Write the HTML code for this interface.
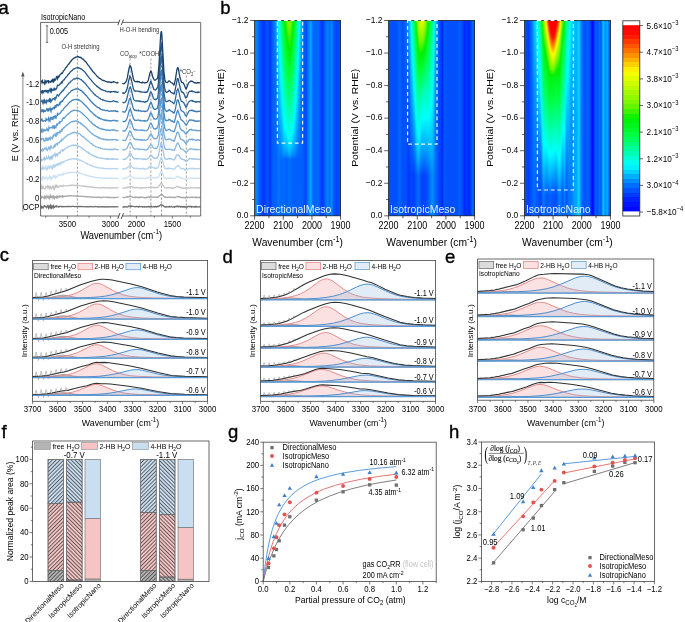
<!DOCTYPE html>
<html><head><meta charset="utf-8"><style>
html,body{margin:0;padding:0;background:#fff;width:685px;height:622px;overflow:hidden}
svg{display:block;will-change:transform}
text{font-family:"Liberation Sans",sans-serif}
</style></head><body>
<svg width="685" height="622" viewBox="0 0 685 622" font-family='"Liberation Sans", sans-serif'><defs><linearGradient id="g1" x1="0" y1="0" x2="0" y2="1"><stop offset="0.000" stop-color="#006bff"/><stop offset="0.384" stop-color="#0060ff"/><stop offset="0.998" stop-color="#005fff"/></linearGradient><linearGradient id="g2" x1="0" y1="0" x2="0" y2="1"><stop offset="0.000" stop-color="#0077ff"/><stop offset="0.410" stop-color="#0063ff"/><stop offset="0.998" stop-color="#0060ff"/></linearGradient><linearGradient id="g3" x1="0" y1="0" x2="0" y2="1"><stop offset="0.000" stop-color="#0088ff"/><stop offset="0.338" stop-color="#006aff"/><stop offset="0.998" stop-color="#0061ff"/></linearGradient><linearGradient id="g4" x1="0" y1="0" x2="0" y2="1"><stop offset="0.000" stop-color="#00a1ff"/><stop offset="0.189" stop-color="#0085ff"/><stop offset="0.430" stop-color="#006eff"/><stop offset="0.691" stop-color="#0064ff"/><stop offset="0.998" stop-color="#0064ff"/></linearGradient><linearGradient id="g5" x1="0" y1="0" x2="0" y2="1"><stop offset="0.000" stop-color="#00c6ff"/><stop offset="0.251" stop-color="#0097ff"/><stop offset="0.502" stop-color="#0078ff"/><stop offset="0.712" stop-color="#0069ff"/><stop offset="0.998" stop-color="#0069ff"/></linearGradient><linearGradient id="g6" x1="0" y1="0" x2="0" y2="1"><stop offset="0.000" stop-color="#00f6ff"/><stop offset="0.236" stop-color="#00bcff"/><stop offset="0.527" stop-color="#008aff"/><stop offset="0.712" stop-color="#0072ff"/><stop offset="0.998" stop-color="#0072ff"/></linearGradient><linearGradient id="g7" x1="0" y1="0" x2="0" y2="1"><stop offset="0.000" stop-color="#00ffdc"/><stop offset="0.128" stop-color="#00feff"/><stop offset="0.358" stop-color="#00c1ff"/><stop offset="0.712" stop-color="#0077ff"/><stop offset="0.998" stop-color="#0077ff"/></linearGradient><linearGradient id="g8" x1="0" y1="0" x2="0" y2="1"><stop offset="0.000" stop-color="#00ffb6"/><stop offset="0.230" stop-color="#00ffff"/><stop offset="0.671" stop-color="#0082ff"/><stop offset="0.712" stop-color="#0070ff"/><stop offset="0.998" stop-color="#0070ff"/></linearGradient><linearGradient id="g9" x1="0" y1="0" x2="0" y2="1"><stop offset="0.000" stop-color="#00ff90"/><stop offset="0.312" stop-color="#00feff"/><stop offset="0.599" stop-color="#009bff"/><stop offset="0.671" stop-color="#007fff"/><stop offset="0.712" stop-color="#0067ff"/><stop offset="0.998" stop-color="#0067ff"/></linearGradient><linearGradient id="g10" x1="0" y1="0" x2="0" y2="1"><stop offset="0.000" stop-color="#00ff5e"/><stop offset="0.184" stop-color="#00ffb1"/><stop offset="0.394" stop-color="#00ffff"/><stop offset="0.614" stop-color="#00a3ff"/><stop offset="0.681" stop-color="#007fff"/><stop offset="0.712" stop-color="#0065ff"/><stop offset="0.998" stop-color="#0065ff"/></linearGradient><linearGradient id="g11" x1="0" y1="0" x2="0" y2="1"><stop offset="0.000" stop-color="#00fb2f"/><stop offset="0.056" stop-color="#00ff42"/><stop offset="0.256" stop-color="#00ffa3"/><stop offset="0.481" stop-color="#00ffff"/><stop offset="0.650" stop-color="#00a5ff"/><stop offset="0.686" stop-color="#008aff"/><stop offset="0.712" stop-color="#006aff"/><stop offset="0.998" stop-color="#006aff"/></linearGradient><linearGradient id="g12" x1="0" y1="0" x2="0" y2="1"><stop offset="0.000" stop-color="#00f40f"/><stop offset="0.143" stop-color="#00ff43"/><stop offset="0.323" stop-color="#00ff9f"/><stop offset="0.533" stop-color="#00ffff"/><stop offset="0.661" stop-color="#00acff"/><stop offset="0.691" stop-color="#008eff"/><stop offset="0.712" stop-color="#006cff"/><stop offset="0.998" stop-color="#006cff"/></linearGradient><linearGradient id="g13" x1="0" y1="0" x2="0" y2="1"><stop offset="0.000" stop-color="#10f100"/><stop offset="0.020" stop-color="#00f002"/><stop offset="0.184" stop-color="#00ff41"/><stop offset="0.317" stop-color="#00ff8c"/><stop offset="0.548" stop-color="#00feff"/><stop offset="0.661" stop-color="#00abff"/><stop offset="0.691" stop-color="#0089ff"/><stop offset="0.712" stop-color="#0065ff"/><stop offset="0.998" stop-color="#0065ff"/></linearGradient><linearGradient id="g14" x1="0" y1="0" x2="0" y2="1"><stop offset="0.000" stop-color="#3bf300"/><stop offset="0.056" stop-color="#00f000"/><stop offset="0.210" stop-color="#00ff3f"/><stop offset="0.348" stop-color="#00ff91"/><stop offset="0.553" stop-color="#00fffe"/><stop offset="0.620" stop-color="#00cfff"/><stop offset="0.666" stop-color="#00a4ff"/><stop offset="0.691" stop-color="#0084ff"/><stop offset="0.712" stop-color="#005eff"/><stop offset="0.998" stop-color="#005eff"/></linearGradient><linearGradient id="g15" x1="0" y1="0" x2="0" y2="1"><stop offset="0.000" stop-color="#69f500"/><stop offset="0.097" stop-color="#00f001"/><stop offset="0.246" stop-color="#00ff40"/><stop offset="0.573" stop-color="#00ffff"/><stop offset="0.661" stop-color="#00b3ff"/><stop offset="0.691" stop-color="#008bff"/><stop offset="0.712" stop-color="#0061ff"/><stop offset="0.998" stop-color="#0061ff"/></linearGradient><linearGradient id="g16" x1="0" y1="0" x2="0" y2="1"><stop offset="0.000" stop-color="#80f600"/><stop offset="0.026" stop-color="#71f500"/><stop offset="0.128" stop-color="#00f000"/><stop offset="0.276" stop-color="#00ff40"/><stop offset="0.594" stop-color="#00ffff"/><stop offset="0.671" stop-color="#00b5ff"/><stop offset="0.696" stop-color="#008fff"/><stop offset="0.712" stop-color="#006aff"/><stop offset="0.998" stop-color="#006aff"/></linearGradient><linearGradient id="g17" x1="0" y1="0" x2="0" y2="1"><stop offset="0.000" stop-color="#89f700"/><stop offset="0.041" stop-color="#70f500"/><stop offset="0.143" stop-color="#00f001"/><stop offset="0.292" stop-color="#00ff41"/><stop offset="0.604" stop-color="#00feff"/><stop offset="0.671" stop-color="#00bdff"/><stop offset="0.691" stop-color="#00a0ff"/><stop offset="0.712" stop-color="#0070ff"/><stop offset="0.998" stop-color="#0070ff"/></linearGradient><linearGradient id="g18" x1="0" y1="0" x2="0" y2="1"><stop offset="0.000" stop-color="#84f700"/><stop offset="0.031" stop-color="#72f500"/><stop offset="0.138" stop-color="#00f002"/><stop offset="0.282" stop-color="#00ff3f"/><stop offset="0.599" stop-color="#00ffff"/><stop offset="0.676" stop-color="#00b3ff"/><stop offset="0.696" stop-color="#0093ff"/><stop offset="0.712" stop-color="#006eff"/><stop offset="0.998" stop-color="#006eff"/></linearGradient><linearGradient id="g19" x1="0" y1="0" x2="0" y2="1"><stop offset="0.000" stop-color="#74f500"/><stop offset="0.113" stop-color="#00f002"/><stop offset="0.261" stop-color="#00ff40"/><stop offset="0.584" stop-color="#00fffe"/><stop offset="0.635" stop-color="#00d5ff"/><stop offset="0.676" stop-color="#00a9ff"/><stop offset="0.696" stop-color="#008aff"/><stop offset="0.712" stop-color="#0067ff"/><stop offset="0.998" stop-color="#0067ff"/></linearGradient><linearGradient id="g20" x1="0" y1="0" x2="0" y2="1"><stop offset="0.000" stop-color="#4bf300"/><stop offset="0.072" stop-color="#00f000"/><stop offset="0.225" stop-color="#00ff3f"/><stop offset="0.568" stop-color="#00fdff"/><stop offset="0.666" stop-color="#00abff"/><stop offset="0.696" stop-color="#0082ff"/><stop offset="0.712" stop-color="#0062ff"/><stop offset="0.998" stop-color="#0062ff"/></linearGradient><linearGradient id="g21" x1="0" y1="0" x2="0" y2="1"><stop offset="0.000" stop-color="#15f100"/><stop offset="0.026" stop-color="#00f002"/><stop offset="0.184" stop-color="#00ff40"/><stop offset="0.323" stop-color="#00ff8f"/><stop offset="0.543" stop-color="#00ffff"/><stop offset="0.655" stop-color="#00acff"/><stop offset="0.686" stop-color="#008bff"/><stop offset="0.712" stop-color="#0061ff"/><stop offset="0.998" stop-color="#0061ff"/></linearGradient><linearGradient id="g22" x1="0" y1="0" x2="0" y2="1"><stop offset="0.000" stop-color="#00f412"/><stop offset="0.123" stop-color="#00ff3f"/><stop offset="0.261" stop-color="#00ff8a"/><stop offset="0.512" stop-color="#00feff"/><stop offset="0.655" stop-color="#00a2ff"/><stop offset="0.686" stop-color="#0085ff"/><stop offset="0.712" stop-color="#0060ff"/><stop offset="0.998" stop-color="#0060ff"/></linearGradient><linearGradient id="g23" x1="0" y1="0" x2="0" y2="1"><stop offset="0.000" stop-color="#00fb30"/><stop offset="0.051" stop-color="#00ff42"/><stop offset="0.251" stop-color="#00ffa6"/><stop offset="0.461" stop-color="#00fffe"/><stop offset="0.640" stop-color="#00a1ff"/><stop offset="0.686" stop-color="#007eff"/><stop offset="0.712" stop-color="#0060ff"/><stop offset="0.998" stop-color="#0060ff"/></linearGradient><linearGradient id="g24" x1="0" y1="0" x2="0" y2="1"><stop offset="0.000" stop-color="#00ff5a"/><stop offset="0.154" stop-color="#00ffa2"/><stop offset="0.394" stop-color="#00ffff"/><stop offset="0.630" stop-color="#0098ff"/><stop offset="0.676" stop-color="#007eff"/><stop offset="0.712" stop-color="#0060ff"/><stop offset="0.998" stop-color="#0060ff"/></linearGradient><linearGradient id="g25" x1="0" y1="0" x2="0" y2="1"><stop offset="0.000" stop-color="#00ff8e"/><stop offset="0.138" stop-color="#00ffc6"/><stop offset="0.307" stop-color="#00feff"/><stop offset="0.594" stop-color="#0097ff"/><stop offset="0.712" stop-color="#0060ff"/><stop offset="0.998" stop-color="#0060ff"/></linearGradient><linearGradient id="g26" x1="0" y1="0" x2="0" y2="1"><stop offset="0.000" stop-color="#00ffc0"/><stop offset="0.195" stop-color="#00feff"/><stop offset="0.712" stop-color="#0060ff"/><stop offset="0.998" stop-color="#0060ff"/></linearGradient><linearGradient id="g27" x1="0" y1="0" x2="0" y2="1"><stop offset="0.000" stop-color="#00ffec"/><stop offset="0.061" stop-color="#00ffff"/><stop offset="0.348" stop-color="#00adff"/><stop offset="0.712" stop-color="#0060ff"/><stop offset="0.998" stop-color="#0060ff"/></linearGradient><linearGradient id="g28" x1="0" y1="0" x2="0" y2="1"><stop offset="0.000" stop-color="#00e7ff"/><stop offset="0.271" stop-color="#00a3ff"/><stop offset="0.568" stop-color="#0070ff"/><stop offset="0.712" stop-color="#0060ff"/><stop offset="0.998" stop-color="#0060ff"/></linearGradient><linearGradient id="g29" x1="0" y1="0" x2="0" y2="1"><stop offset="0.000" stop-color="#00c1ff"/><stop offset="0.256" stop-color="#008eff"/><stop offset="0.492" stop-color="#006fff"/><stop offset="0.712" stop-color="#0060ff"/><stop offset="0.998" stop-color="#0060ff"/></linearGradient><linearGradient id="g30" x1="0" y1="0" x2="0" y2="1"><stop offset="0.000" stop-color="#00a1ff"/><stop offset="0.374" stop-color="#006fff"/><stop offset="0.691" stop-color="#0060ff"/><stop offset="0.998" stop-color="#0060ff"/></linearGradient><linearGradient id="g31" x1="0" y1="0" x2="0" y2="1"><stop offset="0.000" stop-color="#0083ff"/><stop offset="0.179" stop-color="#006eff"/><stop offset="0.389" stop-color="#0062ff"/><stop offset="0.998" stop-color="#005aff"/></linearGradient><linearGradient id="g32" x1="0" y1="0" x2="0" y2="1"><stop offset="0.000" stop-color="#0066ff"/><stop offset="0.435" stop-color="#0052ff"/><stop offset="0.998" stop-color="#004fff"/></linearGradient><linearGradient id="g33" x1="0" y1="0" x2="0" y2="1"><stop offset="0.000" stop-color="#0055ff"/><stop offset="0.389" stop-color="#0049ff"/><stop offset="0.998" stop-color="#0047ff"/></linearGradient><linearGradient id="g34" x1="0" y1="0" x2="0" y2="1"><stop offset="0.000" stop-color="#005aff"/><stop offset="0.456" stop-color="#004fff"/><stop offset="0.998" stop-color="#004eff"/></linearGradient><linearGradient id="g35" x1="0" y1="0" x2="0" y2="1"><stop offset="0.000" stop-color="#0065ff"/><stop offset="0.420" stop-color="#0054ff"/><stop offset="0.998" stop-color="#0050ff"/></linearGradient><linearGradient id="g36" x1="0" y1="0" x2="0" y2="1"><stop offset="0.000" stop-color="#0071ff"/><stop offset="0.420" stop-color="#0057ff"/><stop offset="0.998" stop-color="#004fff"/></linearGradient><linearGradient id="g37" x1="0" y1="0" x2="0" y2="1"><stop offset="0.000" stop-color="#007bff"/><stop offset="0.174" stop-color="#0066ff"/><stop offset="0.451" stop-color="#0052ff"/><stop offset="0.768" stop-color="#0046ff"/><stop offset="0.998" stop-color="#0046ff"/></linearGradient><linearGradient id="g38" x1="0" y1="0" x2="0" y2="1"><stop offset="0.000" stop-color="#0086ff"/><stop offset="0.169" stop-color="#0069ff"/><stop offset="0.440" stop-color="#004dff"/><stop offset="0.783" stop-color="#0038ff"/><stop offset="0.998" stop-color="#0038ff"/></linearGradient><linearGradient id="g39" x1="0" y1="0" x2="0" y2="1"><stop offset="0.000" stop-color="#00a8ff"/><stop offset="0.271" stop-color="#006dff"/><stop offset="0.451" stop-color="#0056ff"/><stop offset="0.789" stop-color="#0037ff"/><stop offset="0.998" stop-color="#0037ff"/></linearGradient><linearGradient id="g40" x1="0" y1="0" x2="0" y2="1"><stop offset="0.000" stop-color="#00e0ff"/><stop offset="0.179" stop-color="#00abff"/><stop offset="0.456" stop-color="#006dff"/><stop offset="0.794" stop-color="#0040ff"/><stop offset="0.998" stop-color="#0040ff"/></linearGradient><linearGradient id="g41" x1="0" y1="0" x2="0" y2="1"><stop offset="0.000" stop-color="#00ffeb"/><stop offset="0.061" stop-color="#00feff"/><stop offset="0.323" stop-color="#00aaff"/><stop offset="0.604" stop-color="#0066ff"/><stop offset="0.794" stop-color="#0045ff"/><stop offset="0.998" stop-color="#0045ff"/></linearGradient><linearGradient id="g42" x1="0" y1="0" x2="0" y2="1"><stop offset="0.000" stop-color="#00ffc2"/><stop offset="0.164" stop-color="#00feff"/><stop offset="0.486" stop-color="#0090ff"/><stop offset="0.789" stop-color="#0042ff"/><stop offset="0.998" stop-color="#0041ff"/></linearGradient><linearGradient id="g43" x1="0" y1="0" x2="0" y2="1"><stop offset="0.000" stop-color="#00ff93"/><stop offset="0.113" stop-color="#00ffc9"/><stop offset="0.251" stop-color="#00feff"/><stop offset="0.599" stop-color="#007bff"/><stop offset="0.794" stop-color="#003eff"/><stop offset="0.998" stop-color="#003eff"/></linearGradient><linearGradient id="g44" x1="0" y1="0" x2="0" y2="1"><stop offset="0.000" stop-color="#00ff57"/><stop offset="0.133" stop-color="#00ffa5"/><stop offset="0.338" stop-color="#00ffff"/><stop offset="0.794" stop-color="#0042ff"/><stop offset="0.998" stop-color="#0042ff"/></linearGradient><linearGradient id="g45" x1="0" y1="0" x2="0" y2="1"><stop offset="0.000" stop-color="#00f925"/><stop offset="0.056" stop-color="#00ff3e"/><stop offset="0.230" stop-color="#00ffa9"/><stop offset="0.415" stop-color="#00fffe"/><stop offset="0.794" stop-color="#004bff"/><stop offset="0.998" stop-color="#004bff"/></linearGradient><linearGradient id="g46" x1="0" y1="0" x2="0" y2="1"><stop offset="0.000" stop-color="#12f100"/><stop offset="0.015" stop-color="#00f001"/><stop offset="0.138" stop-color="#00ff3e"/><stop offset="0.302" stop-color="#00ffa7"/><stop offset="0.486" stop-color="#00ffff"/><stop offset="0.661" stop-color="#00a5ff"/><stop offset="0.794" stop-color="#0056ff"/><stop offset="0.998" stop-color="#0056ff"/></linearGradient><linearGradient id="g47" x1="0" y1="0" x2="0" y2="1"><stop offset="0.000" stop-color="#76f600"/><stop offset="0.087" stop-color="#01f000"/><stop offset="0.210" stop-color="#00ff3f"/><stop offset="0.353" stop-color="#00ffa0"/><stop offset="0.543" stop-color="#00fffe"/><stop offset="0.712" stop-color="#009fff"/><stop offset="0.794" stop-color="#0063ff"/><stop offset="0.998" stop-color="#0063ff"/></linearGradient><linearGradient id="g48" x1="0" y1="0" x2="0" y2="1"><stop offset="0.000" stop-color="#a8f900"/><stop offset="0.067" stop-color="#70f500"/><stop offset="0.143" stop-color="#00f001"/><stop offset="0.261" stop-color="#00ff41"/><stop offset="0.328" stop-color="#00ff74"/><stop offset="0.415" stop-color="#00ffab"/><stop offset="0.584" stop-color="#00feff"/><stop offset="0.732" stop-color="#00a1ff"/><stop offset="0.794" stop-color="#006dff"/><stop offset="0.998" stop-color="#006dff"/></linearGradient><linearGradient id="g49" x1="0" y1="0" x2="0" y2="1"><stop offset="0.000" stop-color="#cafc00"/><stop offset="0.097" stop-color="#70f500"/><stop offset="0.169" stop-color="#00f001"/><stop offset="0.276" stop-color="#00ff41"/><stop offset="0.410" stop-color="#00ffa6"/><stop offset="0.579" stop-color="#00ffff"/><stop offset="0.712" stop-color="#00abff"/><stop offset="0.794" stop-color="#0068ff"/><stop offset="0.998" stop-color="#0068ff"/></linearGradient><linearGradient id="g50" x1="0" y1="0" x2="0" y2="1"><stop offset="0.000" stop-color="#ddfd00"/><stop offset="0.108" stop-color="#72f500"/><stop offset="0.174" stop-color="#00f000"/><stop offset="0.271" stop-color="#00ff3f"/><stop offset="0.399" stop-color="#00ffab"/><stop offset="0.553" stop-color="#00feff"/><stop offset="0.676" stop-color="#00b2ff"/><stop offset="0.794" stop-color="#005aff"/><stop offset="0.998" stop-color="#005aff"/></linearGradient><linearGradient id="g51" x1="0" y1="0" x2="0" y2="1"><stop offset="0.000" stop-color="#e3fd00"/><stop offset="0.108" stop-color="#71f500"/><stop offset="0.169" stop-color="#02f000"/><stop offset="0.174" stop-color="#00f103"/><stop offset="0.261" stop-color="#00ff40"/><stop offset="0.379" stop-color="#00ffad"/><stop offset="0.451" stop-color="#00ffde"/><stop offset="0.512" stop-color="#00fffe"/><stop offset="0.666" stop-color="#00a3ff"/><stop offset="0.794" stop-color="#0049ff"/><stop offset="0.998" stop-color="#0049ff"/></linearGradient><linearGradient id="g52" x1="0" y1="0" x2="0" y2="1"><stop offset="0.000" stop-color="#e3fd00"/><stop offset="0.108" stop-color="#6ff500"/><stop offset="0.169" stop-color="#00f002"/><stop offset="0.256" stop-color="#00ff40"/><stop offset="0.333" stop-color="#00ff8e"/><stop offset="0.399" stop-color="#00ffc4"/><stop offset="0.497" stop-color="#00ffff"/><stop offset="0.655" stop-color="#00a0ff"/><stop offset="0.794" stop-color="#0041ff"/><stop offset="0.998" stop-color="#0041ff"/></linearGradient><linearGradient id="g53" x1="0" y1="0" x2="0" y2="1"><stop offset="0.000" stop-color="#dcfd00"/><stop offset="0.102" stop-color="#70f500"/><stop offset="0.164" stop-color="#00f000"/><stop offset="0.256" stop-color="#00ff42"/><stop offset="0.328" stop-color="#00ff89"/><stop offset="0.394" stop-color="#00ffbf"/><stop offset="0.502" stop-color="#00feff"/><stop offset="0.666" stop-color="#009cff"/><stop offset="0.794" stop-color="#0043ff"/><stop offset="0.998" stop-color="#0043ff"/></linearGradient><linearGradient id="g54" x1="0" y1="0" x2="0" y2="1"><stop offset="0.000" stop-color="#c6fb00"/><stop offset="0.082" stop-color="#73f500"/><stop offset="0.148" stop-color="#00f000"/><stop offset="0.241" stop-color="#00ff3f"/><stop offset="0.374" stop-color="#00ffb5"/><stop offset="0.497" stop-color="#00ffff"/><stop offset="0.650" stop-color="#00a4ff"/><stop offset="0.794" stop-color="#0043ff"/><stop offset="0.998" stop-color="#0043ff"/></linearGradient><linearGradient id="g55" x1="0" y1="0" x2="0" y2="1"><stop offset="0.000" stop-color="#a8f900"/><stop offset="0.056" stop-color="#73f500"/><stop offset="0.128" stop-color="#00f002"/><stop offset="0.225" stop-color="#00ff40"/><stop offset="0.358" stop-color="#00ffaf"/><stop offset="0.497" stop-color="#00feff"/><stop offset="0.650" stop-color="#00a5ff"/><stop offset="0.794" stop-color="#0045ff"/><stop offset="0.998" stop-color="#0045ff"/></linearGradient><linearGradient id="g56" x1="0" y1="0" x2="0" y2="1"><stop offset="0.000" stop-color="#85f700"/><stop offset="0.026" stop-color="#6ef500"/><stop offset="0.097" stop-color="#00f001"/><stop offset="0.205" stop-color="#00ff40"/><stop offset="0.287" stop-color="#00ff83"/><stop offset="0.364" stop-color="#00ffb7"/><stop offset="0.497" stop-color="#00fffe"/><stop offset="0.676" stop-color="#0099ff"/><stop offset="0.794" stop-color="#004bff"/><stop offset="0.998" stop-color="#004bff"/></linearGradient><linearGradient id="g57" x1="0" y1="0" x2="0" y2="1"><stop offset="0.000" stop-color="#50f400"/><stop offset="0.056" stop-color="#00f000"/><stop offset="0.174" stop-color="#00ff3f"/><stop offset="0.271" stop-color="#00ff86"/><stop offset="0.348" stop-color="#00ffb5"/><stop offset="0.497" stop-color="#00ffff"/><stop offset="0.609" stop-color="#00c3ff"/><stop offset="0.794" stop-color="#0052ff"/><stop offset="0.998" stop-color="#0052ff"/></linearGradient><linearGradient id="g58" x1="0" y1="0" x2="0" y2="1"><stop offset="0.000" stop-color="#08f000"/><stop offset="0.010" stop-color="#00f102"/><stop offset="0.133" stop-color="#00ff3e"/><stop offset="0.292" stop-color="#00ffa1"/><stop offset="0.492" stop-color="#00ffff"/><stop offset="0.661" stop-color="#00a9ff"/><stop offset="0.794" stop-color="#005aff"/><stop offset="0.998" stop-color="#005aff"/></linearGradient><linearGradient id="g59" x1="0" y1="0" x2="0" y2="1"><stop offset="0.000" stop-color="#00f619"/><stop offset="0.092" stop-color="#00ff40"/><stop offset="0.266" stop-color="#00ffa2"/><stop offset="0.486" stop-color="#00feff"/><stop offset="0.696" stop-color="#009cff"/><stop offset="0.794" stop-color="#0065ff"/><stop offset="0.998" stop-color="#0065ff"/></linearGradient><linearGradient id="g60" x1="0" y1="0" x2="0" y2="1"><stop offset="0.000" stop-color="#00fc33"/><stop offset="0.236" stop-color="#00ffa4"/><stop offset="0.471" stop-color="#00fffe"/><stop offset="0.681" stop-color="#00aaff"/><stop offset="0.794" stop-color="#0072ff"/><stop offset="0.998" stop-color="#0072ff"/></linearGradient><linearGradient id="g61" x1="0" y1="0" x2="0" y2="1"><stop offset="0.000" stop-color="#00ff52"/><stop offset="0.200" stop-color="#00ffaa"/><stop offset="0.451" stop-color="#00ffff"/><stop offset="0.794" stop-color="#0081ff"/><stop offset="0.998" stop-color="#0081ff"/></linearGradient><linearGradient id="g62" x1="0" y1="0" x2="0" y2="1"><stop offset="0.000" stop-color="#00ff7b"/><stop offset="0.154" stop-color="#00ffb5"/><stop offset="0.405" stop-color="#00feff"/><stop offset="0.794" stop-color="#008aff"/><stop offset="0.998" stop-color="#008aff"/></linearGradient><linearGradient id="g63" x1="0" y1="0" x2="0" y2="1"><stop offset="0.000" stop-color="#00ffab"/><stop offset="0.297" stop-color="#00ffff"/><stop offset="0.533" stop-color="#00c2ff"/><stop offset="0.794" stop-color="#0089ff"/><stop offset="0.998" stop-color="#0089ff"/></linearGradient><linearGradient id="g64" x1="0" y1="0" x2="0" y2="1"><stop offset="0.000" stop-color="#00ffe1"/><stop offset="0.118" stop-color="#00ffff"/><stop offset="0.374" stop-color="#00c1ff"/><stop offset="0.794" stop-color="#007aff"/><stop offset="0.998" stop-color="#007aff"/></linearGradient><linearGradient id="g65" x1="0" y1="0" x2="0" y2="1"><stop offset="0.000" stop-color="#00e4ff"/><stop offset="0.276" stop-color="#00a9ff"/><stop offset="0.538" stop-color="#0082ff"/><stop offset="0.789" stop-color="#006aff"/><stop offset="0.998" stop-color="#006aff"/></linearGradient><linearGradient id="g66" x1="0" y1="0" x2="0" y2="1"><stop offset="0.000" stop-color="#00b2ff"/><stop offset="0.236" stop-color="#008bff"/><stop offset="0.466" stop-color="#0070ff"/><stop offset="0.778" stop-color="#005fff"/><stop offset="0.998" stop-color="#005fff"/></linearGradient><linearGradient id="g67" x1="0" y1="0" x2="0" y2="1"><stop offset="0.000" stop-color="#008eff"/><stop offset="0.200" stop-color="#0074ff"/><stop offset="0.440" stop-color="#0063ff"/><stop offset="0.998" stop-color="#0058ff"/></linearGradient><linearGradient id="g68" x1="0" y1="0" x2="0" y2="1"><stop offset="0.000" stop-color="#0072ff"/><stop offset="0.476" stop-color="#0058ff"/><stop offset="0.998" stop-color="#0053ff"/></linearGradient><linearGradient id="g69" x1="0" y1="0" x2="0" y2="1"><stop offset="0.000" stop-color="#0059ff"/><stop offset="0.435" stop-color="#0049ff"/><stop offset="0.998" stop-color="#0046ff"/></linearGradient><linearGradient id="g70" x1="0" y1="0" x2="0" y2="1"><stop offset="0.000" stop-color="#0046ff"/><stop offset="0.435" stop-color="#003cff"/><stop offset="0.998" stop-color="#003bff"/></linearGradient><linearGradient id="g71" x1="0" y1="0" x2="0" y2="1"><stop offset="0.000" stop-color="#0056ff"/><stop offset="0.998" stop-color="#0047ff"/></linearGradient><linearGradient id="g72" x1="0" y1="0" x2="0" y2="1"><stop offset="0.000" stop-color="#0069ff"/><stop offset="0.451" stop-color="#0059ff"/><stop offset="0.998" stop-color="#0052ff"/></linearGradient><linearGradient id="g73" x1="0" y1="0" x2="0" y2="1"><stop offset="0.000" stop-color="#0075ff"/><stop offset="0.461" stop-color="#005eff"/><stop offset="0.998" stop-color="#0054ff"/></linearGradient><linearGradient id="g74" x1="0" y1="0" x2="0" y2="1"><stop offset="0.000" stop-color="#0092ff"/><stop offset="0.405" stop-color="#006fff"/><stop offset="0.998" stop-color="#005dff"/></linearGradient><linearGradient id="g75" x1="0" y1="0" x2="0" y2="1"><stop offset="0.000" stop-color="#00bcff"/><stop offset="0.497" stop-color="#0085ff"/><stop offset="0.835" stop-color="#006fff"/><stop offset="0.998" stop-color="#006dff"/></linearGradient><linearGradient id="g76" x1="0" y1="0" x2="0" y2="1"><stop offset="0.000" stop-color="#00cfff"/><stop offset="0.215" stop-color="#00aaff"/><stop offset="0.543" stop-color="#0081ff"/><stop offset="0.789" stop-color="#006cff"/><stop offset="0.998" stop-color="#0066ff"/></linearGradient><linearGradient id="g77" x1="0" y1="0" x2="0" y2="1"><stop offset="0.000" stop-color="#00e1ff"/><stop offset="0.241" stop-color="#00adff"/><stop offset="0.563" stop-color="#007aff"/><stop offset="0.850" stop-color="#005eff"/><stop offset="0.998" stop-color="#005bff"/></linearGradient><linearGradient id="g78" x1="0" y1="0" x2="0" y2="1"><stop offset="0.000" stop-color="#00fff8"/><stop offset="0.020" stop-color="#00ffff"/><stop offset="0.307" stop-color="#00b7ff"/><stop offset="0.609" stop-color="#007dff"/><stop offset="0.896" stop-color="#005aff"/><stop offset="0.998" stop-color="#005aff"/></linearGradient><linearGradient id="g79" x1="0" y1="0" x2="0" y2="1"><stop offset="0.000" stop-color="#00ffd3"/><stop offset="0.138" stop-color="#00ffff"/><stop offset="0.394" stop-color="#00b8ff"/><stop offset="0.614" stop-color="#0085ff"/><stop offset="0.891" stop-color="#0058ff"/><stop offset="0.998" stop-color="#0057ff"/></linearGradient><linearGradient id="g80" x1="0" y1="0" x2="0" y2="1"><stop offset="0.000" stop-color="#00ffb1"/><stop offset="0.087" stop-color="#00ffd7"/><stop offset="0.215" stop-color="#00ffff"/><stop offset="0.456" stop-color="#00b2ff"/><stop offset="0.701" stop-color="#0070ff"/><stop offset="0.901" stop-color="#004dff"/><stop offset="0.998" stop-color="#004dff"/></linearGradient><linearGradient id="g81" x1="0" y1="0" x2="0" y2="1"><stop offset="0.000" stop-color="#00ff89"/><stop offset="0.108" stop-color="#00ffc3"/><stop offset="0.276" stop-color="#00ffff"/><stop offset="0.691" stop-color="#0070ff"/><stop offset="0.901" stop-color="#0042ff"/><stop offset="0.998" stop-color="#0042ff"/></linearGradient><linearGradient id="g82" x1="0" y1="0" x2="0" y2="1"><stop offset="0.000" stop-color="#00ff4d"/><stop offset="0.051" stop-color="#00ff77"/><stop offset="0.113" stop-color="#00ff9b"/><stop offset="0.364" stop-color="#00feff"/><stop offset="0.727" stop-color="#006fff"/><stop offset="0.901" stop-color="#0042ff"/><stop offset="0.998" stop-color="#0042ff"/></linearGradient><linearGradient id="g83" x1="0" y1="0" x2="0" y2="1"><stop offset="0.000" stop-color="#00f515"/><stop offset="0.072" stop-color="#00ff3e"/><stop offset="0.164" stop-color="#00ff77"/><stop offset="0.476" stop-color="#00ffff"/><stop offset="0.804" stop-color="#006fff"/><stop offset="0.901" stop-color="#0052ff"/><stop offset="0.998" stop-color="#0052ff"/></linearGradient><linearGradient id="g84" x1="0" y1="0" x2="0" y2="1"><stop offset="0.000" stop-color="#64f400"/><stop offset="0.031" stop-color="#2cf200"/><stop offset="0.061" stop-color="#00f002"/><stop offset="0.128" stop-color="#00f925"/><stop offset="0.200" stop-color="#00ff3f"/><stop offset="0.604" stop-color="#00ffff"/><stop offset="0.896" stop-color="#0072ff"/><stop offset="0.998" stop-color="#0071ff"/></linearGradient><linearGradient id="g85" x1="0" y1="0" x2="0" y2="1"><stop offset="0.000" stop-color="#a6f900"/><stop offset="0.051" stop-color="#70f500"/><stop offset="0.077" stop-color="#42f300"/><stop offset="0.123" stop-color="#00f000"/><stop offset="0.292" stop-color="#00ff43"/><stop offset="0.655" stop-color="#00ffff"/><stop offset="0.901" stop-color="#007aff"/><stop offset="0.998" stop-color="#007aff"/></linearGradient><linearGradient id="g86" x1="0" y1="0" x2="0" y2="1"><stop offset="0.000" stop-color="#d2fc00"/><stop offset="0.082" stop-color="#71f500"/><stop offset="0.118" stop-color="#2ff200"/><stop offset="0.148" stop-color="#00f000"/><stop offset="0.200" stop-color="#00f61b"/><stop offset="0.297" stop-color="#00ff3f"/><stop offset="0.640" stop-color="#00feff"/><stop offset="0.886" stop-color="#006cff"/><stop offset="0.901" stop-color="#0066ff"/><stop offset="0.998" stop-color="#0066ff"/></linearGradient><linearGradient id="g87" x1="0" y1="0" x2="0" y2="1"><stop offset="0.000" stop-color="#fff100"/><stop offset="0.010" stop-color="#f9ff00"/><stop offset="0.061" stop-color="#b1fa00"/><stop offset="0.118" stop-color="#6df500"/><stop offset="0.179" stop-color="#00f000"/><stop offset="0.241" stop-color="#00f821"/><stop offset="0.323" stop-color="#00ff40"/><stop offset="0.640" stop-color="#00ffff"/><stop offset="0.891" stop-color="#0061ff"/><stop offset="0.998" stop-color="#005dff"/></linearGradient><linearGradient id="g88" x1="0" y1="0" x2="0" y2="1"><stop offset="0.000" stop-color="#ff9300"/><stop offset="0.041" stop-color="#fffd00"/><stop offset="0.148" stop-color="#6df500"/><stop offset="0.189" stop-color="#1bf100"/><stop offset="0.210" stop-color="#00f103"/><stop offset="0.266" stop-color="#00f822"/><stop offset="0.343" stop-color="#00ff40"/><stop offset="0.645" stop-color="#00feff"/><stop offset="0.819" stop-color="#0084ff"/><stop offset="0.891" stop-color="#005aff"/><stop offset="0.998" stop-color="#0056ff"/></linearGradient><linearGradient id="g89" x1="0" y1="0" x2="0" y2="1"><stop offset="0.000" stop-color="#ff3600"/><stop offset="0.077" stop-color="#fffc00"/><stop offset="0.082" stop-color="#f9ff00"/><stop offset="0.179" stop-color="#6ff500"/><stop offset="0.210" stop-color="#2cf200"/><stop offset="0.236" stop-color="#00f001"/><stop offset="0.287" stop-color="#00f71f"/><stop offset="0.379" stop-color="#00ff46"/><stop offset="0.661" stop-color="#00fdff"/><stop offset="0.886" stop-color="#005eff"/><stop offset="0.901" stop-color="#0057ff"/><stop offset="0.998" stop-color="#0057ff"/></linearGradient><linearGradient id="g90" x1="0" y1="0" x2="0" y2="1"><stop offset="0.000" stop-color="#ff0100"/><stop offset="0.020" stop-color="#ff1000"/><stop offset="0.113" stop-color="#feff00"/><stop offset="0.210" stop-color="#6df500"/><stop offset="0.261" stop-color="#00f000"/><stop offset="0.302" stop-color="#00f619"/><stop offset="0.405" stop-color="#00ff44"/><stop offset="0.676" stop-color="#00fffe"/><stop offset="0.896" stop-color="#005fff"/><stop offset="0.998" stop-color="#005dff"/></linearGradient><linearGradient id="g91" x1="0" y1="0" x2="0" y2="1"><stop offset="0.000" stop-color="#ff0000"/><stop offset="0.031" stop-color="#ff0100"/><stop offset="0.051" stop-color="#ff1200"/><stop offset="0.092" stop-color="#ff7a00"/><stop offset="0.138" stop-color="#fffb00"/><stop offset="0.143" stop-color="#f9ff00"/><stop offset="0.230" stop-color="#70f500"/><stop offset="0.276" stop-color="#00f000"/><stop offset="0.292" stop-color="#00f30d"/><stop offset="0.420" stop-color="#00ff44"/><stop offset="0.686" stop-color="#00fffe"/><stop offset="0.896" stop-color="#0062ff"/><stop offset="0.998" stop-color="#0060ff"/></linearGradient><linearGradient id="g92" x1="0" y1="0" x2="0" y2="1"><stop offset="0.000" stop-color="#ff0000"/><stop offset="0.051" stop-color="#ff0100"/><stop offset="0.072" stop-color="#ff1000"/><stop offset="0.118" stop-color="#ff8600"/><stop offset="0.159" stop-color="#fffc00"/><stop offset="0.164" stop-color="#f8ff00"/><stop offset="0.246" stop-color="#6cf500"/><stop offset="0.282" stop-color="#03f000"/><stop offset="0.287" stop-color="#00f105"/><stop offset="0.420" stop-color="#00ff41"/><stop offset="0.691" stop-color="#00fdff"/><stop offset="0.870" stop-color="#0070ff"/><stop offset="0.901" stop-color="#005eff"/><stop offset="0.998" stop-color="#005eff"/></linearGradient><linearGradient id="g93" x1="0" y1="0" x2="0" y2="1"><stop offset="0.000" stop-color="#ff0000"/><stop offset="0.061" stop-color="#ff0000"/><stop offset="0.082" stop-color="#ff0f00"/><stop offset="0.123" stop-color="#ff7700"/><stop offset="0.169" stop-color="#fffd00"/><stop offset="0.174" stop-color="#f7ff00"/><stop offset="0.246" stop-color="#77f600"/><stop offset="0.282" stop-color="#01f000"/><stop offset="0.292" stop-color="#00f30f"/><stop offset="0.410" stop-color="#00ff41"/><stop offset="0.676" stop-color="#00ffff"/><stop offset="0.855" stop-color="#0071ff"/><stop offset="0.896" stop-color="#0058ff"/><stop offset="0.998" stop-color="#0056ff"/></linearGradient><linearGradient id="g94" x1="0" y1="0" x2="0" y2="1"><stop offset="0.000" stop-color="#ff0000"/><stop offset="0.061" stop-color="#ff0000"/><stop offset="0.087" stop-color="#ff1000"/><stop offset="0.133" stop-color="#ff8900"/><stop offset="0.174" stop-color="#feff00"/><stop offset="0.251" stop-color="#70f500"/><stop offset="0.282" stop-color="#00f000"/><stop offset="0.292" stop-color="#00f411"/><stop offset="0.410" stop-color="#00ff45"/><stop offset="0.671" stop-color="#00ffff"/><stop offset="0.850" stop-color="#0070ff"/><stop offset="0.901" stop-color="#0052ff"/><stop offset="0.998" stop-color="#0052ff"/></linearGradient><linearGradient id="g95" x1="0" y1="0" x2="0" y2="1"><stop offset="0.000" stop-color="#ff0000"/><stop offset="0.061" stop-color="#ff0000"/><stop offset="0.082" stop-color="#ff0e00"/><stop offset="0.123" stop-color="#ff7200"/><stop offset="0.164" stop-color="#ffe900"/><stop offset="0.174" stop-color="#faff00"/><stop offset="0.251" stop-color="#6ff500"/><stop offset="0.282" stop-color="#03f000"/><stop offset="0.287" stop-color="#00f207"/><stop offset="0.297" stop-color="#00f411"/><stop offset="0.410" stop-color="#00ff41"/><stop offset="0.676" stop-color="#00fffe"/><stop offset="0.855" stop-color="#0071ff"/><stop offset="0.901" stop-color="#0056ff"/><stop offset="0.998" stop-color="#0056ff"/></linearGradient><linearGradient id="g96" x1="0" y1="0" x2="0" y2="1"><stop offset="0.000" stop-color="#ff0000"/><stop offset="0.046" stop-color="#ff0000"/><stop offset="0.067" stop-color="#ff0e00"/><stop offset="0.102" stop-color="#ff6600"/><stop offset="0.154" stop-color="#fff700"/><stop offset="0.159" stop-color="#fbff00"/><stop offset="0.236" stop-color="#76f500"/><stop offset="0.276" stop-color="#00f002"/><stop offset="0.292" stop-color="#00f515"/><stop offset="0.399" stop-color="#00ff44"/><stop offset="0.666" stop-color="#00fdff"/><stop offset="0.845" stop-color="#0070ff"/><stop offset="0.896" stop-color="#0051ff"/><stop offset="0.998" stop-color="#004fff"/></linearGradient><linearGradient id="g97" x1="0" y1="0" x2="0" y2="1"><stop offset="0.000" stop-color="#ff0000"/><stop offset="0.026" stop-color="#ff0100"/><stop offset="0.046" stop-color="#ff1000"/><stop offset="0.092" stop-color="#ff8700"/><stop offset="0.133" stop-color="#fffc00"/><stop offset="0.138" stop-color="#f8ff00"/><stop offset="0.220" stop-color="#73f500"/><stop offset="0.261" stop-color="#05f000"/><stop offset="0.266" stop-color="#00f103"/><stop offset="0.292" stop-color="#00f61c"/><stop offset="0.379" stop-color="#00ff40"/><stop offset="0.650" stop-color="#00fffe"/><stop offset="0.835" stop-color="#0070ff"/><stop offset="0.896" stop-color="#004cff"/><stop offset="0.998" stop-color="#004aff"/></linearGradient><linearGradient id="g98" x1="0" y1="0" x2="0" y2="1"><stop offset="0.000" stop-color="#ff0000"/><stop offset="0.026" stop-color="#ff1700"/><stop offset="0.067" stop-color="#ff7e00"/><stop offset="0.113" stop-color="#fffd00"/><stop offset="0.118" stop-color="#f7ff00"/><stop offset="0.205" stop-color="#73f500"/><stop offset="0.256" stop-color="#00f000"/><stop offset="0.292" stop-color="#00f61a"/><stop offset="0.384" stop-color="#00ff40"/><stop offset="0.661" stop-color="#00fffe"/><stop offset="0.850" stop-color="#0070ff"/><stop offset="0.901" stop-color="#0053ff"/><stop offset="0.998" stop-color="#0053ff"/></linearGradient><linearGradient id="g99" x1="0" y1="0" x2="0" y2="1"><stop offset="0.000" stop-color="#ff1400"/><stop offset="0.092" stop-color="#feff00"/><stop offset="0.133" stop-color="#c0fb00"/><stop offset="0.195" stop-color="#70f500"/><stop offset="0.225" stop-color="#30f200"/><stop offset="0.256" stop-color="#00f001"/><stop offset="0.405" stop-color="#00ff43"/><stop offset="0.686" stop-color="#00ffff"/><stop offset="0.886" stop-color="#006dff"/><stop offset="0.901" stop-color="#0066ff"/><stop offset="0.998" stop-color="#0066ff"/></linearGradient><linearGradient id="g100" x1="0" y1="0" x2="0" y2="1"><stop offset="0.000" stop-color="#ff5b00"/><stop offset="0.067" stop-color="#feff00"/><stop offset="0.128" stop-color="#a8f900"/><stop offset="0.179" stop-color="#6df500"/><stop offset="0.220" stop-color="#26f200"/><stop offset="0.251" stop-color="#00f001"/><stop offset="0.405" stop-color="#00ff3f"/><stop offset="0.707" stop-color="#00ffff"/><stop offset="0.901" stop-color="#0077ff"/><stop offset="0.998" stop-color="#0077ff"/></linearGradient><linearGradient id="g101" x1="0" y1="0" x2="0" y2="1"><stop offset="0.000" stop-color="#ffb800"/><stop offset="0.031" stop-color="#fdff00"/><stop offset="0.097" stop-color="#a5f900"/><stop offset="0.143" stop-color="#74f500"/><stop offset="0.189" stop-color="#2af200"/><stop offset="0.225" stop-color="#00f001"/><stop offset="0.384" stop-color="#00ff3f"/><stop offset="0.701" stop-color="#00ffff"/><stop offset="0.896" stop-color="#007fff"/><stop offset="0.998" stop-color="#007dff"/></linearGradient><linearGradient id="g102" x1="0" y1="0" x2="0" y2="1"><stop offset="0.000" stop-color="#e4fd00"/><stop offset="0.041" stop-color="#aefa00"/><stop offset="0.097" stop-color="#70f500"/><stop offset="0.128" stop-color="#38f300"/><stop offset="0.169" stop-color="#00f002"/><stop offset="0.328" stop-color="#00ff42"/><stop offset="0.661" stop-color="#00feff"/><stop offset="0.896" stop-color="#006fff"/><stop offset="0.998" stop-color="#006eff"/></linearGradient><linearGradient id="g103" x1="0" y1="0" x2="0" y2="1"><stop offset="0.000" stop-color="#9bf800"/><stop offset="0.036" stop-color="#72f500"/><stop offset="0.082" stop-color="#1df100"/><stop offset="0.102" stop-color="#00f002"/><stop offset="0.159" stop-color="#00f822"/><stop offset="0.230" stop-color="#00ff3e"/><stop offset="0.594" stop-color="#00ffff"/><stop offset="0.850" stop-color="#0070ff"/><stop offset="0.896" stop-color="#005dff"/><stop offset="0.998" stop-color="#005cff"/></linearGradient><linearGradient id="g104" x1="0" y1="0" x2="0" y2="1"><stop offset="0.000" stop-color="#53f400"/><stop offset="0.046" stop-color="#00f000"/><stop offset="0.092" stop-color="#00f71e"/><stop offset="0.164" stop-color="#00ff3e"/><stop offset="0.553" stop-color="#00ffff"/><stop offset="0.860" stop-color="#0067ff"/><stop offset="0.901" stop-color="#0059ff"/><stop offset="0.998" stop-color="#0059ff"/></linearGradient><linearGradient id="g105" x1="0" y1="0" x2="0" y2="1"><stop offset="0.000" stop-color="#13f100"/><stop offset="0.015" stop-color="#00f102"/><stop offset="0.061" stop-color="#00f71e"/><stop offset="0.138" stop-color="#00ff3e"/><stop offset="0.343" stop-color="#00ff9f"/><stop offset="0.568" stop-color="#00fffe"/><stop offset="0.896" stop-color="#0071ff"/><stop offset="0.998" stop-color="#0070ff"/></linearGradient><linearGradient id="g106" x1="0" y1="0" x2="0" y2="1"><stop offset="0.000" stop-color="#00f517"/><stop offset="0.087" stop-color="#00ff3f"/><stop offset="0.220" stop-color="#00ff7d"/><stop offset="0.553" stop-color="#00fffd"/><stop offset="0.896" stop-color="#0081ff"/><stop offset="0.998" stop-color="#0080ff"/></linearGradient><linearGradient id="g107" x1="0" y1="0" x2="0" y2="1"><stop offset="0.000" stop-color="#00ff66"/><stop offset="0.067" stop-color="#00ff90"/><stop offset="0.128" stop-color="#00ffac"/><stop offset="0.364" stop-color="#00ffff"/><stop offset="0.778" stop-color="#0071ff"/><stop offset="0.901" stop-color="#0056ff"/><stop offset="0.998" stop-color="#0056ff"/></linearGradient><linearGradient id="g108" x1="0" y1="0" x2="0" y2="1"><stop offset="0.000" stop-color="#00ff9c"/><stop offset="0.087" stop-color="#00ffc4"/><stop offset="0.276" stop-color="#00feff"/><stop offset="0.486" stop-color="#00baff"/><stop offset="0.758" stop-color="#0070ff"/><stop offset="0.896" stop-color="#0057ff"/><stop offset="0.998" stop-color="#0057ff"/></linearGradient><linearGradient id="g109" x1="0" y1="0" x2="0" y2="1"><stop offset="0.000" stop-color="#00ffb4"/><stop offset="0.087" stop-color="#00ffd4"/><stop offset="0.251" stop-color="#00feff"/><stop offset="0.492" stop-color="#00bdff"/><stop offset="0.753" stop-color="#0083ff"/><stop offset="0.896" stop-color="#006aff"/><stop offset="0.998" stop-color="#006aff"/></linearGradient><linearGradient id="g110" x1="0" y1="0" x2="0" y2="1"><stop offset="0.000" stop-color="#00ffd4"/><stop offset="0.164" stop-color="#00ffff"/><stop offset="0.461" stop-color="#00bbff"/><stop offset="0.661" stop-color="#0096ff"/><stop offset="0.886" stop-color="#0074ff"/><stop offset="0.998" stop-color="#0073ff"/></linearGradient><linearGradient id="g111" x1="0" y1="0" x2="0" y2="1"><stop offset="0.000" stop-color="#00fff4"/><stop offset="0.046" stop-color="#00ffff"/><stop offset="0.317" stop-color="#00c7ff"/><stop offset="0.584" stop-color="#009cff"/><stop offset="0.901" stop-color="#0077ff"/><stop offset="0.998" stop-color="#0077ff"/></linearGradient><linearGradient id="g112" x1="0" y1="0" x2="0" y2="1"><stop offset="0.000" stop-color="#00e9ff"/><stop offset="0.241" stop-color="#00beff"/><stop offset="0.527" stop-color="#0098ff"/><stop offset="0.876" stop-color="#0078ff"/><stop offset="0.998" stop-color="#0077ff"/></linearGradient><linearGradient id="g113" x1="0" y1="0" x2="0" y2="1"><stop offset="0.000" stop-color="#00d0ff"/><stop offset="0.507" stop-color="#0094ff"/><stop offset="0.840" stop-color="#007dff"/><stop offset="0.998" stop-color="#007aff"/></linearGradient><linearGradient id="g114" x1="0" y1="0" x2="0" y2="1"><stop offset="0.000" stop-color="#00c8ff"/><stop offset="0.502" stop-color="#009bff"/><stop offset="0.998" stop-color="#0089ff"/></linearGradient><linearGradient id="g115" x1="0" y1="0" x2="0" y2="1"><stop offset="0.000" stop-color="#00c8ff"/><stop offset="0.502" stop-color="#00a7ff"/><stop offset="0.998" stop-color="#009bff"/></linearGradient><linearGradient id="g116" x1="0" y1="0" x2="0" y2="1"><stop offset="0.000" stop-color="#00c1ff"/><stop offset="0.512" stop-color="#00a9ff"/><stop offset="0.998" stop-color="#00a1ff"/></linearGradient><linearGradient id="g117" x1="0" y1="0" x2="0" y2="1"><stop offset="0.000" stop-color="#00b4ff"/><stop offset="0.420" stop-color="#00a5ff"/><stop offset="0.998" stop-color="#009eff"/></linearGradient><linearGradient id="g118" x1="0" y1="0" x2="0" y2="1"><stop offset="0.000" stop-color="#00b7ff"/><stop offset="0.998" stop-color="#00a9ff"/></linearGradient><linearGradient id="cbar" x1="0" y1="0" x2="0" y2="1"><stop offset="0.0000" stop-color="#ff0400"/><stop offset="0.0250" stop-color="#ff0400"/><stop offset="0.0250" stop-color="#ff0c00"/><stop offset="0.0500" stop-color="#ff0c00"/><stop offset="0.0500" stop-color="#ff1e00"/><stop offset="0.0750" stop-color="#ff1e00"/><stop offset="0.0750" stop-color="#ff3a00"/><stop offset="0.1000" stop-color="#ff3a00"/><stop offset="0.1000" stop-color="#ff5600"/><stop offset="0.1250" stop-color="#ff5600"/><stop offset="0.1250" stop-color="#ff7200"/><stop offset="0.1500" stop-color="#ff7200"/><stop offset="0.1500" stop-color="#ff9000"/><stop offset="0.1750" stop-color="#ff9000"/><stop offset="0.1750" stop-color="#ffb000"/><stop offset="0.2000" stop-color="#ffb000"/><stop offset="0.2000" stop-color="#ffcf00"/><stop offset="0.2250" stop-color="#ffcf00"/><stop offset="0.2250" stop-color="#ffef00"/><stop offset="0.2500" stop-color="#ffef00"/><stop offset="0.2500" stop-color="#f5fe00"/><stop offset="0.2750" stop-color="#f5fe00"/><stop offset="0.2750" stop-color="#e1fd00"/><stop offset="0.3000" stop-color="#e1fd00"/><stop offset="0.3000" stop-color="#cefc00"/><stop offset="0.3250" stop-color="#cefc00"/><stop offset="0.3250" stop-color="#bafb00"/><stop offset="0.3500" stop-color="#bafb00"/><stop offset="0.3500" stop-color="#a6f900"/><stop offset="0.3750" stop-color="#a6f900"/><stop offset="0.3750" stop-color="#92f800"/><stop offset="0.4000" stop-color="#92f800"/><stop offset="0.4000" stop-color="#7ef600"/><stop offset="0.4250" stop-color="#7ef600"/><stop offset="0.4250" stop-color="#64f400"/><stop offset="0.4500" stop-color="#64f400"/><stop offset="0.4500" stop-color="#3cf300"/><stop offset="0.4750" stop-color="#3cf300"/><stop offset="0.4750" stop-color="#14f100"/><stop offset="0.5000" stop-color="#14f100"/><stop offset="0.5000" stop-color="#00f209"/><stop offset="0.5250" stop-color="#00f209"/><stop offset="0.5250" stop-color="#00f61b"/><stop offset="0.5500" stop-color="#00f61b"/><stop offset="0.5500" stop-color="#00fa2c"/><stop offset="0.5750" stop-color="#00fa2c"/><stop offset="0.5750" stop-color="#00ff3e"/><stop offset="0.6000" stop-color="#00ff3e"/><stop offset="0.6000" stop-color="#00ff5b"/><stop offset="0.6250" stop-color="#00ff5b"/><stop offset="0.6250" stop-color="#00ff79"/><stop offset="0.6500" stop-color="#00ff79"/><stop offset="0.6500" stop-color="#00ff97"/><stop offset="0.6750" stop-color="#00ff97"/><stop offset="0.6750" stop-color="#00ffb5"/><stop offset="0.7000" stop-color="#00ffb5"/><stop offset="0.7000" stop-color="#00ffd2"/><stop offset="0.7250" stop-color="#00ffd2"/><stop offset="0.7250" stop-color="#00ffef"/><stop offset="0.7500" stop-color="#00ffef"/><stop offset="0.7500" stop-color="#00f0ff"/><stop offset="0.7750" stop-color="#00f0ff"/><stop offset="0.7750" stop-color="#00ceff"/><stop offset="0.8000" stop-color="#00ceff"/><stop offset="0.8000" stop-color="#00adff"/><stop offset="0.8250" stop-color="#00adff"/><stop offset="0.8250" stop-color="#008cff"/><stop offset="0.8500" stop-color="#008cff"/><stop offset="0.8500" stop-color="#006dff"/><stop offset="0.8750" stop-color="#006dff"/><stop offset="0.8750" stop-color="#0054ff"/><stop offset="0.9000" stop-color="#0054ff"/><stop offset="0.9000" stop-color="#003aff"/><stop offset="0.9250" stop-color="#003aff"/><stop offset="0.9250" stop-color="#0022ff"/><stop offset="0.9500" stop-color="#0022ff"/><stop offset="0.9500" stop-color="#0014ff"/><stop offset="0.9750" stop-color="#0014ff"/><stop offset="0.9750" stop-color="#0007ff"/><stop offset="1.0000" stop-color="#0007ff"/></linearGradient><pattern id="hR" patternUnits="userSpaceOnUse" width="2.7" height="2.7" patternTransform="rotate(45)"><line x1="0.5" y1="0" x2="0.5" y2="2.7" stroke="#383838" stroke-width="0.75"/></pattern><pattern id="hL" patternUnits="userSpaceOnUse" width="2.7" height="2.7" patternTransform="rotate(-45)"><line x1="0.5" y1="0" x2="0.5" y2="2.7" stroke="#383838" stroke-width="0.75"/></pattern></defs><rect width="685" height="622" fill="#fff"/><text x="-1.6" y="14.2" font-size="18.5" text-anchor="start" fill="#000" stroke="#000" stroke-width="0.35">a</text>
<text x="220.3" y="14.2" font-size="18.5" text-anchor="start" fill="#000" stroke="#000" stroke-width="0.35">b</text>
<text x="-0.3" y="260.6" font-size="18.5" text-anchor="start" fill="#000" stroke="#000" stroke-width="0.35">c</text>
<text x="222.6" y="262.6" font-size="18.5" text-anchor="start" fill="#000" stroke="#000" stroke-width="0.35">d</text>
<text x="445.1" y="263" font-size="18.5" text-anchor="start" fill="#000" stroke="#000" stroke-width="0.35">e</text>
<text x="1.5" y="438.4" font-size="18.5" text-anchor="start" fill="#000" stroke="#000" stroke-width="0.35">f</text>
<text x="227.9" y="438" font-size="18.5" text-anchor="start" fill="#000" stroke="#000" stroke-width="0.35">g</text>
<text x="449.1" y="438.3" font-size="18.5" text-anchor="start" fill="#000" stroke="#000" stroke-width="0.35">h</text>
<line x1="77.4" y1="50.5" x2="77.4" y2="216" stroke="#555" stroke-width="0.6" stroke-dasharray="2.2 1.8"/>
<line x1="130.1" y1="58.5" x2="130.1" y2="216" stroke="#555" stroke-width="0.6" stroke-dasharray="2.2 1.8"/>
<line x1="150.9" y1="58.5" x2="150.9" y2="216" stroke="#555" stroke-width="0.6" stroke-dasharray="2.2 1.8"/>
<line x1="161.5" y1="33.5" x2="161.5" y2="216" stroke="#555" stroke-width="0.6" stroke-dasharray="2.2 1.8"/>
<line x1="186.3" y1="75.5" x2="186.3" y2="216" stroke="#555" stroke-width="0.6" stroke-dasharray="2.2 1.8"/>
<path d="M41 205.6 41.5 207.6 42 206.6 43 208.1 44.5 205.6 46.5 207.6 47.5 205.6 48 206.2 48.5 207.9 49 206 50 207.9 50.5 205.5 51.5 208 52 206 53 207.9 53.5 205.7 54.5 207.4 56 205.9 56.5 206.7 57 206.3 58 206.5 58.5 207.1 59 207 59.5 206.4 60 206.7 60.5 206.3 61.5 206.4 62 206.8 62.5 206.4 63.5 206.9 65 206.4 65.5 206.7 68.5 206.3 71 206.7 72 206.3 73.5 206.4 74 206.7 79 206.4 86.5 206.8 87 206.5 87.5 206.8 88 206.6 89 206.8 91 206.5 92 206.9 94 206.9 95 206.5 96.5 206.6 98.5 207 99 206.6 100 206.8 102 206.6 103 206.9 103.5 206.6 105 207 106 206.7 107 207 107.5 206.7 109 206.9 109.5 206.7 110.5 206.9 112 206.6 113 206.9 114 206.6 117 206.9 118.5 206.7" stroke="#6e6e6e" stroke-width="1.3" fill="none"/>
<path d="M122.4 206.9 123.4 207.2 124.4 206.5 124.9 207 125.9 206.7 126.9 207 127.9 206.8 128.4 206.1 129.9 206 130.4 206.6 130.9 206 131.4 206.5 131.9 206.2 135.4 206.9 135.9 206.5 137.9 206.6 138.4 207.1 139.4 206.5 141.4 206.6 142.4 207.1 142.9 206.7 144.4 207 144.9 206.5 145.9 207.1 146.9 206.6 148.4 206.8 148.9 206.4 149.4 206.9 151.4 206.1 151.9 206.9 153.4 206.9 153.9 206.5 155.4 206.8 155.9 206.4 156.4 207 157.9 206.3 158.4 206.5 158.9 206.4 160.9 204.6 161.4 205 162.4 205.1 164.4 206.8 164.9 206.6 165.4 207 165.9 207 166.4 206.5 166.9 206.9 168.9 206.7 169.4 207 169.9 206.4 170.4 206.8 171.4 206.5 171.9 207 172.9 207.1 173.9 206.7 174.4 207.2 174.9 206.5 175.4 206.4 175.9 206.7 176.9 206.3 177.4 206.6 177.9 206.2 178.4 206.7 179.9 206.3 180.9 207.1 181.9 206.5 182.9 207.1 183.4 206.6 183.9 207 184.4 206.6 184.9 207.2 185.9 206.7 186.4 207.3 186.9 206.8 187.4 207.1 188.4 206.5 190.9 206.4 191.4 207.1 191.9 206.5 192.4 206.8 193.4 206.6 194.4 207.1 195.4 206.4 195.9 207.1 196.4 206.5 197.9 207.1 199.4 206.7 200.4 207.1" stroke="#6e6e6e" stroke-width="1.3" fill="none"/>
<path d="M41 198.5 41.5 198 42 196.2 43 197.3 43.5 197.4 44 198.3 44.5 196.5 45 197.8 45.5 196.9 46 198.1 46.5 196.4 47 197.2 47.5 196.1 48 196.4 48.5 198.5 49 196.7 49.5 198.4 50.5 195.8 51 198 51.5 195.8 52 198.1 52.5 195.6 53 197.6 53.5 196 54 196.5 54.5 198.3 55 196.9 56 197.6 56.5 195.7 57 197.8 57.5 198 58 196.3 58.5 196.8 59 196.4 59.5 197 60 195.9 61 196.9 61.5 196.8 62 195.9 62.5 196.9 63 196 63.5 196.8 64.5 196.1 66.5 196.3 67 196 71 195.7 73 196.1 73.5 195.7 76 196.2 76.5 195.9 77.5 196.2 78 196 78.5 196.3 81.5 196.1 82 196.5 83 196.2 84 196.6 86 196.5 86.5 196.9 87 196.5 87.5 196.9 88.5 196.7 91 197.2 91.5 196.9 93.5 197.2 94 196.9 95 197.4 97 197.4 97.5 197 98 197.4 98.5 197.2 100 197.5 101.5 197.3 102 197.5 103 197.2 105.5 197.2 106.5 197.6 107.5 197.2 109 197.5 111 197.3 111.5 197.6 114.5 197.3 115.5 197.6 118.5 197.2" stroke="#a9a9a9" stroke-width="1.3" fill="none"/>
<path d="M122.4 197.3 122.9 197.1 123.9 197.7 124.9 197.6 125.4 197.1 127.4 196.8 127.9 197.3 129.4 196.4 129.9 196.9 130.9 196.5 133.9 197.5 134.4 197 135.4 197.7 135.9 197.1 136.9 197.4 137.4 197.2 137.9 197.7 138.4 197.3 139.4 197.6 139.9 197 140.4 197.6 140.9 197.1 142.4 197.4 142.9 197.1 144.4 197.7 145.4 197.5 145.9 197.7 147.4 197.1 147.9 197.4 148.9 196.8 149.4 197.4 150.4 196.9 151.9 197.2 153.4 197 154.4 197.3 155.4 196.9 156.4 197.4 156.9 197.1 157.4 197.4 158.9 196.7 159.4 195.6 160.9 194.7 161.4 194 161.9 194.8 162.4 194.7 164.9 197.5 165.9 197.1 168.4 197.3 169.9 197 170.4 197.5 171.4 197.2 171.9 197.4 173.4 197.2 173.9 197.7 174.4 197.3 174.9 197.7 175.9 196.8 177.4 196.9 177.9 196.4 178.9 197.1 179.4 196.8 180.4 197.3 180.9 197.1 181.4 197.6 182.4 197.6 183.9 197.3 185.4 198 185.9 197.5 186.9 197.3 187.9 197.7 188.4 197.2 189.9 197.6 190.9 197 191.4 197.3 192.4 197.2 192.9 197.5 193.9 197.1 195.4 197.7 195.9 197 196.4 197.6 196.9 197.1 197.4 197.5 198.4 197.7 199.4 197.1 199.9 197.5 200.4 197.2" stroke="#a9a9a9" stroke-width="1.3" fill="none"/>
<path d="M41 188.9 41.5 186.3 42.5 188.3 43 186.6 43.5 188.2 45 188.9 46 186.5 47 187.3 47.5 186.2 48 188.3 48.5 186.2 49 186.1 49.5 188.9 50 188.5 50.5 186.7 51 186.9 51.5 188.4 52.5 186.5 53.5 188.4 54 185.6 54.5 188.7 55.5 186 56 187.9 56.5 185.5 57.5 187 58 186.3 58.5 187.3 59.5 186 60.5 185.7 61 186.4 61.5 185.8 62.5 186.6 63 186.6 63.5 185.4 64 185.8 66.5 185.8 68.5 185.3 70 185.5 71.5 185.1 72 185.4 73 185 73.5 185.3 75.5 185.5 78 185.3 78.5 185.7 79 185.4 80.5 185.9 82.5 185.8 83.5 186.2 84 186 84.5 186.5 85.5 186.3 86 186.6 86.5 186.3 87.5 186.9 88 186.6 88.5 186.9 89 186.6 90 187 92.5 187 93.5 187.6 94 187.3 94.5 187.5 95 187.3 99 187.8 99.5 187.6 100 187.8 101.5 187.6 102 187.9 103 187.5 103.5 187.8 104 187.5 105.5 187.9 106.5 187.6 107.5 188 108.5 187.8 111 188 112 187.7 113.5 188 115 187.6 118.5 187.9" stroke="#c6c6c6" stroke-width="1.3" fill="none"/>
<path d="M122.4 188 122.9 187.9 124.4 188.2 126.4 187.4 126.9 187.9 127.9 186.9 128.9 187.1 130.9 186.6 131.9 186.7 133.4 187.8 133.9 187.3 134.4 187.9 135.4 187.9 135.9 187.5 136.4 187.4 136.9 187.9 138.9 187.4 139.4 188.1 141.4 187.8 141.9 188.1 142.4 187.6 142.9 188 143.4 187.7 144.4 188.1 144.9 187.8 145.4 188.1 147.4 187.4 148.4 187.8 148.9 187.2 149.9 187.4 150.4 186.9 150.9 187.2 151.9 187.1 152.4 187.3 152.9 187.1 153.9 187.8 155.4 187.3 156.9 187.8 157.9 187.3 158.9 186.3 160.9 183.3 161.4 183.4 162.4 184.2 163.4 186.2 164.9 187.9 165.4 187.6 165.9 187.8 166.4 187.6 167.4 188.1 168.4 187.5 171.4 188.1 171.9 187.6 172.4 188.2 173.4 187.9 173.9 188.2 174.9 187.5 175.9 187.4 176.4 186.7 177.4 186.5 178.4 186.5 179.4 187.5 179.9 187.3 181.4 187.9 181.9 187.5 182.4 188 183.9 187.9 184.4 188.3 185.4 188 187.4 188.3 188.4 187.7 189.4 188 190.4 187.5 190.9 188 191.9 187.6 193.4 187.6 194.4 188 195.4 187.6 195.9 187.8 197.4 187.7 197.9 188 198.9 187.5 199.4 188 200.4 187.7" stroke="#c6c6c6" stroke-width="1.3" fill="none"/>
<path d="M41 177 42 179.6 42.5 177.3 43 178.2 43.5 177.2 44 178.9 45 177.6 45.5 178.5 46.5 176.8 47 177.5 47.5 179.4 48.5 177.7 49 178.2 49.5 176.3 50.5 178.8 51 176.2 51.5 178.9 52.5 177.7 53.5 175.4 54.5 177.5 55 176.2 55.5 177.4 56 175.3 56.5 177.3 57 177.2 58 175.2 59.5 174.5 60 175.5 60.5 174.9 61 175.2 61.5 174.3 62 174.2 62.5 175 63 175 63.5 173.3 64 174 65 173.3 65.5 173.5 66.5 173.1 67 173.3 68 172.6 68.5 172.8 69 172.4 69.5 172.8 71 172.1 73 172.5 74.5 172.1 75.5 172.7 76 172.4 76.5 172.7 77 172.5 77.5 172.9 78.5 172.7 79.5 173.4 80.5 173.2 82 174.1 83.5 174.1 84 174.5 85 174.6 86 175.4 86.5 175.1 87.5 175.7 88 175.5 89.5 176.3 90.5 176.2 93 177.2 93.5 176.8 95 177.3 96 177.3 96.5 177.8 97 177.5 98 177.9 98.5 177.7 99.5 177.9 100.5 177.7 101 178 102 177.8 103.5 178.3 104.5 178 105 178.4 105.5 178 106 178.3 106.5 178 107 178.5 108.5 178.2 110.5 178.4 111 178 113 178.5 114 178.1 114.5 178.4 115 178.2 116.5 178.5 117 178.1 117.5 178.5 118.5 178.2" stroke="#cde2f4" stroke-width="1.3" fill="none"/>
<path d="M122.4 178.2 122.9 178.7 124.4 178.3 124.9 178.7 125.4 177.9 126.9 177.9 127.4 177.2 129.9 175.8 131.4 176.3 131.9 177.1 132.9 177.3 133.9 178.2 134.9 177.8 135.4 178.2 136.4 178.4 138.9 177.9 139.4 178.4 140.9 178 141.9 178.4 142.9 178 144.4 178.4 145.4 178.3 145.9 178.6 146.9 178 147.9 178 148.4 177.6 148.9 177.8 149.9 176.9 150.4 177.1 151.4 176.7 153.4 178.1 155.4 177.6 155.9 177.9 156.9 177.6 157.4 177.9 158.9 176.3 160.9 171.6 161.4 171.4 162.4 172.9 163.9 177 164.4 177.8 164.9 177.6 165.9 178.5 167.4 178.4 168.9 177.7 169.4 178.3 169.9 177.9 170.4 178.5 170.9 177.9 171.4 178.5 172.4 178 172.9 178.5 174.4 178.6 177.4 176.2 177.9 176.7 178.4 176.4 179.9 177.8 180.9 177.7 181.4 178.2 182.4 178.4 182.9 178.2 183.4 178.6 186.4 179.3 186.9 178.7 188.4 178.6 188.9 178 189.9 178.4 190.9 177.9 192.4 178.4 193.4 177.9 195.4 178 195.9 178.4 196.9 178.3 197.4 178.6 197.9 178.1 198.9 178.4 199.9 178 200.4 178.6" stroke="#cde2f4" stroke-width="1.3" fill="none"/>
<path d="M41 169 41.5 168.9 42 168 42.5 168.9 43 166.8 44 168.9 44.5 168.7 45 168.4 45.5 166.5 46 167.5 46.5 169.9 47.5 169.1 48 166.2 48.5 166.2 49 166.6 49.5 168.8 50 166.4 51 166.3 51.5 168 52 167.1 52.5 168.2 53 165.1 53.5 164.8 54 167.6 54.5 164.7 55 166.8 55.5 166.1 56 164.4 56.5 164.4 57 166 57.5 163.1 58 165.5 58.5 163.6 59 163.6 59.5 164.2 60 163 60.5 164.3 61.5 162.1 62 162 63 162.8 63.5 161.4 64.5 161.4 66.5 160.3 67.5 160.2 68 159.8 68.5 159.9 69 159.3 69.5 159.5 71 159.1 71.5 158.6 72 159 74 158.6 74.5 159 76 158.8 76.5 159.2 77 159 77.5 159.5 78 159.2 80 160.4 80.5 160.1 81 160.7 81.5 160.6 85.5 162.7 86 163.4 86.5 163.3 87 164 87.5 163.7 88 164.4 88.5 164.2 90 165.2 90.5 165.2 91.5 165.9 92 165.7 92.5 166.2 93.5 166.3 94 166.9 95 166.8 96 167.4 97 167.2 97.5 167.8 98 167.6 100.5 168.2 101.5 168 102.5 168.5 104 168.2 104.5 168.6 108 168.6 108.5 168.4 110 168.9 110.5 168.6 111.5 168.9 114.5 168.4 116.5 168.8 117 168.5 117.5 168.9 118.5 168.8" stroke="#b6d4ee" stroke-width="1.3" fill="none"/>
<path d="M122.4 168.5 122.9 169.1 123.4 168.6 125.9 168.8 126.4 168 126.9 168.1 130.4 164.8 132.4 167.3 133.4 167.6 133.9 168.4 134.4 168.2 134.9 168.5 135.4 168.2 136.4 168.6 136.9 168.2 137.9 168.2 138.4 168.8 139.9 168.6 140.4 168.9 140.9 168.5 141.4 168.8 141.9 168.4 142.4 168.8 143.4 168.4 143.9 169 144.4 168.6 144.9 169.1 146.9 169 147.4 168.4 147.9 168.7 148.9 167.3 149.4 167.4 149.9 166.4 151.4 166.2 152.9 167.6 153.4 167.6 154.4 168.4 154.9 167.9 155.4 168.5 155.9 168.4 156.4 167.9 156.9 168.3 157.4 168 158.9 165.4 160.4 159.1 160.9 157.8 161.4 157.4 162.4 159.9 164.4 167.4 164.9 168.4 165.4 168.2 166.4 168.9 166.9 168.9 167.4 168.4 167.9 168.7 168.4 168.1 168.9 168.6 169.4 168.1 169.9 168.5 172.4 168.7 173.9 169.2 175.4 168.3 176.4 166.5 177.9 165.4 178.4 165.6 179.4 166.7 180.4 168.2 181.4 168.7 182.4 168.4 183.4 168.9 183.9 168.8 184.4 169 184.9 170 185.9 169.7 186.9 169.9 187.9 168.9 188.4 168.9 188.9 168.4 189.9 168.8 190.4 168.1 191.4 168.7 192.4 168.2 193.4 168.6 193.9 168.3 194.4 168.9 195.4 168.6 195.9 168.9 196.4 168.5 197.4 168.8 197.9 168.5 198.4 169 199.4 168.5 200.4 168.6" stroke="#b6d4ee" stroke-width="1.3" fill="none"/>
<path d="M41 160.6 41.5 159.6 42 160.6 42.5 159.9 43 159.9 43.5 158 44 160 44.5 158 45 159.8 46 158.5 46.5 157.1 47 158.7 48 158.8 48.5 156.3 50 158.9 50.5 156.4 51 158.7 51.5 158.9 52 155.3 52.5 157.5 53.5 154.9 54.5 155.3 55 153.7 55.5 156 56.5 154.1 57 155.8 57.5 155.9 58 153.7 58.5 153.1 59 153.3 59.5 152.6 60 153.1 60.5 151.7 61.5 150.5 62.5 149.9 63 151 64 149.6 64.5 149.5 66 148 67.5 147.4 68 146.8 69.5 146.1 71 145.9 72 145.1 73.5 145.5 74 145 75 145.5 75.5 145.1 76 145.6 76.5 145.6 79.5 146.6 80.5 147.5 81 147.4 87 151.9 88.5 152.6 89 153.4 89.5 153.3 91 154.7 92 154.8 93 155.8 93.5 155.8 94 156.3 94.5 156.2 95 156.7 95.5 156.4 96.5 157.3 97 157.1 97.5 157.6 99 157.6 99.5 158 101.5 158.1 102.5 158.6 103 158.4 106 159.1 107 158.8 107.5 159.3 108 158.8 108.5 159.1 109.5 159 110.5 159.2 112 158.8 113 159.3 113.5 158.8 115.5 159.3 117 159.2 117.5 158.9 118.5 159.3" stroke="#a0c6e8" stroke-width="1.3" fill="none"/>
<path d="M122.4 159.2 123.9 159.5 124.4 159.1 124.9 159.5 125.4 159.3 127.9 156.9 129.4 153.8 129.9 153.4 130.9 153.8 132.9 157.5 134.4 158.9 135.4 158.5 135.9 158.7 136.9 158.5 137.4 158.9 137.9 158.5 138.9 158.6 139.9 158.9 142.9 158.9 143.4 159.5 143.9 159.1 146.4 159.4 147.4 158.7 147.9 158.7 148.9 157.7 150.4 155.2 151.9 155.8 152.9 157.6 153.4 157.6 154.4 158.5 156.9 158 157.4 157.8 158.4 155.9 160.9 143 161.4 142.8 162.4 146.3 163.4 153 164.4 157.4 165.4 159.1 166.9 159.3 168.9 158.4 169.4 158.9 169.9 158.7 171.9 159 172.4 159.7 174.4 159.8 176.4 155.7 177.4 154.6 177.9 154.5 179.4 156.2 180.4 158.3 181.9 159.3 182.4 159 183.4 159.7 183.9 159.5 185.4 161.2 185.9 160.8 186.4 161.1 186.9 160.9 189.9 158.5 190.9 158.6 191.4 159 191.9 158.7 192.9 159.2 193.4 158.7 194.4 158.9 194.9 159.4 195.9 158.9 196.9 159 197.4 159.5 197.9 159.1 199.4 159.5 200.4 159" stroke="#a0c6e8" stroke-width="1.3" fill="none"/>
<path d="M41 149.4 41.5 150.8 42 151 42.5 148.9 43 149.2 43.5 150.3 44.5 148.1 45 148.1 45.5 148.8 46 147.8 46.5 149.7 47 149.3 47.5 150.2 49 146.9 49.5 147 50 149.3 51 146 52 148.1 53.5 147.9 54 146 54.5 146.4 55 143.9 55.5 145.8 56.5 143.5 57 143.3 57.5 144.6 58 143 59 142.5 59.5 142.8 60.5 140.7 61 140.4 61.5 141 62 139.3 62.5 139.8 65 137.2 68 134.9 70 134.1 71 133.1 72 133.3 72.5 132.6 73.5 132.4 74 132.7 74.5 132.4 75 132.9 75.5 132.7 77.5 132.9 78 133.6 78.5 133.5 80 134.3 81.5 135.8 82.5 136.1 83 136.9 83.5 136.8 84.5 138.1 85.5 138.6 87 140.4 87.5 140.4 90 142.8 92 144 93 145.2 93.5 145.1 96 146.9 98 147.2 98.5 147.9 100 147.9 100.5 148.5 101 148.1 101.5 148.6 105 149.3 105.5 149 107 149.5 108 149.1 109 149.7 112 149.3 112.5 149.7 114.5 149 117.5 149.9 118.5 149.3" stroke="#89b8e1" stroke-width="1.3" fill="none"/>
<path d="M122.4 149.9 122.9 149.7 123.4 150.3 125.9 149.3 126.4 148.6 126.9 148.5 128.9 143.9 129.9 142.5 130.4 142.4 130.9 142.6 132.9 147.5 134.9 149.3 135.4 149.4 136.4 148.8 137.4 148.9 137.9 149.4 138.4 149.1 139.4 149.5 139.9 149.1 140.9 149.5 141.9 149.2 142.4 149.5 144.4 149.4 144.9 150 146.4 149.9 147.4 149 147.9 149.2 149.9 145.4 150.9 144.5 151.9 145.3 153.4 148 154.4 148.6 155.4 148.2 156.9 148.3 158.4 145.4 160.4 131 160.9 128.8 161.4 128.2 161.9 129.5 163.4 141.7 164.4 147.1 164.9 148.7 165.4 148.7 165.9 149.6 169.4 149.1 170.4 149.6 170.9 149.4 171.9 150 172.4 149.6 173.4 150.4 174.4 150.3 176.9 143.9 177.9 143 178.9 144.5 179.9 147.2 180.9 148.9 182.9 149.4 185.9 152.3 187.4 151.3 188.9 149.2 189.9 148.9 190.4 149.2 190.9 148.7 192.9 149.1 193.4 149.6 194.4 149.3 194.9 149.6 195.4 149.3 195.9 149.7 196.4 149.4 196.9 149.9 197.4 149.4 198.9 149.7 200.4 149.6" stroke="#89b8e1" stroke-width="1.3" fill="none"/>
<path d="M41 140.3 41.5 138.9 42 139.1 43 138.3 44 141.2 45 141.2 45.5 137.9 46 140.1 46.5 137.6 47 140.3 47.5 140.3 48 138.8 48.5 140.6 49 138.4 49.5 138.6 50 137.6 50.5 139.3 51 138.1 52 137.2 52.5 138.2 53 135.3 53.5 137.2 54 134.8 54.5 135 55 134 56 136.8 56.5 133.7 57 132.9 57.5 134.1 58 132.7 58.5 132.9 59 132.7 59.5 131.6 60 132.6 60.5 131.2 61 131.1 61.5 129.8 62 130.8 62.5 128.9 63 128.9 63.5 127.7 64 127.8 67 124.9 67.5 124.8 68 124 69 123.7 70 122.5 71.5 121.7 72.5 121.8 73 121.3 73.5 121.4 74 121 74.5 121.4 75.5 120.9 77 121.1 77.5 121.8 78.5 121.7 79 122.3 80 122.5 80.5 123.4 81 123.3 83 125.4 84 125.9 91 133 91.5 133.1 92.5 134.1 93 134.2 93.5 135.1 97.5 136.9 98 137.5 98.5 137.5 99 138.1 99.5 137.8 100.5 138.6 102 139 103 138.9 103.5 139.5 106.5 139.3 107 139.9 108 139.6 108.5 140 112 139.7 112.5 140 114 139.5 114.5 139.7 115.5 139.6 117 140.3 118 139.8 118.5 140" stroke="#72a9d9" stroke-width="1.3" fill="none"/>
<path d="M122.4 139.9 123.4 140.5 125.4 140.3 125.9 139.8 128.4 134.6 128.9 132.7 129.9 131.1 130.4 131.2 131.4 132.9 132.4 136.1 133.9 138.7 135.9 139.7 136.9 139.3 138.9 139.9 139.4 139.4 140.9 140.2 141.4 139.7 141.9 140.1 142.4 139.8 143.9 140.2 144.4 139.8 145.4 140.4 146.4 140.1 147.9 139 149.9 135 150.9 133.8 151.4 134.2 152.9 137.4 153.9 138.4 154.4 138.8 154.9 138.5 155.9 138.8 156.9 138.3 158.4 134.8 160.4 117.2 160.9 114.2 161.4 113.3 162.4 119.5 163.9 134.4 165.4 139.6 166.4 139.9 169.4 138.9 170.4 139.3 171.9 140.4 172.9 140.3 173.9 141.3 174.4 140.9 176.9 132.9 177.4 132.1 177.9 132.1 178.9 133.9 179.9 137.2 180.9 139.3 183.4 140.3 185.9 143.5 186.9 142.6 188.4 140.2 189.4 139.4 190.9 139.5 191.9 139 192.4 139.8 192.9 139.3 193.9 139.5 195.4 140.3 196.4 139.8 196.9 140.4 197.4 139.8 198.4 139.9 198.9 140.4 199.4 140 199.9 140.3 200.4 140.1" stroke="#72a9d9" stroke-width="1.3" fill="none"/>
<path d="M41 130.2 41.5 131.4 42 129.1 42.5 129.3 43 131.7 44 129.6 45 130.9 45.5 130.6 46 129.8 46.5 130.1 47 128.6 48 130.8 48.5 130.8 49 127.2 49.5 128 50.5 127.9 51.5 127.3 52 127.8 52.5 126.7 53 128.3 53.5 125.4 54 128.7 54.5 125.4 55 127.8 55.5 126.6 56 127.1 56.5 125 57 124.2 57.5 124.9 58 123.5 59 123.2 59.5 122 60 122.8 60.5 121.7 62 121 62.5 119.1 63.5 118 64 118.4 67.5 114.3 68 114.3 71 111.4 71.5 111.6 72.5 110.8 74 110.2 77 110.6 77.5 110.3 81 112.3 87.5 118.4 89.5 120.9 91.5 122.5 92 123.3 94 124.9 95 125.3 95.5 126 96.5 126.7 97 126.7 97.5 127.4 98 127.2 98.5 128 100 128.3 101 129 102.5 128.9 103.5 129.5 105 129.6 106 130.1 106.5 129.9 107 130.3 107.5 129.9 110.5 130.5 111 130.1 112.5 130 115.5 130.1 116 130.6 117.5 130.8 118.5 130.5" stroke="#5c9ad0" stroke-width="1.3" fill="none"/>
<path d="M122.4 130.7 123.9 131.2 124.9 130.6 125.4 130.6 127.4 127.4 128.9 122.1 129.9 119.9 131.4 122 132.9 127.3 133.9 129.3 134.4 129.7 135.4 130 135.9 129.5 136.4 130 139.9 130.1 140.4 130.5 141.4 130 143.4 130.5 143.9 130.2 144.9 130.8 146.9 130.6 148.4 128.7 149.9 124.4 150.4 123.3 150.9 123.2 151.4 123.6 152.9 127.3 153.9 128.7 154.9 128.6 155.4 129.1 156.4 128.3 156.9 128.5 157.9 126.4 158.4 124.2 160.9 99.4 161.4 98.8 162.4 106 163.9 123.3 164.9 128.6 165.9 130.4 166.4 130.6 169.4 129.2 170.9 130.6 172.9 131 173.4 131.8 174.4 131.5 177.4 121.1 178.4 121.8 180.4 128.6 181.9 130.6 182.4 130.5 183.9 131.3 184.4 132.4 185.9 134.1 186.4 134 187.9 131.5 189.9 129.5 190.9 129.8 191.4 129.4 192.4 130.2 194.9 130.1 195.9 130.5 196.9 130.3 198.9 130.8 199.9 130.5 200.4 130.8" stroke="#5c9ad0" stroke-width="1.3" fill="none"/>
<path d="M41 121.2 41.5 119.2 42 119.1 42.5 121.1 43 121.3 43.5 121.1 44 120.5 45.5 121.1 46 118.9 46.5 120.1 47 119.4 47.5 119.9 48 119.4 48.5 118.1 49 120.7 49.5 119.5 50 120.7 50.5 117.3 51.5 117.3 52 119.9 52.5 118.3 53 118.9 53.5 116.1 54 118.4 54.5 115.5 55 118.4 55.5 116.5 56 117.9 56.5 116.3 57 115.7 57.5 113.7 58 114.8 60 113.3 62 110.5 63 110.1 64 108.1 66.5 105.8 70 101.8 71 101.6 71.5 100.7 72.5 100.2 73 100.3 74 99.5 75.5 99.3 77.5 99.6 78 99.4 78.5 100.2 79 99.9 80 100.9 80.5 100.9 82.5 102.4 83.5 103.7 84.5 104.3 85.5 105.8 86 105.9 91 111.8 91.5 111.9 94 114.6 95 115.1 95.5 115.9 97 116.6 98 117.6 98.5 117.5 99 118.3 99.5 117.9 100.5 118.8 101.5 118.9 103 119.8 104 119.7 105 120.4 106 120 106.5 120.6 107 120.2 107.5 120.7 108.5 120.8 109 120.5 109.5 120.9 110 120.5 110.5 120.9 111 120.6 112 120.9 113.5 120.2 114 120.5 115 120.4 116 121 116.5 120.6 117.5 121.1 118.5 120.9" stroke="#4a8ac4" stroke-width="1.3" fill="none"/>
<path d="M122.4 121 123.9 121.8 124.4 121.4 124.9 121.6 126.4 119.8 127.4 117.4 129.4 109.9 130.4 108.9 133.4 118.6 134.9 120.3 136.9 120.4 137.4 120.1 138.4 120 139.9 120.8 140.4 120.4 140.9 120.8 141.9 120.9 143.4 120.7 143.9 120.9 144.4 120.6 144.9 121.2 145.4 120.8 145.9 121 147.4 120.7 148.4 118.9 150.4 112.9 150.9 113 151.4 113.5 153.9 118.9 154.4 118.7 154.9 119.1 156.4 119 157.4 117.8 158.4 113.8 160.4 90.1 160.9 85.3 161.4 84.9 162.4 93.1 163.9 112.9 164.9 119 165.9 120.7 168.4 120.2 168.9 119.4 169.4 119.9 169.9 119.6 171.4 121.2 171.9 121.4 172.4 121 173.4 122.1 174.4 122.2 176.9 112.1 177.9 110.5 180.9 119.5 183.4 121.5 185.9 125.1 186.4 125.1 186.9 124.5 187.9 122.1 189.4 120.1 189.9 120.4 190.4 119.8 190.9 120.2 191.4 119.9 192.9 120.5 193.4 120.2 193.9 120.9 194.4 120.5 195.4 121.2 196.4 121 196.9 121.3 197.9 120.8 198.4 121.3 200.4 120.8" stroke="#4a8ac4" stroke-width="1.3" fill="none"/>
<path d="M41 111.5 41.5 111.5 42 109.9 42.5 110.8 43 110.2 43.5 112.6 44 109.8 44.5 111.4 45 111.4 45.5 111.2 47 108.7 47.5 109.3 48 111.5 48.5 109.4 49 110.2 50 108.1 51 111.3 51.5 108.9 52 108.4 52.5 109.1 53.5 107.3 54 107.6 54.5 109.2 55 106 55.5 105.7 56 107.7 56.5 105.2 57 104.5 57.5 104.6 58 105.8 59 105 59.5 103.4 60 104 60.5 101.9 61 102.2 62 101 62.5 101.4 63.5 99.3 65 97.4 66.5 96.1 67.5 94.6 68 94.5 68.5 93.4 70.5 91.9 71.5 90.6 72.5 90.3 73 89.7 73.5 89.8 76 88.7 76.5 89 77.5 89.1 78 88.8 80.5 90.3 81 90.2 81.5 90.6 82.5 92 83 92 86 95.4 86.5 95.6 87 96.7 92.5 103 96.5 106.6 98 107.7 99 107.7 99.5 108.4 101 109.3 103 110.1 104 109.9 105.5 110.7 107.5 110.5 109 111.3 111 110.9 113 111.1 113.5 110.7 115 111.1 115.5 110.9 116 111.5 117.5 111.2 118 111.7 118.5 111.5" stroke="#3b79b3" stroke-width="1.3" fill="none"/>
<path d="M122.4 111.4 122.9 111.9 123.9 111.9 124.4 112.2 124.9 111.9 126.4 109.8 129.4 99.1 130.4 98 133.4 108.8 133.9 109.6 134.4 109.8 134.9 110.4 135.4 110.2 136.4 110.7 136.9 110.3 137.4 110.6 138.4 110.3 138.9 111 140.4 110.7 141.9 111.5 142.9 111 144.4 111.6 144.9 111.2 145.4 111.5 145.9 111.1 146.9 111.2 147.4 110.9 148.4 108.7 149.9 103.9 150.9 102.1 151.4 102.7 152.9 107.2 153.9 108.9 155.4 109.5 155.9 108.9 156.9 108.7 157.4 108.1 158.4 103.3 160.9 71.4 161.4 70.8 161.9 73.6 164.4 106.6 164.9 109.3 166.4 111.5 167.9 110.9 168.4 110.1 169.4 109.8 170.4 110.4 171.4 111.5 172.4 111.7 172.9 112.5 173.4 112.5 173.9 113.1 174.4 112.6 175.4 108.8 176.9 101.2 177.4 100 177.9 99.8 178.4 100.5 180.9 110.2 182.4 111.4 182.9 111.4 184.4 113.2 185.4 115.5 186.4 116.1 188.9 111.1 189.9 110.5 191.4 110.4 191.9 110 192.4 110.6 192.9 110.4 193.4 110.7 193.9 111.3 194.4 111 194.9 111.4 195.4 111.2 195.9 111.7 196.4 111.8 196.9 111.3 197.4 111.7 197.9 111.7 198.4 111.2 200.4 111.5" stroke="#3b79b3" stroke-width="1.3" fill="none"/>
<path d="M41 101.7 41.5 101.5 42 100.5 43 103.3 43.5 101 44 102.2 44.5 100.4 45 102.3 45.5 101.6 46 102.8 46.5 99.6 47 101.7 47.5 100.7 48.5 100.1 49 102.1 49.5 99.5 50 100.8 50.5 98.4 51 101.7 53 98.6 53.5 98.6 54 99.2 54.5 98.3 55 99.5 55.5 97 56 98.7 56.5 96.2 57 95.2 57.5 94.7 58.5 96 60.5 92.8 61.5 92.5 62 91.1 62.5 91.1 63 90.3 63.5 90.4 64.5 88.5 66 87.1 69 83 70 82.4 71 81 71.5 80.9 74 78.8 74.5 79 75 78.5 75.5 78.7 76.5 78.1 77 78.4 77.5 78.1 78 78.5 78.5 78.2 81 79.8 81.5 79.7 82.5 81.1 83 81.2 84.5 82.9 85 83 87.5 86.4 88.5 87.3 89 88.3 90 89.1 90.5 90.1 93 92.6 93.5 93.5 94.5 94.2 95 95.1 95.5 95 96.5 96.3 98 97 99.5 98.4 100 98.3 101 99.4 102.5 99.6 103 100.3 103.5 99.9 106 101.1 107.5 101.1 108.5 101.6 111.5 101.7 112.5 101.5 113.5 100.8 114.5 101.4 116 101.5 116.5 102 117 101.7 118 102 118.5 101.8" stroke="#2f679d" stroke-width="1.3" fill="none"/>
<path d="M122.4 102.5 122.9 102.3 123.4 102.8 124.9 102.4 126.4 100.5 129.4 88.1 130.4 87.2 131.4 90.1 133.4 98.9 133.9 99.9 135.4 101 135.9 101.1 136.9 100.6 137.4 101.1 138.9 100.8 139.9 101.6 140.4 101.1 140.9 101.6 141.4 101.4 142.9 101.8 143.4 101.5 144.4 102.2 145.4 101.8 145.9 102 146.9 101.2 147.4 101.3 148.4 99.2 150.4 92.1 150.9 92 151.9 93.6 153.4 98.5 154.4 99.4 155.4 99.7 155.9 99.1 156.4 99.2 156.9 98.8 157.4 98.1 157.9 96.3 158.4 92.7 160.4 63.4 160.9 57.8 161.4 56.9 161.9 60.3 163.9 91.8 164.4 96.1 165.4 100.9 166.4 101.8 167.9 101.2 168.4 100.7 169.9 100.5 170.9 101.6 172.4 102 173.4 103.5 173.9 103.7 174.9 101.6 176.9 90.6 177.9 88.8 178.9 91.9 180.4 98.9 181.4 101.4 182.4 101.6 183.9 102.9 185.9 107.2 186.4 107 188.4 102.3 189.4 101.2 190.4 100.7 190.9 100.9 191.9 100.4 192.4 101.2 192.9 100.8 194.9 101.8 195.4 101.6 195.9 102.1 196.4 101.6 196.9 102.2 197.9 101.7 198.9 101.6 199.4 102 199.9 101.7 200.4 102.2" stroke="#2f679d" stroke-width="1.3" fill="none"/>
<path d="M41 90.7 41.5 93.3 42.5 90.2 43 93 44 90.9 44.5 91.4 45 90.5 45.5 90.4 46 92 46.5 91.8 47 90.4 47.5 90.7 48 93.3 48.5 90.7 49 91.1 50 89.1 50.5 91.1 51 89.6 51.5 91.3 52 89.1 53 90.3 53.5 90.2 54 88.6 54.5 89.8 55 88.8 55.5 89.5 56.5 88.8 57.5 85.2 58.5 85.6 59 85.3 60 83.9 60.5 83.8 61.5 82 62 82.9 63 80.5 64 79.9 66 77.1 67 76.3 68.5 73.9 69 73.8 70.5 71.7 72.5 70.2 73.5 68.9 74.5 68.9 76 67.8 77 67.8 77.5 67.5 78 68 78.5 67.8 80 68.2 80.5 68.8 81 68.7 85 72.1 89 77.6 95 84.6 96 85.2 97 86.4 99 87.7 99.5 88.5 100 88.5 101.5 89.7 102 89.5 103.5 90.5 105.5 90.8 106 91.4 107.5 91.8 108.5 91.4 110 92.1 110.5 91.6 111 92.1 111.5 91.7 113.5 91.7 114.5 91.4 115 92 115.5 91.6 117.5 92.5 118 92 118.5 92.5" stroke="#255586" stroke-width="1.3" fill="none"/>
<path d="M122.4 92.5 122.9 93.1 123.4 92.8 123.9 93.5 124.4 93.3 125.4 92.4 126.4 90.7 127.4 87.5 128.9 79.6 129.9 76.2 130.9 77.7 133.4 88.8 134.4 90.8 134.9 90.8 135.4 91.3 135.9 91.1 138.4 91.1 139.4 91.7 139.9 91.4 140.4 91.8 140.9 91.6 141.4 92.1 144.4 92.2 144.9 92.5 145.4 92.2 145.9 92.4 146.4 91.9 146.9 92.2 147.4 91.8 148.4 89.3 150.4 82.1 150.9 81.3 153.9 89.5 155.4 90 156.9 88.6 157.9 86.2 158.4 82.6 160.4 51.1 160.9 45.6 161.4 44.4 161.9 47.9 163.9 81.1 164.4 86.7 165.4 91.4 166.4 92.3 166.9 92.3 168.4 91.3 168.9 90.4 169.9 90.8 170.9 92.2 172.4 93 172.9 93 173.9 94 174.4 93.6 177.4 78.4 177.9 78.5 178.4 79.9 180.4 88.7 181.4 91.6 182.4 92.5 182.9 92.3 183.9 93.5 185.4 97.5 185.9 97.9 186.9 97.1 188.4 92.6 189.9 91.1 191.4 91.3 191.9 90.8 192.4 91.6 193.4 91.5 195.9 92.5 196.9 92.1 197.4 92.6 198.4 92 198.9 92.4 200.4 92.2" stroke="#255586" stroke-width="1.3" fill="none"/>
<path d="M41 81.4 41.5 81 42 82.6 42.5 80.9 43 82.4 44 82.8 44.5 83.7 45 80.5 45.5 81.1 46 82.9 47 80.9 48 80.7 48.5 83.4 49 81.2 49.5 81.8 50 81.7 50.5 82.2 51.5 80.5 52 81.5 53 78.7 53.5 81.9 54 81.4 54.5 79.3 55 80 55.5 80 56.5 76.9 57 76.5 57.5 78.8 58.5 76.4 59 76.9 59.5 75.5 60.5 74.1 61 74 61.5 73.1 62 73.4 62.5 73 63.5 70.8 64.5 69.9 66 67.3 66.5 67.2 68 64.7 68.5 64.5 72 59.8 74 58.1 74.5 57.8 75 57.9 76 57 77 57.1 77.5 56.7 78.5 56.7 79 57.2 80 57.1 80.5 57.5 81 57.5 82 58.6 83.5 59.3 84 60.3 86 62 88 65.1 88.5 65.4 93 71.7 94 72.5 94.5 73.5 95 73.7 97.5 76.8 98 76.8 99.5 78.4 100.5 78.6 101 79.3 103 80.5 103.5 80.4 107.5 82 109.5 81.9 110.5 82.5 111.5 82.5 112 82 113 82.3 113.5 81.5 117 83 117.5 82.6 118 82.8 118.5 82.5" stroke="#1c436c" stroke-width="1.3" fill="none"/>
<path d="M122.4 83.1 122.9 83.6 124.4 83.7 126.4 81.1 127.4 77.4 128.9 69 129.9 65.7 130.9 66.9 133.4 79 133.9 80.3 134.9 81.4 135.9 81.7 136.4 81.4 136.9 81.7 137.4 81.3 137.9 81.9 138.4 81.7 138.9 81.9 139.4 81.7 139.9 82.4 141.9 82.7 142.4 82.2 142.9 82.6 143.9 82.4 144.9 83.1 146.9 82.4 147.9 81.2 148.4 79.9 149.9 73 150.9 71 151.4 71.8 152.9 77.4 154.4 80.2 155.4 80.2 157.4 78.4 157.9 76.3 158.9 66.4 160.4 39.2 160.9 32.9 161.4 31.2 161.9 35.3 163.9 71.6 164.9 79.9 165.9 82.3 167.4 82.6 168.9 80.8 169.4 80.8 170.9 82.5 172.4 83.1 173.9 85 174.4 83.9 175.4 79.3 176.9 69.7 177.4 68.2 177.9 67.7 178.4 68.8 179.9 77.3 180.9 80.6 181.9 82.6 182.9 82.7 183.9 84 185.9 89 186.4 88.6 188.4 83.3 188.9 82.6 190.9 81 192.4 81.4 194.4 82.8 195.4 82.6 195.9 83 196.9 83.1 197.9 82.5 199.4 82.9 200.4 82.5" stroke="#1c436c" stroke-width="1.3" fill="none"/>
<line x1="40.6" y1="22.4" x2="40.6" y2="216" stroke="#444" stroke-width="0.8"/>
<line x1="200.7" y1="22.4" x2="200.7" y2="216" stroke="#444" stroke-width="0.8"/>
<line x1="40.6" y1="22.4" x2="118.9" y2="22.4" stroke="#444" stroke-width="0.8"/>
<line x1="122.6" y1="22.4" x2="200.7" y2="22.4" stroke="#444" stroke-width="0.8"/>
<line x1="40.6" y1="216" x2="118.9" y2="216" stroke="#444" stroke-width="0.8"/>
<line x1="122.6" y1="216" x2="200.7" y2="216" stroke="#444" stroke-width="0.8"/>
<line x1="117.8" y1="25.2" x2="119.9" y2="19.6" stroke="#2a2a2a" stroke-width="0.85"/>
<line x1="121.2" y1="25.2" x2="123.5" y2="19.6" stroke="#2a2a2a" stroke-width="0.85"/>
<line x1="117.8" y1="218.8" x2="119.9" y2="213.2" stroke="#2a2a2a" stroke-width="0.85"/>
<line x1="121.2" y1="218.8" x2="123.5" y2="213.2" stroke="#2a2a2a" stroke-width="0.85"/>
<line x1="45.8" y1="216" x2="45.8" y2="217.8" stroke="#444" stroke-width="0.7"/>
<line x1="67.4" y1="216" x2="67.4" y2="218.6" stroke="#444" stroke-width="0.7"/>
<line x1="89" y1="216" x2="89" y2="217.8" stroke="#444" stroke-width="0.7"/>
<line x1="110.5" y1="216" x2="110.5" y2="218.6" stroke="#444" stroke-width="0.7"/>
<line x1="136.4" y1="216" x2="136.4" y2="218.6" stroke="#444" stroke-width="0.7"/>
<line x1="154.4" y1="216" x2="154.4" y2="217.8" stroke="#444" stroke-width="0.7"/>
<line x1="172.3" y1="216" x2="172.3" y2="218.6" stroke="#444" stroke-width="0.7"/>
<line x1="190.3" y1="216" x2="190.3" y2="217.8" stroke="#444" stroke-width="0.7"/>
<text x="0" y="0" font-size="7.8" text-anchor="middle" fill="#000" transform="translate(67.4 227.3) scale(1 1.13)">3500</text>
<text x="0" y="0" font-size="7.8" text-anchor="middle" fill="#000" transform="translate(110.5 227.3) scale(1 1.13)">3000</text>
<text x="0" y="0" font-size="7.8" text-anchor="middle" fill="#000" transform="translate(136.4 227.3) scale(1 1.13)">2000</text>
<text x="0" y="0" font-size="7.8" text-anchor="middle" fill="#000" transform="translate(172.3 227.3) scale(1 1.13)">1500</text>
<text x="0" y="0" font-size="9.3" text-anchor="middle" fill="#000" transform="translate(121.3 238.6) scale(1 1.13)">Wavenumber (cm<tspan font-size="6.51" dy="-3.72">-1</tspan><tspan dy="3.72">)</tspan></text>
<line x1="22.9" y1="76" x2="22.9" y2="211.5" stroke="#555" stroke-width="0.7"/>
<path d="M22.9 71.5 L24.6 76.5 L21.2 76.5Z" fill="#555"/>
<text x="0" y="0" font-size="7.7" text-anchor="end" fill="#000" transform="translate(39.4 87) scale(1 1.13)">-1.2</text>
<text x="0" y="0" font-size="7.7" text-anchor="end" fill="#000" transform="translate(39.4 105.2) scale(1 1.13)">-1.0</text>
<text x="0" y="0" font-size="7.7" text-anchor="end" fill="#000" transform="translate(39.4 123.8) scale(1 1.13)">-0.8</text>
<text x="0" y="0" font-size="7.7" text-anchor="end" fill="#000" transform="translate(39.4 143.1) scale(1 1.13)">-0.6</text>
<text x="0" y="0" font-size="7.7" text-anchor="end" fill="#000" transform="translate(39.4 162.3) scale(1 1.13)">-0.4</text>
<text x="0" y="0" font-size="7.7" text-anchor="end" fill="#000" transform="translate(39.4 181.6) scale(1 1.13)">-0.2</text>
<text x="0" y="0" font-size="7.7" text-anchor="end" fill="#000" transform="translate(39.4 200.6) scale(1 1.13)">0</text>
<text x="0" y="0" font-size="7.7" text-anchor="end" fill="#000" transform="translate(39.4 210) scale(1 1.13)">OCP</text>
<text x="0" y="0" font-size="8.67" text-anchor="middle" fill="#000" transform="translate(18.4 133) scale(1 1.05) rotate(-90)">E (V vs. RHE)</text>
<text x="0" y="0" font-size="7.2" text-anchor="start" fill="#000" transform="translate(41 20.2) scale(1 1.13)">IsotropicNano</text>
<line x1="47" y1="25.8" x2="47" y2="42.3" stroke="#333" stroke-width="0.7"/>
<line x1="45.8" y1="25.8" x2="48.2" y2="25.8" stroke="#333" stroke-width="0.7"/>
<line x1="45.8" y1="42.3" x2="48.2" y2="42.3" stroke="#333" stroke-width="0.7"/>
<text x="0" y="0" font-size="7.3" text-anchor="start" fill="#000" transform="translate(49.8 34.2) scale(1 1.13)">0.005</text>
<text x="0" y="0" font-size="5.9" text-anchor="middle" fill="#333" transform="translate(80.5 48.6) scale(1 1.13)">O-H stretching</text>
<text x="0" y="0" font-size="5.9" text-anchor="start" fill="#333" transform="translate(119.6 32.2) scale(1 1.13)">H-O-H bending</text>
<text x="0" y="0" font-size="5.9" text-anchor="start" fill="#333" transform="translate(120 56.2) scale(1 1.13)">CO<tspan font-size="4.13" dy="1.48">atop</tspan><tspan dy="-1.48"></tspan></text>
<text x="0" y="0" font-size="5.9" text-anchor="start" fill="#333" transform="translate(139.3 56.2) scale(1 1.13)">*COOH</text>
<text x="0" y="0" font-size="5.9" text-anchor="start" fill="#333" transform="translate(179.8 74.4) scale(1 1.13)">*CO<tspan font-size="4.13" dy="1.48">2</tspan><tspan dy="-1.48"><tspan font-size="4.13" dy="-2.36">&#8722;</tspan><tspan dy="2.36"></tspan></tspan></text>
<rect x="254.6" y="20.5" width="2" height="195.3" fill="#007aff" stroke="none" stroke-width="0.8"/>
<rect x="255.6" y="20.5" width="2" height="195.3" fill="#008bff" stroke="none" stroke-width="0.8"/>
<rect x="256.6" y="20.5" width="2" height="195.3" fill="#0080ff" stroke="none" stroke-width="0.8"/>
<rect x="257.6" y="20.5" width="2" height="195.3" fill="#006bff" stroke="none" stroke-width="0.8"/>
<rect x="258.6" y="20.5" width="2" height="195.3" fill="#0061ff" stroke="none" stroke-width="0.8"/>
<rect x="259.6" y="20.5" width="2" height="195.3" fill="#0054ff" stroke="none" stroke-width="0.8"/>
<rect x="260.6" y="20.5" width="2" height="195.3" fill="#004eff" stroke="none" stroke-width="0.8"/>
<rect x="261.6" y="20.5" width="2" height="195.3" fill="#0042ff" stroke="none" stroke-width="0.8"/>
<rect x="262.6" y="20.5" width="2" height="195.3" fill="#0037ff" stroke="none" stroke-width="0.8"/>
<rect x="263.6" y="20.5" width="2" height="195.3" fill="#0037ff" stroke="none" stroke-width="0.8"/>
<rect x="264.6" y="20.5" width="2" height="195.3" fill="#003fff" stroke="none" stroke-width="0.8"/>
<rect x="265.6" y="20.5" width="2" height="195.3" fill="#004fff" stroke="none" stroke-width="0.8"/>
<rect x="266.6" y="20.5" width="2" height="195.3" fill="#0059ff" stroke="none" stroke-width="0.8"/>
<rect x="267.6" y="20.5" width="2" height="195.3" fill="#0055ff" stroke="none" stroke-width="0.8"/>
<rect x="268.6" y="20.5" width="2" height="195.3" fill="#0041ff" stroke="none" stroke-width="0.8"/>
<rect x="269.6" y="20.5" width="2" height="195.3" fill="#0033ff" stroke="none" stroke-width="0.8"/>
<rect x="270.6" y="20.5" width="2" height="195.3" fill="#0042ff" stroke="none" stroke-width="0.8"/>
<rect x="271.6" y="20.5" width="2" height="195.3" fill="#0058ff" stroke="none" stroke-width="0.8"/>
<rect x="272.6" y="20.5" width="2" height="195.3" fill="url(#g1)" stroke="none" stroke-width="0.8"/>
<rect x="273.6" y="20.5" width="2" height="195.3" fill="url(#g2)" stroke="none" stroke-width="0.8"/>
<rect x="274.6" y="20.5" width="2" height="195.3" fill="url(#g3)" stroke="none" stroke-width="0.8"/>
<rect x="275.6" y="20.5" width="2" height="195.3" fill="url(#g4)" stroke="none" stroke-width="0.8"/>
<rect x="276.6" y="20.5" width="2" height="195.3" fill="url(#g5)" stroke="none" stroke-width="0.8"/>
<rect x="277.6" y="20.5" width="2" height="195.3" fill="url(#g6)" stroke="none" stroke-width="0.8"/>
<rect x="278.6" y="20.5" width="2" height="195.3" fill="url(#g7)" stroke="none" stroke-width="0.8"/>
<rect x="279.6" y="20.5" width="2" height="195.3" fill="url(#g8)" stroke="none" stroke-width="0.8"/>
<rect x="280.6" y="20.5" width="2" height="195.3" fill="url(#g9)" stroke="none" stroke-width="0.8"/>
<rect x="281.6" y="20.5" width="2" height="195.3" fill="url(#g10)" stroke="none" stroke-width="0.8"/>
<rect x="282.6" y="20.5" width="2" height="195.3" fill="url(#g11)" stroke="none" stroke-width="0.8"/>
<rect x="283.6" y="20.5" width="2" height="195.3" fill="url(#g12)" stroke="none" stroke-width="0.8"/>
<rect x="284.6" y="20.5" width="2" height="195.3" fill="url(#g13)" stroke="none" stroke-width="0.8"/>
<rect x="285.6" y="20.5" width="2" height="195.3" fill="url(#g14)" stroke="none" stroke-width="0.8"/>
<rect x="286.6" y="20.5" width="2" height="195.3" fill="url(#g15)" stroke="none" stroke-width="0.8"/>
<rect x="287.6" y="20.5" width="2" height="195.3" fill="url(#g16)" stroke="none" stroke-width="0.8"/>
<rect x="288.6" y="20.5" width="2" height="195.3" fill="url(#g17)" stroke="none" stroke-width="0.8"/>
<rect x="289.6" y="20.5" width="2" height="195.3" fill="url(#g18)" stroke="none" stroke-width="0.8"/>
<rect x="290.6" y="20.5" width="2" height="195.3" fill="url(#g19)" stroke="none" stroke-width="0.8"/>
<rect x="291.6" y="20.5" width="2" height="195.3" fill="url(#g20)" stroke="none" stroke-width="0.8"/>
<rect x="292.6" y="20.5" width="2" height="195.3" fill="url(#g21)" stroke="none" stroke-width="0.8"/>
<rect x="293.6" y="20.5" width="2" height="195.3" fill="url(#g22)" stroke="none" stroke-width="0.8"/>
<rect x="294.6" y="20.5" width="2" height="195.3" fill="url(#g23)" stroke="none" stroke-width="0.8"/>
<rect x="295.6" y="20.5" width="2" height="195.3" fill="url(#g24)" stroke="none" stroke-width="0.8"/>
<rect x="296.6" y="20.5" width="2" height="195.3" fill="url(#g25)" stroke="none" stroke-width="0.8"/>
<rect x="297.6" y="20.5" width="2" height="195.3" fill="url(#g26)" stroke="none" stroke-width="0.8"/>
<rect x="298.6" y="20.5" width="2" height="195.3" fill="url(#g27)" stroke="none" stroke-width="0.8"/>
<rect x="299.6" y="20.5" width="2" height="195.3" fill="url(#g28)" stroke="none" stroke-width="0.8"/>
<rect x="300.6" y="20.5" width="2" height="195.3" fill="url(#g29)" stroke="none" stroke-width="0.8"/>
<rect x="301.6" y="20.5" width="2" height="195.3" fill="url(#g30)" stroke="none" stroke-width="0.8"/>
<rect x="302.6" y="20.5" width="2" height="195.3" fill="url(#g31)" stroke="none" stroke-width="0.8"/>
<rect x="303.6" y="20.5" width="2" height="195.3" fill="url(#g32)" stroke="none" stroke-width="0.8"/>
<rect x="304.6" y="20.5" width="2" height="195.3" fill="url(#g33)" stroke="none" stroke-width="0.8"/>
<rect x="305.6" y="20.5" width="2" height="195.3" fill="#0049ff" stroke="none" stroke-width="0.8"/>
<rect x="306.6" y="20.5" width="2" height="195.3" fill="#0065ff" stroke="none" stroke-width="0.8"/>
<rect x="307.6" y="20.5" width="2" height="195.3" fill="#007fff" stroke="none" stroke-width="0.8"/>
<rect x="308.6" y="20.5" width="2" height="195.3" fill="#0078ff" stroke="none" stroke-width="0.8"/>
<rect x="309.6" y="20.5" width="2" height="195.3" fill="#00a9ff" stroke="none" stroke-width="0.8"/>
<rect x="310.6" y="20.5" width="2" height="195.3" fill="#00a4ff" stroke="none" stroke-width="0.8"/>
<rect x="311.6" y="20.5" width="2" height="195.3" fill="#007dff" stroke="none" stroke-width="0.8"/>
<rect x="312.6" y="20.5" width="2" height="195.3" fill="#0069ff" stroke="none" stroke-width="0.8"/>
<rect x="313.6" y="20.5" width="2" height="195.3" fill="#0062ff" stroke="none" stroke-width="0.8"/>
<rect x="314.6" y="20.5" width="2" height="195.3" fill="#0062ff" stroke="none" stroke-width="0.8"/>
<rect x="315.6" y="20.5" width="2" height="195.3" fill="#006aff" stroke="none" stroke-width="0.8"/>
<rect x="316.6" y="20.5" width="2" height="195.3" fill="#0068ff" stroke="none" stroke-width="0.8"/>
<rect x="317.6" y="20.5" width="2" height="195.3" fill="#006cff" stroke="none" stroke-width="0.8"/>
<rect x="318.6" y="20.5" width="2" height="195.3" fill="#0068ff" stroke="none" stroke-width="0.8"/>
<rect x="319.6" y="20.5" width="2" height="195.3" fill="#004bff" stroke="none" stroke-width="0.8"/>
<rect x="320.6" y="20.5" width="2" height="195.3" fill="#0043ff" stroke="none" stroke-width="0.8"/>
<rect x="321.6" y="20.5" width="2" height="195.3" fill="#003fff" stroke="none" stroke-width="0.8"/>
<rect x="322.6" y="20.5" width="2" height="195.3" fill="#003dff" stroke="none" stroke-width="0.8"/>
<rect x="323.6" y="20.5" width="2" height="195.3" fill="#0050ff" stroke="none" stroke-width="0.8"/>
<rect x="324.6" y="20.5" width="2" height="195.3" fill="#0065ff" stroke="none" stroke-width="0.8"/>
<rect x="325.6" y="20.5" width="2" height="195.3" fill="#0071ff" stroke="none" stroke-width="0.8"/>
<rect x="326.6" y="20.5" width="2" height="195.3" fill="#0081ff" stroke="none" stroke-width="0.8"/>
<rect x="327.6" y="20.5" width="2" height="195.3" fill="#0083ff" stroke="none" stroke-width="0.8"/>
<rect x="328.6" y="20.5" width="2" height="195.3" fill="#0069ff" stroke="none" stroke-width="0.8"/>
<rect x="329.6" y="20.5" width="2" height="195.3" fill="#006bff" stroke="none" stroke-width="0.8"/>
<rect x="330.6" y="20.5" width="2" height="195.3" fill="#008fff" stroke="none" stroke-width="0.8"/>
<rect x="331.6" y="20.5" width="2" height="195.3" fill="#0082ff" stroke="none" stroke-width="0.8"/>
<rect x="332.6" y="20.5" width="2" height="195.3" fill="#0060ff" stroke="none" stroke-width="0.8"/>
<rect x="333.6" y="20.5" width="2" height="195.3" fill="#0059ff" stroke="none" stroke-width="0.8"/>
<rect x="334.6" y="20.5" width="2" height="195.3" fill="#0051ff" stroke="none" stroke-width="0.8"/>
<rect x="335.6" y="20.5" width="2" height="195.3" fill="#0048ff" stroke="none" stroke-width="0.8"/>
<rect x="336.6" y="20.5" width="2" height="195.3" fill="#0047ff" stroke="none" stroke-width="0.8"/>
<rect x="337.6" y="20.5" width="2" height="195.3" fill="#004dff" stroke="none" stroke-width="0.8"/>
<rect x="338.6" y="20.5" width="2" height="195.3" fill="#004eff" stroke="none" stroke-width="0.8"/>
<rect x="339.6" y="20.5" width="1" height="195.3" fill="#0055ff" stroke="none" stroke-width="0.8"/>
<rect x="254.6" y="20.5" width="86" height="195.3" fill="none" stroke="#222" stroke-width="0.8"/>
<path d="M277.4 20.5 L302.6 20.5 L302.6 143.1 L277.4 143.1 Z" fill="none" stroke="#fff" stroke-width="1.2" stroke-dasharray="3.8 2.8" opacity="0.95"/>
<line x1="254.6" y1="20.5" x2="250.2" y2="20.5" stroke="#222" stroke-width="0.7"/>
<text x="0" y="0" font-size="8.4" text-anchor="end" fill="#000" transform="translate(248.4 22.8) scale(1 1.13)">&#8722;1.2</text>
<line x1="254.6" y1="36.78" x2="252" y2="36.78" stroke="#222" stroke-width="0.7"/>
<line x1="254.6" y1="53.05" x2="250.2" y2="53.05" stroke="#222" stroke-width="0.7"/>
<text x="0" y="0" font-size="8.4" text-anchor="end" fill="#000" transform="translate(248.4 55.35) scale(1 1.13)">&#8722;1.0</text>
<line x1="254.6" y1="69.33" x2="252" y2="69.33" stroke="#222" stroke-width="0.7"/>
<line x1="254.6" y1="85.6" x2="250.2" y2="85.6" stroke="#222" stroke-width="0.7"/>
<text x="0" y="0" font-size="8.4" text-anchor="end" fill="#000" transform="translate(248.4 87.9) scale(1 1.13)">&#8722;0.8</text>
<line x1="254.6" y1="101.88" x2="252" y2="101.88" stroke="#222" stroke-width="0.7"/>
<line x1="254.6" y1="118.15" x2="250.2" y2="118.15" stroke="#222" stroke-width="0.7"/>
<text x="0" y="0" font-size="8.4" text-anchor="end" fill="#000" transform="translate(248.4 120.45) scale(1 1.13)">&#8722;0.6</text>
<line x1="254.6" y1="134.43" x2="252" y2="134.43" stroke="#222" stroke-width="0.7"/>
<line x1="254.6" y1="150.7" x2="250.2" y2="150.7" stroke="#222" stroke-width="0.7"/>
<text x="0" y="0" font-size="8.4" text-anchor="end" fill="#000" transform="translate(248.4 153) scale(1 1.13)">&#8722;0.4</text>
<line x1="254.6" y1="166.97" x2="252" y2="166.97" stroke="#222" stroke-width="0.7"/>
<line x1="254.6" y1="183.25" x2="250.2" y2="183.25" stroke="#222" stroke-width="0.7"/>
<text x="0" y="0" font-size="8.4" text-anchor="end" fill="#000" transform="translate(248.4 185.55) scale(1 1.13)">&#8722;0.2</text>
<line x1="254.6" y1="199.53" x2="252" y2="199.53" stroke="#222" stroke-width="0.7"/>
<line x1="254.6" y1="215.8" x2="250.2" y2="215.8" stroke="#222" stroke-width="0.7"/>
<text x="0" y="0" font-size="8.4" text-anchor="end" fill="#000" transform="translate(248.4 218.1) scale(1 1.13)">0.0</text>
<line x1="254.6" y1="215.8" x2="254.6" y2="219.6" stroke="#222" stroke-width="0.75"/>
<text x="0" y="0" font-size="9" text-anchor="middle" fill="#000" transform="translate(254.6 229.1) scale(1 1.13)">2200</text>
<line x1="268.93" y1="215.8" x2="268.93" y2="218.2" stroke="#222" stroke-width="0.75"/>
<line x1="283.27" y1="215.8" x2="283.27" y2="219.6" stroke="#222" stroke-width="0.75"/>
<text x="0" y="0" font-size="9" text-anchor="middle" fill="#000" transform="translate(283.27 229.1) scale(1 1.13)">2100</text>
<line x1="297.6" y1="215.8" x2="297.6" y2="218.2" stroke="#222" stroke-width="0.75"/>
<line x1="311.93" y1="215.8" x2="311.93" y2="219.6" stroke="#222" stroke-width="0.75"/>
<text x="0" y="0" font-size="9" text-anchor="middle" fill="#000" transform="translate(311.93 229.1) scale(1 1.13)">2000</text>
<line x1="326.27" y1="215.8" x2="326.27" y2="218.2" stroke="#222" stroke-width="0.75"/>
<line x1="340.6" y1="215.8" x2="340.6" y2="219.6" stroke="#222" stroke-width="0.75"/>
<text x="0" y="0" font-size="9" text-anchor="middle" fill="#000" transform="translate(340.6 229.1) scale(1 1.13)">1900</text>
<text x="256.1" y="213.2" font-size="10.5" text-anchor="start" fill="#e2f0ff">DirectionalMeso</text>
<text x="0" y="0" font-size="10.3" text-anchor="middle" fill="#000" transform="translate(297.6 246.2) scale(1 1.13)">Wavenumber (cm<tspan font-size="7.21" dy="-4.12">-1</tspan><tspan dy="4.12">)</tspan></text>
<text x="0" y="0" font-size="9.9" text-anchor="middle" fill="#000" transform="translate(223.6 117.8) scale(1 1.05) rotate(-90)">Potential (V vs. RHE)</text>
<rect x="388.6" y="20.5" width="2" height="195.3" fill="#0051ff" stroke="none" stroke-width="0.8"/>
<rect x="389.6" y="20.5" width="2" height="195.3" fill="#0051ff" stroke="none" stroke-width="0.8"/>
<rect x="390.6" y="20.5" width="2" height="195.3" fill="#0051ff" stroke="none" stroke-width="0.8"/>
<rect x="391.6" y="20.5" width="2" height="195.3" fill="#0051ff" stroke="none" stroke-width="0.8"/>
<rect x="392.6" y="20.5" width="2" height="195.3" fill="#0051ff" stroke="none" stroke-width="0.8"/>
<rect x="393.6" y="20.5" width="2" height="195.3" fill="#0051ff" stroke="none" stroke-width="0.8"/>
<rect x="394.6" y="20.5" width="2" height="195.3" fill="#0051ff" stroke="none" stroke-width="0.8"/>
<rect x="395.6" y="20.5" width="2" height="195.3" fill="#0052ff" stroke="none" stroke-width="0.8"/>
<rect x="396.6" y="20.5" width="2" height="195.3" fill="#0056ff" stroke="none" stroke-width="0.8"/>
<rect x="397.6" y="20.5" width="2" height="195.3" fill="#005fff" stroke="none" stroke-width="0.8"/>
<rect x="398.6" y="20.5" width="2" height="195.3" fill="#0068ff" stroke="none" stroke-width="0.8"/>
<rect x="399.6" y="20.5" width="2" height="195.3" fill="#0066ff" stroke="none" stroke-width="0.8"/>
<rect x="400.6" y="20.5" width="2" height="195.3" fill="#005aff" stroke="none" stroke-width="0.8"/>
<rect x="401.6" y="20.5" width="2" height="195.3" fill="#0051ff" stroke="none" stroke-width="0.8"/>
<rect x="402.6" y="20.5" width="2" height="195.3" fill="#004eff" stroke="none" stroke-width="0.8"/>
<rect x="403.6" y="20.5" width="2" height="195.3" fill="url(#g34)" stroke="none" stroke-width="0.8"/>
<rect x="404.6" y="20.5" width="2" height="195.3" fill="url(#g35)" stroke="none" stroke-width="0.8"/>
<rect x="405.6" y="20.5" width="2" height="195.3" fill="url(#g36)" stroke="none" stroke-width="0.8"/>
<rect x="406.6" y="20.5" width="2" height="195.3" fill="url(#g37)" stroke="none" stroke-width="0.8"/>
<rect x="407.6" y="20.5" width="2" height="195.3" fill="url(#g38)" stroke="none" stroke-width="0.8"/>
<rect x="408.6" y="20.5" width="2" height="195.3" fill="url(#g39)" stroke="none" stroke-width="0.8"/>
<rect x="409.6" y="20.5" width="2" height="195.3" fill="url(#g40)" stroke="none" stroke-width="0.8"/>
<rect x="410.6" y="20.5" width="2" height="195.3" fill="url(#g41)" stroke="none" stroke-width="0.8"/>
<rect x="411.6" y="20.5" width="2" height="195.3" fill="url(#g42)" stroke="none" stroke-width="0.8"/>
<rect x="412.6" y="20.5" width="2" height="195.3" fill="url(#g43)" stroke="none" stroke-width="0.8"/>
<rect x="413.6" y="20.5" width="2" height="195.3" fill="url(#g44)" stroke="none" stroke-width="0.8"/>
<rect x="414.6" y="20.5" width="2" height="195.3" fill="url(#g45)" stroke="none" stroke-width="0.8"/>
<rect x="415.6" y="20.5" width="2" height="195.3" fill="url(#g46)" stroke="none" stroke-width="0.8"/>
<rect x="416.6" y="20.5" width="2" height="195.3" fill="url(#g47)" stroke="none" stroke-width="0.8"/>
<rect x="417.6" y="20.5" width="2" height="195.3" fill="url(#g48)" stroke="none" stroke-width="0.8"/>
<rect x="418.6" y="20.5" width="2" height="195.3" fill="url(#g49)" stroke="none" stroke-width="0.8"/>
<rect x="419.6" y="20.5" width="2" height="195.3" fill="url(#g50)" stroke="none" stroke-width="0.8"/>
<rect x="420.6" y="20.5" width="2" height="195.3" fill="url(#g51)" stroke="none" stroke-width="0.8"/>
<rect x="421.6" y="20.5" width="2" height="195.3" fill="url(#g52)" stroke="none" stroke-width="0.8"/>
<rect x="422.6" y="20.5" width="2" height="195.3" fill="url(#g53)" stroke="none" stroke-width="0.8"/>
<rect x="423.6" y="20.5" width="2" height="195.3" fill="url(#g54)" stroke="none" stroke-width="0.8"/>
<rect x="424.6" y="20.5" width="2" height="195.3" fill="url(#g55)" stroke="none" stroke-width="0.8"/>
<rect x="425.6" y="20.5" width="2" height="195.3" fill="url(#g56)" stroke="none" stroke-width="0.8"/>
<rect x="426.6" y="20.5" width="2" height="195.3" fill="url(#g57)" stroke="none" stroke-width="0.8"/>
<rect x="427.6" y="20.5" width="2" height="195.3" fill="url(#g58)" stroke="none" stroke-width="0.8"/>
<rect x="428.6" y="20.5" width="2" height="195.3" fill="url(#g59)" stroke="none" stroke-width="0.8"/>
<rect x="429.6" y="20.5" width="2" height="195.3" fill="url(#g60)" stroke="none" stroke-width="0.8"/>
<rect x="430.6" y="20.5" width="2" height="195.3" fill="url(#g61)" stroke="none" stroke-width="0.8"/>
<rect x="431.6" y="20.5" width="2" height="195.3" fill="url(#g62)" stroke="none" stroke-width="0.8"/>
<rect x="432.6" y="20.5" width="2" height="195.3" fill="url(#g63)" stroke="none" stroke-width="0.8"/>
<rect x="433.6" y="20.5" width="2" height="195.3" fill="url(#g64)" stroke="none" stroke-width="0.8"/>
<rect x="434.6" y="20.5" width="2" height="195.3" fill="url(#g65)" stroke="none" stroke-width="0.8"/>
<rect x="435.6" y="20.5" width="2" height="195.3" fill="url(#g66)" stroke="none" stroke-width="0.8"/>
<rect x="436.6" y="20.5" width="2" height="195.3" fill="url(#g67)" stroke="none" stroke-width="0.8"/>
<rect x="437.6" y="20.5" width="2" height="195.3" fill="url(#g68)" stroke="none" stroke-width="0.8"/>
<rect x="438.6" y="20.5" width="2" height="195.3" fill="url(#g69)" stroke="none" stroke-width="0.8"/>
<rect x="439.6" y="20.5" width="2" height="195.3" fill="url(#g70)" stroke="none" stroke-width="0.8"/>
<rect x="440.6" y="20.5" width="2" height="195.3" fill="#0044ff" stroke="none" stroke-width="0.8"/>
<rect x="441.6" y="20.5" width="2" height="195.3" fill="#0021ff" stroke="none" stroke-width="0.8"/>
<rect x="442.6" y="20.5" width="2" height="195.3" fill="#0039ff" stroke="none" stroke-width="0.8"/>
<rect x="443.6" y="20.5" width="2" height="195.3" fill="#0054ff" stroke="none" stroke-width="0.8"/>
<rect x="444.6" y="20.5" width="2" height="195.3" fill="#0058ff" stroke="none" stroke-width="0.8"/>
<rect x="445.6" y="20.5" width="2" height="195.3" fill="#0054ff" stroke="none" stroke-width="0.8"/>
<rect x="446.6" y="20.5" width="2" height="195.3" fill="#0051ff" stroke="none" stroke-width="0.8"/>
<rect x="447.6" y="20.5" width="2" height="195.3" fill="#0051ff" stroke="none" stroke-width="0.8"/>
<rect x="448.6" y="20.5" width="2" height="195.3" fill="#0051ff" stroke="none" stroke-width="0.8"/>
<rect x="449.6" y="20.5" width="2" height="195.3" fill="#0051ff" stroke="none" stroke-width="0.8"/>
<rect x="450.6" y="20.5" width="2" height="195.3" fill="#0051ff" stroke="none" stroke-width="0.8"/>
<rect x="451.6" y="20.5" width="2" height="195.3" fill="#0051ff" stroke="none" stroke-width="0.8"/>
<rect x="452.6" y="20.5" width="2" height="195.3" fill="#0051ff" stroke="none" stroke-width="0.8"/>
<rect x="453.6" y="20.5" width="2" height="195.3" fill="#0051ff" stroke="none" stroke-width="0.8"/>
<rect x="454.6" y="20.5" width="2" height="195.3" fill="#0051ff" stroke="none" stroke-width="0.8"/>
<rect x="455.6" y="20.5" width="2" height="195.3" fill="#0051ff" stroke="none" stroke-width="0.8"/>
<rect x="456.6" y="20.5" width="2" height="195.3" fill="#0051ff" stroke="none" stroke-width="0.8"/>
<rect x="457.6" y="20.5" width="2" height="195.3" fill="#0052ff" stroke="none" stroke-width="0.8"/>
<rect x="458.6" y="20.5" width="2" height="195.3" fill="#005cff" stroke="none" stroke-width="0.8"/>
<rect x="459.6" y="20.5" width="2" height="195.3" fill="#0063ff" stroke="none" stroke-width="0.8"/>
<rect x="460.6" y="20.5" width="2" height="195.3" fill="#0054ff" stroke="none" stroke-width="0.8"/>
<rect x="461.6" y="20.5" width="2" height="195.3" fill="#004dff" stroke="none" stroke-width="0.8"/>
<rect x="462.6" y="20.5" width="2" height="195.3" fill="#003fff" stroke="none" stroke-width="0.8"/>
<rect x="463.6" y="20.5" width="2" height="195.3" fill="#002bff" stroke="none" stroke-width="0.8"/>
<rect x="464.6" y="20.5" width="2" height="195.3" fill="#002eff" stroke="none" stroke-width="0.8"/>
<rect x="465.6" y="20.5" width="2" height="195.3" fill="#0036ff" stroke="none" stroke-width="0.8"/>
<rect x="466.6" y="20.5" width="2" height="195.3" fill="#0034ff" stroke="none" stroke-width="0.8"/>
<rect x="467.6" y="20.5" width="2" height="195.3" fill="#002fff" stroke="none" stroke-width="0.8"/>
<rect x="468.6" y="20.5" width="2" height="195.3" fill="#002bff" stroke="none" stroke-width="0.8"/>
<rect x="469.6" y="20.5" width="2" height="195.3" fill="#0033ff" stroke="none" stroke-width="0.8"/>
<rect x="470.6" y="20.5" width="2" height="195.3" fill="#0046ff" stroke="none" stroke-width="0.8"/>
<rect x="471.6" y="20.5" width="2" height="195.3" fill="#0060ff" stroke="none" stroke-width="0.8"/>
<rect x="472.6" y="20.5" width="2" height="195.3" fill="#0069ff" stroke="none" stroke-width="0.8"/>
<rect x="473.6" y="20.5" width="1" height="195.3" fill="#0055ff" stroke="none" stroke-width="0.8"/>
<rect x="388.6" y="20.5" width="86" height="195.3" fill="none" stroke="#222" stroke-width="0.8"/>
<path d="M407.6 20.5 L437 20.5 L437 144.2 L407.6 144.2 Z" fill="none" stroke="#fff" stroke-width="1.2" stroke-dasharray="3.8 2.8" opacity="0.95"/>
<line x1="388.6" y1="20.5" x2="384.2" y2="20.5" stroke="#222" stroke-width="0.7"/>
<text x="0" y="0" font-size="8.4" text-anchor="end" fill="#000" transform="translate(382.4 22.8) scale(1 1.13)">&#8722;1.2</text>
<line x1="388.6" y1="36.78" x2="386" y2="36.78" stroke="#222" stroke-width="0.7"/>
<line x1="388.6" y1="53.05" x2="384.2" y2="53.05" stroke="#222" stroke-width="0.7"/>
<text x="0" y="0" font-size="8.4" text-anchor="end" fill="#000" transform="translate(382.4 55.35) scale(1 1.13)">&#8722;1.0</text>
<line x1="388.6" y1="69.33" x2="386" y2="69.33" stroke="#222" stroke-width="0.7"/>
<line x1="388.6" y1="85.6" x2="384.2" y2="85.6" stroke="#222" stroke-width="0.7"/>
<text x="0" y="0" font-size="8.4" text-anchor="end" fill="#000" transform="translate(382.4 87.9) scale(1 1.13)">&#8722;0.8</text>
<line x1="388.6" y1="101.88" x2="386" y2="101.88" stroke="#222" stroke-width="0.7"/>
<line x1="388.6" y1="118.15" x2="384.2" y2="118.15" stroke="#222" stroke-width="0.7"/>
<text x="0" y="0" font-size="8.4" text-anchor="end" fill="#000" transform="translate(382.4 120.45) scale(1 1.13)">&#8722;0.6</text>
<line x1="388.6" y1="134.43" x2="386" y2="134.43" stroke="#222" stroke-width="0.7"/>
<line x1="388.6" y1="150.7" x2="384.2" y2="150.7" stroke="#222" stroke-width="0.7"/>
<text x="0" y="0" font-size="8.4" text-anchor="end" fill="#000" transform="translate(382.4 153) scale(1 1.13)">&#8722;0.4</text>
<line x1="388.6" y1="166.97" x2="386" y2="166.97" stroke="#222" stroke-width="0.7"/>
<line x1="388.6" y1="183.25" x2="384.2" y2="183.25" stroke="#222" stroke-width="0.7"/>
<text x="0" y="0" font-size="8.4" text-anchor="end" fill="#000" transform="translate(382.4 185.55) scale(1 1.13)">&#8722;0.2</text>
<line x1="388.6" y1="199.53" x2="386" y2="199.53" stroke="#222" stroke-width="0.7"/>
<line x1="388.6" y1="215.8" x2="384.2" y2="215.8" stroke="#222" stroke-width="0.7"/>
<text x="0" y="0" font-size="8.4" text-anchor="end" fill="#000" transform="translate(382.4 218.1) scale(1 1.13)">0.0</text>
<line x1="388.6" y1="215.8" x2="388.6" y2="219.6" stroke="#222" stroke-width="0.75"/>
<text x="0" y="0" font-size="9" text-anchor="middle" fill="#000" transform="translate(388.6 229.1) scale(1 1.13)">2200</text>
<line x1="402.93" y1="215.8" x2="402.93" y2="218.2" stroke="#222" stroke-width="0.75"/>
<line x1="417.27" y1="215.8" x2="417.27" y2="219.6" stroke="#222" stroke-width="0.75"/>
<text x="0" y="0" font-size="9" text-anchor="middle" fill="#000" transform="translate(417.27 229.1) scale(1 1.13)">2100</text>
<line x1="431.6" y1="215.8" x2="431.6" y2="218.2" stroke="#222" stroke-width="0.75"/>
<line x1="445.93" y1="215.8" x2="445.93" y2="219.6" stroke="#222" stroke-width="0.75"/>
<text x="0" y="0" font-size="9" text-anchor="middle" fill="#000" transform="translate(445.93 229.1) scale(1 1.13)">2000</text>
<line x1="460.27" y1="215.8" x2="460.27" y2="218.2" stroke="#222" stroke-width="0.75"/>
<line x1="474.6" y1="215.8" x2="474.6" y2="219.6" stroke="#222" stroke-width="0.75"/>
<text x="0" y="0" font-size="9" text-anchor="middle" fill="#000" transform="translate(474.6 229.1) scale(1 1.13)">1900</text>
<text x="390.1" y="213.2" font-size="10.5" text-anchor="start" fill="#e2f0ff">IsotropicMeso</text>
<text x="0" y="0" font-size="10.3" text-anchor="middle" fill="#000" transform="translate(431.6 246.2) scale(1 1.13)">Wavenumber (cm<tspan font-size="7.21" dy="-4.12">-1</tspan><tspan dy="4.12">)</tspan></text>
<text x="0" y="0" font-size="9.9" text-anchor="middle" fill="#000" transform="translate(357.6 117.8) scale(1 1.05) rotate(-90)">Potential (V vs. RHE)</text>
<rect x="524.4" y="20.5" width="2" height="195.3" fill="#0058ff" stroke="none" stroke-width="0.8"/>
<rect x="525.4" y="20.5" width="2" height="195.3" fill="#004bff" stroke="none" stroke-width="0.8"/>
<rect x="526.4" y="20.5" width="2" height="195.3" fill="#0044ff" stroke="none" stroke-width="0.8"/>
<rect x="527.4" y="20.5" width="2" height="195.3" fill="#0040ff" stroke="none" stroke-width="0.8"/>
<rect x="528.4" y="20.5" width="2" height="195.3" fill="#0040ff" stroke="none" stroke-width="0.8"/>
<rect x="529.4" y="20.5" width="2" height="195.3" fill="url(#g71)" stroke="none" stroke-width="0.8"/>
<rect x="530.4" y="20.5" width="2" height="195.3" fill="url(#g72)" stroke="none" stroke-width="0.8"/>
<rect x="531.4" y="20.5" width="2" height="195.3" fill="url(#g73)" stroke="none" stroke-width="0.8"/>
<rect x="532.4" y="20.5" width="2" height="195.3" fill="url(#g74)" stroke="none" stroke-width="0.8"/>
<rect x="533.4" y="20.5" width="2" height="195.3" fill="url(#g75)" stroke="none" stroke-width="0.8"/>
<rect x="534.4" y="20.5" width="2" height="195.3" fill="url(#g76)" stroke="none" stroke-width="0.8"/>
<rect x="535.4" y="20.5" width="2" height="195.3" fill="url(#g77)" stroke="none" stroke-width="0.8"/>
<rect x="536.4" y="20.5" width="2" height="195.3" fill="url(#g78)" stroke="none" stroke-width="0.8"/>
<rect x="537.4" y="20.5" width="2" height="195.3" fill="url(#g79)" stroke="none" stroke-width="0.8"/>
<rect x="538.4" y="20.5" width="2" height="195.3" fill="url(#g80)" stroke="none" stroke-width="0.8"/>
<rect x="539.4" y="20.5" width="2" height="195.3" fill="url(#g81)" stroke="none" stroke-width="0.8"/>
<rect x="540.4" y="20.5" width="2" height="195.3" fill="url(#g82)" stroke="none" stroke-width="0.8"/>
<rect x="541.4" y="20.5" width="2" height="195.3" fill="url(#g83)" stroke="none" stroke-width="0.8"/>
<rect x="542.4" y="20.5" width="2" height="195.3" fill="url(#g84)" stroke="none" stroke-width="0.8"/>
<rect x="543.4" y="20.5" width="2" height="195.3" fill="url(#g85)" stroke="none" stroke-width="0.8"/>
<rect x="544.4" y="20.5" width="2" height="195.3" fill="url(#g86)" stroke="none" stroke-width="0.8"/>
<rect x="545.4" y="20.5" width="2" height="195.3" fill="url(#g87)" stroke="none" stroke-width="0.8"/>
<rect x="546.4" y="20.5" width="2" height="195.3" fill="url(#g88)" stroke="none" stroke-width="0.8"/>
<rect x="547.4" y="20.5" width="2" height="195.3" fill="url(#g89)" stroke="none" stroke-width="0.8"/>
<rect x="548.4" y="20.5" width="2" height="195.3" fill="url(#g90)" stroke="none" stroke-width="0.8"/>
<rect x="549.4" y="20.5" width="2" height="195.3" fill="url(#g91)" stroke="none" stroke-width="0.8"/>
<rect x="550.4" y="20.5" width="2" height="195.3" fill="url(#g92)" stroke="none" stroke-width="0.8"/>
<rect x="551.4" y="20.5" width="2" height="195.3" fill="url(#g93)" stroke="none" stroke-width="0.8"/>
<rect x="552.4" y="20.5" width="2" height="195.3" fill="url(#g94)" stroke="none" stroke-width="0.8"/>
<rect x="553.4" y="20.5" width="2" height="195.3" fill="url(#g95)" stroke="none" stroke-width="0.8"/>
<rect x="554.4" y="20.5" width="2" height="195.3" fill="url(#g96)" stroke="none" stroke-width="0.8"/>
<rect x="555.4" y="20.5" width="2" height="195.3" fill="url(#g97)" stroke="none" stroke-width="0.8"/>
<rect x="556.4" y="20.5" width="2" height="195.3" fill="url(#g98)" stroke="none" stroke-width="0.8"/>
<rect x="557.4" y="20.5" width="2" height="195.3" fill="url(#g99)" stroke="none" stroke-width="0.8"/>
<rect x="558.4" y="20.5" width="2" height="195.3" fill="url(#g100)" stroke="none" stroke-width="0.8"/>
<rect x="559.4" y="20.5" width="2" height="195.3" fill="url(#g101)" stroke="none" stroke-width="0.8"/>
<rect x="560.4" y="20.5" width="2" height="195.3" fill="url(#g102)" stroke="none" stroke-width="0.8"/>
<rect x="561.4" y="20.5" width="2" height="195.3" fill="url(#g103)" stroke="none" stroke-width="0.8"/>
<rect x="562.4" y="20.5" width="2" height="195.3" fill="url(#g104)" stroke="none" stroke-width="0.8"/>
<rect x="563.4" y="20.5" width="2" height="195.3" fill="url(#g105)" stroke="none" stroke-width="0.8"/>
<rect x="564.4" y="20.5" width="2" height="195.3" fill="url(#g106)" stroke="none" stroke-width="0.8"/>
<rect x="565.4" y="20.5" width="2" height="195.3" fill="url(#g107)" stroke="none" stroke-width="0.8"/>
<rect x="566.4" y="20.5" width="2" height="195.3" fill="url(#g108)" stroke="none" stroke-width="0.8"/>
<rect x="567.4" y="20.5" width="2" height="195.3" fill="url(#g109)" stroke="none" stroke-width="0.8"/>
<rect x="568.4" y="20.5" width="2" height="195.3" fill="url(#g110)" stroke="none" stroke-width="0.8"/>
<rect x="569.4" y="20.5" width="2" height="195.3" fill="url(#g111)" stroke="none" stroke-width="0.8"/>
<rect x="570.4" y="20.5" width="2" height="195.3" fill="url(#g112)" stroke="none" stroke-width="0.8"/>
<rect x="571.4" y="20.5" width="2" height="195.3" fill="url(#g113)" stroke="none" stroke-width="0.8"/>
<rect x="572.4" y="20.5" width="2" height="195.3" fill="url(#g114)" stroke="none" stroke-width="0.8"/>
<rect x="573.4" y="20.5" width="2" height="195.3" fill="url(#g115)" stroke="none" stroke-width="0.8"/>
<rect x="574.4" y="20.5" width="2" height="195.3" fill="url(#g116)" stroke="none" stroke-width="0.8"/>
<rect x="575.4" y="20.5" width="2" height="195.3" fill="url(#g117)" stroke="none" stroke-width="0.8"/>
<rect x="576.4" y="20.5" width="2" height="195.3" fill="url(#g118)" stroke="none" stroke-width="0.8"/>
<rect x="577.4" y="20.5" width="2" height="195.3" fill="#00ccff" stroke="none" stroke-width="0.8"/>
<rect x="578.4" y="20.5" width="2" height="195.3" fill="#00d8ff" stroke="none" stroke-width="0.8"/>
<rect x="579.4" y="20.5" width="2" height="195.3" fill="#00b6ff" stroke="none" stroke-width="0.8"/>
<rect x="580.4" y="20.5" width="2" height="195.3" fill="#0088ff" stroke="none" stroke-width="0.8"/>
<rect x="581.4" y="20.5" width="2" height="195.3" fill="#006cff" stroke="none" stroke-width="0.8"/>
<rect x="582.4" y="20.5" width="2" height="195.3" fill="#0061ff" stroke="none" stroke-width="0.8"/>
<rect x="583.4" y="20.5" width="2" height="195.3" fill="#0058ff" stroke="none" stroke-width="0.8"/>
<rect x="584.4" y="20.5" width="2" height="195.3" fill="#0053ff" stroke="none" stroke-width="0.8"/>
<rect x="585.4" y="20.5" width="2" height="195.3" fill="#0058ff" stroke="none" stroke-width="0.8"/>
<rect x="586.4" y="20.5" width="2" height="195.3" fill="#005eff" stroke="none" stroke-width="0.8"/>
<rect x="587.4" y="20.5" width="2" height="195.3" fill="#005fff" stroke="none" stroke-width="0.8"/>
<rect x="588.4" y="20.5" width="2" height="195.3" fill="#005bff" stroke="none" stroke-width="0.8"/>
<rect x="589.4" y="20.5" width="2" height="195.3" fill="#004eff" stroke="none" stroke-width="0.8"/>
<rect x="590.4" y="20.5" width="2" height="195.3" fill="#002fff" stroke="none" stroke-width="0.8"/>
<rect x="591.4" y="20.5" width="2" height="195.3" fill="#0012ff" stroke="none" stroke-width="0.8"/>
<rect x="592.4" y="20.5" width="2" height="195.3" fill="#0008ff" stroke="none" stroke-width="0.8"/>
<rect x="593.4" y="20.5" width="2" height="195.3" fill="#0024ff" stroke="none" stroke-width="0.8"/>
<rect x="594.4" y="20.5" width="2" height="195.3" fill="#0051ff" stroke="none" stroke-width="0.8"/>
<rect x="595.4" y="20.5" width="2" height="195.3" fill="#005eff" stroke="none" stroke-width="0.8"/>
<rect x="596.4" y="20.5" width="2" height="195.3" fill="#0056ff" stroke="none" stroke-width="0.8"/>
<rect x="597.4" y="20.5" width="2" height="195.3" fill="#0048ff" stroke="none" stroke-width="0.8"/>
<rect x="598.4" y="20.5" width="2" height="195.3" fill="#006dff" stroke="none" stroke-width="0.8"/>
<rect x="599.4" y="20.5" width="2" height="195.3" fill="#006eff" stroke="none" stroke-width="0.8"/>
<rect x="600.4" y="20.5" width="2" height="195.3" fill="#005aff" stroke="none" stroke-width="0.8"/>
<rect x="601.4" y="20.5" width="2" height="195.3" fill="#0075ff" stroke="none" stroke-width="0.8"/>
<rect x="602.4" y="20.5" width="2" height="195.3" fill="#00cbff" stroke="none" stroke-width="0.8"/>
<rect x="603.4" y="20.5" width="2" height="195.3" fill="#00bcff" stroke="none" stroke-width="0.8"/>
<rect x="604.4" y="20.5" width="2" height="195.3" fill="#0090ff" stroke="none" stroke-width="0.8"/>
<rect x="605.4" y="20.5" width="2" height="195.3" fill="#008cff" stroke="none" stroke-width="0.8"/>
<rect x="606.4" y="20.5" width="2" height="195.3" fill="#00b2ff" stroke="none" stroke-width="0.8"/>
<rect x="607.4" y="20.5" width="2" height="195.3" fill="#00a5ff" stroke="none" stroke-width="0.8"/>
<rect x="608.4" y="20.5" width="2" height="195.3" fill="#0068ff" stroke="none" stroke-width="0.8"/>
<rect x="609.4" y="20.5" width="1" height="195.3" fill="#0056ff" stroke="none" stroke-width="0.8"/>
<rect x="524.4" y="20.5" width="86" height="195.3" fill="none" stroke="#222" stroke-width="0.8"/>
<path d="M537.4 20.5 L573.4 20.5 L573.4 190 L537.4 190 Z" fill="none" stroke="#fff" stroke-width="1.2" stroke-dasharray="3.8 2.8" opacity="0.95"/>
<line x1="524.4" y1="20.5" x2="520" y2="20.5" stroke="#222" stroke-width="0.7"/>
<text x="0" y="0" font-size="8.4" text-anchor="end" fill="#000" transform="translate(518.2 22.8) scale(1 1.13)">&#8722;1.2</text>
<line x1="524.4" y1="36.78" x2="521.8" y2="36.78" stroke="#222" stroke-width="0.7"/>
<line x1="524.4" y1="53.05" x2="520" y2="53.05" stroke="#222" stroke-width="0.7"/>
<text x="0" y="0" font-size="8.4" text-anchor="end" fill="#000" transform="translate(518.2 55.35) scale(1 1.13)">&#8722;1.0</text>
<line x1="524.4" y1="69.33" x2="521.8" y2="69.33" stroke="#222" stroke-width="0.7"/>
<line x1="524.4" y1="85.6" x2="520" y2="85.6" stroke="#222" stroke-width="0.7"/>
<text x="0" y="0" font-size="8.4" text-anchor="end" fill="#000" transform="translate(518.2 87.9) scale(1 1.13)">&#8722;0.8</text>
<line x1="524.4" y1="101.88" x2="521.8" y2="101.88" stroke="#222" stroke-width="0.7"/>
<line x1="524.4" y1="118.15" x2="520" y2="118.15" stroke="#222" stroke-width="0.7"/>
<text x="0" y="0" font-size="8.4" text-anchor="end" fill="#000" transform="translate(518.2 120.45) scale(1 1.13)">&#8722;0.6</text>
<line x1="524.4" y1="134.43" x2="521.8" y2="134.43" stroke="#222" stroke-width="0.7"/>
<line x1="524.4" y1="150.7" x2="520" y2="150.7" stroke="#222" stroke-width="0.7"/>
<text x="0" y="0" font-size="8.4" text-anchor="end" fill="#000" transform="translate(518.2 153) scale(1 1.13)">&#8722;0.4</text>
<line x1="524.4" y1="166.97" x2="521.8" y2="166.97" stroke="#222" stroke-width="0.7"/>
<line x1="524.4" y1="183.25" x2="520" y2="183.25" stroke="#222" stroke-width="0.7"/>
<text x="0" y="0" font-size="8.4" text-anchor="end" fill="#000" transform="translate(518.2 185.55) scale(1 1.13)">&#8722;0.2</text>
<line x1="524.4" y1="199.53" x2="521.8" y2="199.53" stroke="#222" stroke-width="0.7"/>
<line x1="524.4" y1="215.8" x2="520" y2="215.8" stroke="#222" stroke-width="0.7"/>
<text x="0" y="0" font-size="8.4" text-anchor="end" fill="#000" transform="translate(518.2 218.1) scale(1 1.13)">0.0</text>
<line x1="524.4" y1="215.8" x2="524.4" y2="219.6" stroke="#222" stroke-width="0.75"/>
<text x="0" y="0" font-size="9" text-anchor="middle" fill="#000" transform="translate(524.4 229.1) scale(1 1.13)">2200</text>
<line x1="538.73" y1="215.8" x2="538.73" y2="218.2" stroke="#222" stroke-width="0.75"/>
<line x1="553.07" y1="215.8" x2="553.07" y2="219.6" stroke="#222" stroke-width="0.75"/>
<text x="0" y="0" font-size="9" text-anchor="middle" fill="#000" transform="translate(553.07 229.1) scale(1 1.13)">2100</text>
<line x1="567.4" y1="215.8" x2="567.4" y2="218.2" stroke="#222" stroke-width="0.75"/>
<line x1="581.73" y1="215.8" x2="581.73" y2="219.6" stroke="#222" stroke-width="0.75"/>
<text x="0" y="0" font-size="9" text-anchor="middle" fill="#000" transform="translate(581.73 229.1) scale(1 1.13)">2000</text>
<line x1="596.07" y1="215.8" x2="596.07" y2="218.2" stroke="#222" stroke-width="0.75"/>
<line x1="610.4" y1="215.8" x2="610.4" y2="219.6" stroke="#222" stroke-width="0.75"/>
<text x="0" y="0" font-size="9" text-anchor="middle" fill="#000" transform="translate(610.4 229.1) scale(1 1.13)">1900</text>
<text x="525.9" y="213.2" font-size="10.5" text-anchor="start" fill="#e2f0ff">IsotropicNano</text>
<text x="0" y="0" font-size="10.3" text-anchor="middle" fill="#000" transform="translate(567.4 246.2) scale(1 1.13)">Wavenumber (cm<tspan font-size="7.21" dy="-4.12">-1</tspan><tspan dy="4.12">)</tspan></text>
<text x="0" y="0" font-size="9.9" text-anchor="middle" fill="#000" transform="translate(493.4 117.8) scale(1 1.05) rotate(-90)">Potential (V vs. RHE)</text>
<rect x="622.8" y="20.8" width="17" height="195.2" fill="#fff" stroke="none" stroke-width="0.8"/>
<rect x="622.8" y="25.2" width="17" height="186.2" fill="url(#cbar)" stroke="none" stroke-width="0.8"/>
<rect x="622.8" y="20.8" width="17" height="195.2" fill="none" stroke="#222" stroke-width="0.8"/>
<line x1="639.8" y1="25.6" x2="643" y2="25.6" stroke="#222" stroke-width="0.7"/>
<text x="0" y="0" font-size="8.2" text-anchor="start" fill="#000" transform="translate(646.6 28.5) scale(1 1.13)">5.6&#215;10<tspan font-size="5.74" dy="-3.28">&#8722;3</tspan><tspan dy="3.28"></tspan></text>
<line x1="639.8" y1="52.23" x2="643" y2="52.23" stroke="#222" stroke-width="0.7"/>
<text x="0" y="0" font-size="8.2" text-anchor="start" fill="#000" transform="translate(646.6 55.13) scale(1 1.13)">4.7&#215;10<tspan font-size="5.74" dy="-3.28">&#8722;3</tspan><tspan dy="3.28"></tspan></text>
<line x1="639.8" y1="78.86" x2="643" y2="78.86" stroke="#222" stroke-width="0.7"/>
<text x="0" y="0" font-size="8.2" text-anchor="start" fill="#000" transform="translate(646.6 81.76) scale(1 1.13)">3.8&#215;10<tspan font-size="5.74" dy="-3.28">&#8722;3</tspan><tspan dy="3.28"></tspan></text>
<line x1="639.8" y1="105.49" x2="643" y2="105.49" stroke="#222" stroke-width="0.7"/>
<text x="0" y="0" font-size="8.2" text-anchor="start" fill="#000" transform="translate(646.6 108.39) scale(1 1.13)">3.0&#215;10<tspan font-size="5.74" dy="-3.28">&#8722;3</tspan><tspan dy="3.28"></tspan></text>
<line x1="639.8" y1="132.12" x2="643" y2="132.12" stroke="#222" stroke-width="0.7"/>
<text x="0" y="0" font-size="8.2" text-anchor="start" fill="#000" transform="translate(646.6 135.02) scale(1 1.13)">2.1&#215;10<tspan font-size="5.74" dy="-3.28">&#8722;3</tspan><tspan dy="3.28"></tspan></text>
<line x1="639.8" y1="158.75" x2="643" y2="158.75" stroke="#222" stroke-width="0.7"/>
<text x="0" y="0" font-size="8.2" text-anchor="start" fill="#000" transform="translate(646.6 161.65) scale(1 1.13)">1.2&#215;10<tspan font-size="5.74" dy="-3.28">&#8722;3</tspan><tspan dy="3.28"></tspan></text>
<line x1="639.8" y1="185.38" x2="643" y2="185.38" stroke="#222" stroke-width="0.7"/>
<text x="0" y="0" font-size="8.2" text-anchor="start" fill="#000" transform="translate(646.6 188.28) scale(1 1.13)">3.0&#215;10<tspan font-size="5.74" dy="-3.28">&#8722;4</tspan><tspan dy="3.28"></tspan></text>
<line x1="639.8" y1="212.01" x2="643" y2="212.01" stroke="#222" stroke-width="0.7"/>
<text x="0" y="0" font-size="8.2" text-anchor="start" fill="#000" transform="translate(646.6 214.91) scale(1 1.13)">&#8722;5.8&#215;10<tspan font-size="5.74" dy="-3.28">&#8722;4</tspan><tspan dy="3.28"></tspan></text>
<path d="M32.6 298.5 41.1 298.3 46.6 297.9 51.6 297.2 59.6 295.5 63.1 295.2 66.6 295.5 74.1 297.1 78.1 297.8 82.1 298.1 87.6 298.4 114.6 298.6 207.6 298.6 32.6 298.6Z" stroke="none" stroke-width="0" fill="rgba(150,150,150,0.35)"/>
<path d="M32.6 298.5 41.1 298.3 46.6 297.9 51.6 297.2 59.6 295.5 63.1 295.2 66.6 295.5 74.1 297.1 78.1 297.8 82.1 298.1 87.6 298.4 114.6 298.6 207.6 298.6" stroke="#8a8a8a" stroke-width="0.8" fill="none"/>
<path d="M32.6 298 46.6 297.7 56.1 297.2 63.1 296.5 68.6 295.5 73.6 294.1 78.1 292.2 82.1 290.1 89.6 285.7 92.1 284.4 94.6 283.6 97.1 283.3 99.6 283.6 102.6 284.7 113.6 290.9 119.1 293.5 124.6 295.3 131.1 296.5 140.1 297.4 153.1 297.9 174.6 298.2 207.6 298.4 207.6 298.6 32.6 298.6Z" stroke="none" stroke-width="0" fill="rgba(240,140,140,0.26)"/>
<path d="M32.6 298 46.6 297.7 56.1 297.2 63.1 296.5 68.6 295.5 73.6 294.1 78.1 292.2 82.1 290.1 89.6 285.7 92.1 284.4 94.6 283.6 97.1 283.3 99.6 283.6 102.6 284.7 113.6 290.9 119.1 293.5 124.6 295.3 131.1 296.5 140.1 297.4 153.1 297.9 174.6 298.2 207.6 298.4" stroke="#e3807f" stroke-width="0.9" fill="none"/>
<path d="M32.6 298.4 78.6 297.9 90.6 297.5 99.1 296.9 105.6 296.1 111.6 294.8 117.6 293.1 130.6 288.6 134.1 287.8 137.1 287.6 140.1 287.8 143.1 288.5 159.6 294 164.6 295.3 170.1 296.3 176.6 297.1 184.1 297.6 207.6 298.1 207.6 298.6 32.6 298.6Z" stroke="none" stroke-width="0" fill="rgba(140,180,225,0.26)"/>
<path d="M32.6 298.4 78.6 297.9 90.6 297.5 99.1 296.9 105.6 296.1 111.6 294.8 117.6 293.1 130.6 288.6 134.1 287.8 137.1 287.6 140.1 287.8 143.1 288.5 159.6 294 164.6 295.3 170.1 296.3 176.6 297.1 184.1 297.6 207.6 298.1" stroke="#4d8fcf" stroke-width="1" fill="none"/>
<path d="M32.8 297.5 34.8 297.4 35.1 297.2 36.1 292.5 36.3 293.2 37.1 296.6 37.3 297.3 37.6 297.3 38.3 300.8 38.6 300.5 39.1 298 39.3 297.2 39.8 297.2 40.1 296.9 41.1 292.3 41.3 293 42.1 296.3 42.3 297 42.6 297 43.3 300.4 43.6 300.1 44.1 297.6 44.3 296.8 44.8 296.7 45.1 296.4 46.1 292.5 46.3 293 47.1 295.6 47.3 296.2 47.6 296.1 48.3 299.4 48.6 299.1 49.1 296.5 49.3 295.6 49.8 295.5 50.1 295.2 51.1 291.2 51.3 291.7 52.1 294.3 52.3 294.8 54.8 294 55.1 293.7 56.1 289.6 56.3 290.1 57.1 292.8 57.3 293.3 59.8 292.6 60.1 292.4 61.1 288.5 61.3 289 62.1 291.5 62.3 292 64.8 291.2 65.1 291 66.1 288.1 66.3 288.4 67.1 290.1 67.3 290.4 72.6 288.1" stroke="#9c9c9c" stroke-width="0.6" fill="none"/>
<path d="M32.6 297.5 43.1 296.9 48.1 296 66.1 290.8 80.6 284.8 91.6 281.3 98.1 279.7 101.1 279.3 103.6 279.2 107.6 279.4 112.1 280.1 125.1 282.7 131.1 284 142.6 287 157.1 292 170.1 295.6 176.6 296.5 184.1 297 207.6 297.7" stroke="#303030" stroke-width="1.05" fill="none"/>
<line x1="32.6" y1="298.6" x2="207.6" y2="298.6" stroke="#5b9bd5" stroke-width="1.25"/>
<text x="0" y="0" font-size="7.3" text-anchor="end" fill="#000" transform="translate(205.6 294.8) scale(1 1.13)">-1.1 V</text>
<path d="M32.6 319 41.1 318.8 46.6 318.4 51.6 317.7 59.6 316.1 63.1 315.8 66.6 316.1 74.1 317.6 78.1 318.3 87.6 318.9 114.6 319.1 207.6 319.1 32.6 319.1Z" stroke="none" stroke-width="0" fill="rgba(150,150,150,0.35)"/>
<path d="M32.6 319 41.1 318.8 46.6 318.4 51.6 317.7 59.6 316.1 63.1 315.8 66.6 316.1 74.1 317.6 78.1 318.3 87.6 318.9 114.6 319.1 207.6 319.1" stroke="#8a8a8a" stroke-width="0.8" fill="none"/>
<path d="M32.6 318.5 46.6 318.2 56.1 317.7 63.1 317 68.6 316 73.6 314.6 78.1 312.8 82.1 310.7 89.6 306.3 92.1 305 94.6 304.2 97.1 303.9 99.6 304.2 102.6 305.3 113.6 311.5 119.1 314 124.6 315.8 131.1 317 140.1 317.9 153.1 318.4 174.6 318.7 207.6 318.9 207.6 319.1 32.6 319.1Z" stroke="none" stroke-width="0" fill="rgba(240,140,140,0.26)"/>
<path d="M32.6 318.5 46.6 318.2 56.1 317.7 63.1 317 68.6 316 73.6 314.6 78.1 312.8 82.1 310.7 89.6 306.3 92.1 305 94.6 304.2 97.1 303.9 99.6 304.2 102.6 305.3 113.6 311.5 119.1 314 124.6 315.8 131.1 317 140.1 317.9 153.1 318.4 174.6 318.7 207.6 318.9" stroke="#e3807f" stroke-width="0.9" fill="none"/>
<path d="M32.6 318.9 78.6 318.5 90.6 318.1 99.1 317.6 105.6 316.8 111.6 315.7 117.6 314.1 130.6 310 134.1 309.3 137.1 309.1 140.1 309.3 143.1 309.9 159.6 314.9 164.6 316.1 170.1 317 176.6 317.7 184.1 318.1 207.6 318.7 207.6 319.1 32.6 319.1Z" stroke="none" stroke-width="0" fill="rgba(140,180,225,0.26)"/>
<path d="M32.6 318.9 78.6 318.5 90.6 318.1 99.1 317.6 105.6 316.8 111.6 315.7 117.6 314.1 130.6 310 134.1 309.3 137.1 309.1 140.1 309.3 143.1 309.9 159.6 314.9 164.6 316.1 170.1 317 176.6 317.7 184.1 318.1 207.6 318.7" stroke="#4d8fcf" stroke-width="1" fill="none"/>
<path d="M32.8 318 34.8 317.9 35.1 317.7 36.1 313.5 36.3 314.2 37.1 317.2 37.3 317.8 37.6 317.8 38.3 321.3 38.6 321 39.1 318.5 39.3 317.7 39.8 317.7 40.1 317.5 41.1 313.8 41.3 314.3 42.1 317 42.3 317.5 42.6 317.5 43.3 321 43.6 320.7 44.1 318.1 44.3 317.4 44.8 317.3 45.1 317 46.1 312.9 46.3 313.5 47.1 316.3 47.3 316.8 47.6 316.7 48.3 320.1 48.6 319.7 49.1 317.1 49.3 316.3 49.8 316.2 50.1 315.9 51.1 312.5 51.3 312.9 52.1 315.1 52.3 315.5 54.8 314.8 55.1 314.5 56.1 310.8 56.3 311.3 57.1 313.6 57.3 314.1 59.8 313.5 60.1 313.2 61.1 309.6 61.3 310.1 62.1 312.4 62.3 312.8 64.8 312.2 65.1 311.9 66.1 308.9 66.3 309.2 67.1 311 67.3 311.4 72.6 309.2" stroke="#9c9c9c" stroke-width="0.6" fill="none"/>
<path d="M32.6 318 43.1 317.5 48.1 316.6 66.1 311.8 80.6 306.1 91.6 302.8 98.1 301.3 101.1 300.9 103.6 300.8 107.6 301 112.1 301.6 131.1 305.4 141.6 308 157.6 313 170.6 316.4 177.1 317.1 184.6 317.6 207.6 318.3" stroke="#303030" stroke-width="1.05" fill="none"/>
<line x1="32.6" y1="319.1" x2="207.6" y2="319.1" stroke="#5b9bd5" stroke-width="1.25"/>
<text x="0" y="0" font-size="7.3" text-anchor="end" fill="#000" transform="translate(205.6 315.3) scale(1 1.13)">-1.0 V</text>
<path d="M32.6 339.3 41.1 339.1 46.6 338.8 51.6 338.1 59.6 336.6 63.1 336.3 66.6 336.6 78.1 338.6 87.6 339.2 207.6 339.4 32.6 339.4Z" stroke="none" stroke-width="0" fill="rgba(150,150,150,0.35)"/>
<path d="M32.6 339.3 41.1 339.1 46.6 338.8 51.6 338.1 59.6 336.6 63.1 336.3 66.6 336.6 78.1 338.6 87.6 339.2 207.6 339.4" stroke="#8a8a8a" stroke-width="0.8" fill="none"/>
<path d="M32.6 338.9 46.6 338.6 56.1 338.1 63.1 337.5 68.6 336.5 73.6 335.2 78.1 333.5 82.1 331.5 89.6 327.4 92.1 326.3 94.6 325.5 97.1 325.2 99.6 325.5 102.6 326.5 113.6 332.3 119.1 334.7 124.6 336.3 131.1 337.5 140.1 338.3 153.1 338.7 207.6 339.2 207.6 339.4 32.6 339.4Z" stroke="none" stroke-width="0" fill="rgba(240,140,140,0.26)"/>
<path d="M32.6 338.9 46.6 338.6 56.1 338.1 63.1 337.5 68.6 336.5 73.6 335.2 78.1 333.5 82.1 331.5 89.6 327.4 92.1 326.3 94.6 325.5 97.1 325.2 99.6 325.5 102.6 326.5 113.6 332.3 119.1 334.7 124.6 336.3 131.1 337.5 140.1 338.3 153.1 338.7 207.6 339.2" stroke="#e3807f" stroke-width="0.9" fill="none"/>
<path d="M32.6 339.2 78.6 338.8 90.6 338.5 99.1 337.9 105.6 337.2 111.6 336.1 117.6 334.6 130.6 330.8 134.1 330.1 137.1 329.9 140.1 330.1 143.1 330.6 159.6 335.4 164.6 336.5 170.1 337.4 176.6 338.1 184.1 338.5 207.6 339 207.6 339.4 32.6 339.4Z" stroke="none" stroke-width="0" fill="rgba(140,180,225,0.26)"/>
<path d="M32.6 339.2 78.6 338.8 90.6 338.5 99.1 337.9 105.6 337.2 111.6 336.1 117.6 334.6 130.6 330.8 134.1 330.1 137.1 329.9 140.1 330.1 143.1 330.6 159.6 335.4 164.6 336.5 170.1 337.4 176.6 338.1 184.1 338.5 207.6 339" stroke="#4d8fcf" stroke-width="1" fill="none"/>
<path d="M32.8 338.4 34.8 338.3 35.1 338 36.1 333.2 36.3 333.9 37.1 337.5 37.3 338.2 37.6 338.2 38.3 341.7 38.6 341.4 39.1 338.9 39.3 338.1 39.8 338.1 40.1 337.9 41.1 333.4 41.3 334 42.1 337.3 42.3 337.9 42.6 337.9 43.3 341.4 43.6 341.1 44.1 338.5 44.3 337.8 44.8 337.7 45.1 337.5 46.1 333.9 46.3 334.4 47.1 336.8 47.3 337.3 47.6 337.2 48.3 340.6 48.6 340.3 49.1 337.6 49.3 336.8 49.8 336.7 50.1 336.5 51.1 332.4 51.3 332.9 52.1 335.6 52.3 336.1 54.8 335.4 55.1 335.2 56.1 331.7 56.3 332.1 57.1 334.4 57.3 334.8 59.8 334.2 60.1 334 61.1 330.6 61.3 331.1 62.1 333.2 62.3 333.6 64.8 333 65.1 332.8 66.1 329.8 66.3 330.1 67.1 332 67.3 332.3 72.6 330.3" stroke="#9c9c9c" stroke-width="0.6" fill="none"/>
<path d="M32.6 338.4 43.1 337.9 48.1 337.1 66.1 332.7 80.6 327.5 91.6 324.4 98.1 323 103.6 322.6 107.6 322.8 112.1 323.4 131.1 326.8 142.6 329.3 157.1 333.7 169.6 336.7 176.1 337.5 183.6 338 207.6 338.6" stroke="#303030" stroke-width="1.05" fill="none"/>
<line x1="32.6" y1="339.4" x2="207.6" y2="339.4" stroke="#5b9bd5" stroke-width="1.25"/>
<text x="0" y="0" font-size="7.3" text-anchor="end" fill="#000" transform="translate(205.6 335.3) scale(1 1.13)">-0.9 V</text>
<path d="M32.6 358.1 41.1 357.9 46.6 357.6 51.6 357 59.6 355.5 63.1 355.2 66.6 355.5 78.1 357.5 87.6 358 207.6 358.2 32.6 358.2Z" stroke="none" stroke-width="0" fill="rgba(150,150,150,0.35)"/>
<path d="M32.6 358.1 41.1 357.9 46.6 357.6 51.6 357 59.6 355.5 63.1 355.2 66.6 355.5 78.1 357.5 87.6 358 207.6 358.2" stroke="#8a8a8a" stroke-width="0.8" fill="none"/>
<path d="M32.6 357.7 46.1 357.4 55.6 357 62.6 356.4 68.1 355.5 73.1 354.2 77.6 352.6 91.6 345.7 94.1 345 96.6 344.7 99.1 345 102.1 345.9 113.1 351.4 118.6 353.7 124.1 355.3 130.6 356.4 139.6 357.1 153.1 357.6 207.6 358 207.6 358.2 32.6 358.2Z" stroke="none" stroke-width="0" fill="rgba(240,140,140,0.26)"/>
<path d="M32.6 357.7 46.1 357.4 55.6 357 62.6 356.4 68.1 355.5 73.1 354.2 77.6 352.6 91.6 345.7 94.1 345 96.6 344.7 99.1 345 102.1 345.9 113.1 351.4 118.6 353.7 124.1 355.3 130.6 356.4 139.6 357.1 153.1 357.6 207.6 358" stroke="#e3807f" stroke-width="0.9" fill="none"/>
<path d="M32.6 358 78.6 357.7 90.6 357.3 99.1 356.8 105.6 356.2 111.6 355.2 117.6 353.8 130.6 350.2 134.1 349.6 137.1 349.4 140.1 349.6 143.1 350.1 159.6 354.5 164.6 355.5 170.1 356.3 176.6 357 184.1 357.4 207.6 357.8 207.6 358.2 32.6 358.2Z" stroke="none" stroke-width="0" fill="rgba(140,180,225,0.26)"/>
<path d="M32.6 358 78.6 357.7 90.6 357.3 99.1 356.8 105.6 356.2 111.6 355.2 117.6 353.8 130.6 350.2 134.1 349.6 137.1 349.4 140.1 349.6 143.1 350.1 159.6 354.5 164.6 355.5 170.1 356.3 176.6 357 184.1 357.4 207.6 357.8" stroke="#4d8fcf" stroke-width="1" fill="none"/>
<path d="M32.8 357.2 34.8 357.1 35.1 356.9 36.1 352 36.3 352.8 37.1 356.3 37.3 357 37.6 357 38.3 360.5 38.6 360.2 39.1 357.7 39.3 357 39.8 356.9 40.1 356.7 41.1 352.5 41.3 353.1 42.1 356.2 42.3 356.8 42.6 356.8 43.3 360.2 43.6 359.9 44.1 357.4 44.3 356.6 44.8 356.6 45.1 356.4 46.1 352.6 46.3 353.1 47.1 355.7 47.3 356.2 47.6 356.1 48.3 359.5 48.6 359.2 49.1 356.5 49.3 355.7 49.8 355.6 50.1 355.4 51.1 351.3 51.3 351.8 52.1 354.5 52.3 355 54.8 354.4 55.1 354.1 56.1 350.1 56.3 350.6 57.1 353.3 57.3 353.8 59.8 353.2 60.1 353 61.1 349.8 61.3 350.2 62.1 352.3 62.3 352.7 64.8 352.1 65.1 351.9 66.1 348.9 66.3 349.2 67.1 351.1 67.3 351.4 72.6 349.5" stroke="#9c9c9c" stroke-width="0.6" fill="none"/>
<path d="M32.6 357.2 42.6 356.8 45.6 356.5 48.1 356 66.1 351.7 80.6 346.8 91.6 343.9 98.1 342.5 103.6 342.1 107.6 342.3 112.1 342.8 131.1 346.1 141.6 348.4 158.1 353 170.6 355.8 177.1 356.5 184.6 356.9 207.6 357.4" stroke="#303030" stroke-width="1.05" fill="none"/>
<line x1="32.6" y1="358.2" x2="207.6" y2="358.2" stroke="#5b9bd5" stroke-width="1.25"/>
<text x="0" y="0" font-size="7.3" text-anchor="end" fill="#000" transform="translate(205.6 354.6) scale(1 1.13)">-0.8 V</text>
<path d="M32.6 377.4 41.1 377.2 46.6 376.9 51.6 376.3 59.6 374.9 63.1 374.6 66.6 374.9 78.1 376.8 87.6 377.3 207.6 377.5 32.6 377.5Z" stroke="none" stroke-width="0" fill="rgba(150,150,150,0.35)"/>
<path d="M32.6 377.4 41.1 377.2 46.6 376.9 51.6 376.3 59.6 374.9 63.1 374.6 66.6 374.9 78.1 376.8 87.6 377.3 207.6 377.5" stroke="#8a8a8a" stroke-width="0.8" fill="none"/>
<path d="M32.6 377 46.1 376.7 55.1 376.3 62.1 375.6 67.6 374.7 72.6 373.4 77.1 371.7 91.1 364.7 93.6 364 96.1 363.7 98.6 364 101.6 364.9 112.6 370.6 118.6 373.1 124.1 374.6 130.6 375.7 139.6 376.4 153.1 376.9 207.6 377.3 207.6 377.5 32.6 377.5Z" stroke="none" stroke-width="0" fill="rgba(240,140,140,0.26)"/>
<path d="M32.6 377 46.1 376.7 55.1 376.3 62.1 375.6 67.6 374.7 72.6 373.4 77.1 371.7 91.1 364.7 93.6 364 96.1 363.7 98.6 364 101.6 364.9 112.6 370.6 118.6 373.1 124.1 374.6 130.6 375.7 139.6 376.4 153.1 376.9 207.6 377.3" stroke="#e3807f" stroke-width="0.9" fill="none"/>
<path d="M32.6 377.3 78.1 377 90.1 376.7 98.6 376.3 105.1 375.6 111.1 374.7 117.1 373.5 129.6 370.4 133.1 369.8 136.1 369.6 139.1 369.7 142.1 370.2 158.6 374.2 164.1 375.2 169.6 375.9 176.1 376.4 183.6 376.8 207.6 377.2 207.6 377.5 32.6 377.5Z" stroke="none" stroke-width="0" fill="rgba(140,180,225,0.26)"/>
<path d="M32.6 377.3 78.1 377 90.1 376.7 98.6 376.3 105.1 375.6 111.1 374.7 117.1 373.5 129.6 370.4 133.1 369.8 136.1 369.6 139.1 369.7 142.1 370.2 158.6 374.2 164.1 375.2 169.6 375.9 176.1 376.4 183.6 376.8 207.6 377.2" stroke="#4d8fcf" stroke-width="1" fill="none"/>
<path d="M32.8 376.5 34.8 376.4 35.1 376.2 36.1 371.8 36.3 372.4 37.1 375.7 37.3 376.3 37.6 376.3 38.3 379.8 38.6 379.5 39.1 377 39.3 376.3 39.8 376.2 40.1 376 41.1 371.1 41.3 371.8 42.1 375.4 42.3 376.1 42.6 376.1 43.3 379.5 43.6 379.2 44.1 376.7 44.3 375.9 44.8 375.9 45.1 375.6 46.1 370.9 46.3 371.6 47.1 374.9 47.3 375.6 47.6 375.5 48.3 378.9 48.6 378.6 49.1 376 49.3 375.2 49.8 375.1 50.1 374.8 51.1 370.7 51.3 371.2 52.1 374 52.3 374.5 54.8 373.9 55.1 373.7 56.1 369.5 56.3 370.1 57.1 372.8 57.3 373.4 59.8 372.7 60.1 372.5 61.1 368.7 61.3 369.2 62.1 371.7 62.3 372.2 64.6 371.8 64.8 371.8 65.1 371.6 66.1 368.5 66.3 368.8 67.1 370.8 67.3 371.1 72.6 369.4" stroke="#9c9c9c" stroke-width="0.6" fill="none"/>
<path d="M32.6 376.5 41.6 376.1 47.6 375.5 60.6 372.6 64.1 371.9 67.6 371 80.6 366.8 88.6 364.8 93.1 362.9 96.6 362.3 99.6 362.6 104.1 362.4 109.1 362.7 127.6 365.5 141.1 368.2 158.1 372.6 171.6 375.5 185.1 376.3 207.6 376.8" stroke="#303030" stroke-width="1.05" fill="none"/>
<line x1="32.6" y1="377.5" x2="207.6" y2="377.5" stroke="#5b9bd5" stroke-width="1.25"/>
<text x="0" y="0" font-size="7.3" text-anchor="end" fill="#000" transform="translate(205.6 374.4) scale(1 1.13)">-0.7 V</text>
<path d="M32.6 395.2 41.1 395.1 46.6 394.8 51.6 394.2 59.6 392.9 63.1 392.7 66.6 392.9 78.1 394.7 87.6 395.1 207.6 395.3 32.6 395.3Z" stroke="none" stroke-width="0" fill="rgba(150,150,150,0.35)"/>
<path d="M32.6 395.2 41.1 395.1 46.6 394.8 51.6 394.2 59.6 392.9 63.1 392.7 66.6 392.9 78.1 394.7 87.6 395.1 207.6 395.3" stroke="#8a8a8a" stroke-width="0.8" fill="none"/>
<path d="M32.6 394.9 55.1 394.3 62.1 393.8 67.6 393.1 72.6 392.1 77.1 390.8 91.1 385.3 93.6 384.7 96.1 384.5 98.6 384.7 101.6 385.5 112.6 389.9 118.6 391.8 124.1 393 130.6 393.9 139.6 394.5 153.1 394.8 207.6 395.2 207.6 395.3 32.6 395.3Z" stroke="none" stroke-width="0" fill="rgba(240,140,140,0.26)"/>
<path d="M32.6 394.9 55.1 394.3 62.1 393.8 67.6 393.1 72.6 392.1 77.1 390.8 91.1 385.3 93.6 384.7 96.1 384.5 98.6 384.7 101.6 385.5 112.6 389.9 118.6 391.8 124.1 393 130.6 393.9 139.6 394.5 153.1 394.8 207.6 395.2" stroke="#e3807f" stroke-width="0.9" fill="none"/>
<path d="M32.6 395.2 78.1 394.9 98.1 394.3 104.1 393.8 110.1 393.1 116.1 392.1 129.1 389.5 132.6 389 135.6 388.9 141.6 389.4 158.1 392.6 169.1 394 183.1 394.7 207.6 395 207.6 395.3 32.6 395.3Z" stroke="none" stroke-width="0" fill="rgba(140,180,225,0.26)"/>
<path d="M32.6 395.2 78.1 394.9 98.1 394.3 104.1 393.8 110.1 393.1 116.1 392.1 129.1 389.5 132.6 389 135.6 388.9 141.6 389.4 158.1 392.6 169.1 394 183.1 394.7 207.6 395" stroke="#4d8fcf" stroke-width="1" fill="none"/>
<path d="M32.8 394.4 34.8 394.4 35.1 394.2 36.1 390.2 36.3 390.8 37.1 393.7 37.3 394.3 37.6 394.3 38.3 397.8 38.6 397.5 39.1 395 39.3 394.3 39.8 394.2 40.1 394 41.1 389.5 41.3 390.1 42.1 393.4 42.3 394.1 42.6 394.1 43.3 397.5 43.6 397.3 44.1 394.7 44.3 394 44.8 393.9 45.1 393.7 46.1 389.5 46.3 390.1 47.1 393.1 47.3 393.7 47.6 393.6 48.3 397 48.6 396.8 49.1 394.2 49.3 393.4 49.8 393.3 50.1 393.1 51.1 389.3 51.3 389.8 52.1 392.4 52.3 392.9 54.8 392.4 55.1 392.1 56.1 388.7 56.3 389.1 57.1 391.4 57.3 391.8 59.8 391.2 60.1 391 61.1 387.7 61.3 388.1 62.1 390.3 62.3 390.8 64.8 390.5 65.1 390.4 66.1 387.4 66.3 387.8 67.1 390 67.3 390.4 72.6 389" stroke="#9c9c9c" stroke-width="0.6" fill="none"/>
<path d="M32.6 394.5 41.1 394.2 47.1 393.7 52.1 392.9 61.6 390.9 67.1 390.4 79.6 387.3 87.1 385.8 90.6 384.5 93.1 383.7 96.6 383.3 101.1 383.8 105.6 383.7 110.6 384.1 128.6 386.2 141.6 388.3 157.6 391.5 170.6 393.6 184.6 394.3 207.6 394.7" stroke="#303030" stroke-width="1.05" fill="none"/>
<line x1="32.6" y1="395.3" x2="207.6" y2="395.3" stroke="#5b9bd5" stroke-width="1.25"/>
<text x="0" y="0" font-size="7.3" text-anchor="end" fill="#000" transform="translate(205.6 393) scale(1 1.13)">-0.6 V</text>
<rect x="32.6" y="260.5" width="175" height="140.8" fill="none" stroke="#444" stroke-width="0.8"/>
<line x1="32.6" y1="401.3" x2="32.6" y2="404.1" stroke="#444" stroke-width="0.7"/>
<text x="0" y="0" font-size="7.9" text-anchor="middle" fill="#000" transform="translate(32.6 411.6) scale(1 1.13)">3700</text>
<line x1="45.1" y1="401.3" x2="45.1" y2="403.1" stroke="#444" stroke-width="0.7"/>
<line x1="57.6" y1="401.3" x2="57.6" y2="404.1" stroke="#444" stroke-width="0.7"/>
<text x="0" y="0" font-size="7.9" text-anchor="middle" fill="#000" transform="translate(57.6 411.6) scale(1 1.13)">3600</text>
<line x1="70.1" y1="401.3" x2="70.1" y2="403.1" stroke="#444" stroke-width="0.7"/>
<line x1="82.6" y1="401.3" x2="82.6" y2="404.1" stroke="#444" stroke-width="0.7"/>
<text x="0" y="0" font-size="7.9" text-anchor="middle" fill="#000" transform="translate(82.6 411.6) scale(1 1.13)">3500</text>
<line x1="95.1" y1="401.3" x2="95.1" y2="403.1" stroke="#444" stroke-width="0.7"/>
<line x1="107.6" y1="401.3" x2="107.6" y2="404.1" stroke="#444" stroke-width="0.7"/>
<text x="0" y="0" font-size="7.9" text-anchor="middle" fill="#000" transform="translate(107.6 411.6) scale(1 1.13)">3400</text>
<line x1="120.1" y1="401.3" x2="120.1" y2="403.1" stroke="#444" stroke-width="0.7"/>
<line x1="132.6" y1="401.3" x2="132.6" y2="404.1" stroke="#444" stroke-width="0.7"/>
<text x="0" y="0" font-size="7.9" text-anchor="middle" fill="#000" transform="translate(132.6 411.6) scale(1 1.13)">3300</text>
<line x1="145.1" y1="401.3" x2="145.1" y2="403.1" stroke="#444" stroke-width="0.7"/>
<line x1="157.6" y1="401.3" x2="157.6" y2="404.1" stroke="#444" stroke-width="0.7"/>
<text x="0" y="0" font-size="7.9" text-anchor="middle" fill="#000" transform="translate(157.6 411.6) scale(1 1.13)">3200</text>
<line x1="170.1" y1="401.3" x2="170.1" y2="403.1" stroke="#444" stroke-width="0.7"/>
<line x1="182.6" y1="401.3" x2="182.6" y2="404.1" stroke="#444" stroke-width="0.7"/>
<text x="0" y="0" font-size="7.9" text-anchor="middle" fill="#000" transform="translate(182.6 411.6) scale(1 1.13)">3100</text>
<line x1="195.1" y1="401.3" x2="195.1" y2="403.1" stroke="#444" stroke-width="0.7"/>
<line x1="207.6" y1="401.3" x2="207.6" y2="404.1" stroke="#444" stroke-width="0.7"/>
<text x="0" y="0" font-size="7.9" text-anchor="middle" fill="#000" transform="translate(207.6 411.6) scale(1 1.13)">3000</text>
<text x="0" y="0" font-size="8.8" text-anchor="middle" fill="#000" transform="translate(120.5 425.8) scale(1 1.13)">Wavenumber (cm<tspan font-size="6.16" dy="-3.52">-1</tspan><tspan dy="3.52">)</tspan></text>
<text x="0" y="0" font-size="8" text-anchor="middle" fill="#000" transform="translate(27.2 330.8) scale(1 1.05) rotate(-90)">Intensity (a.u.)</text>
<rect x="33.6" y="263.4" width="14.6" height="6.3" fill="#dcdcdc" stroke="#777" stroke-width="0.8"/>
<text x="0" y="0" font-size="6.6" text-anchor="start" fill="#000" transform="translate(50.4 269.1) scale(1 1.13)">free H<tspan font-size="4.62" dy="1.65">2</tspan><tspan dy="-1.65">O</tspan></text>
<rect x="78" y="263.4" width="14.6" height="6.3" fill="#fbe1e1" stroke="#e58a8a" stroke-width="0.8"/>
<text x="0" y="0" font-size="6.6" text-anchor="start" fill="#000" transform="translate(94.6 269.1) scale(1 1.13)">2-HB H<tspan font-size="4.62" dy="1.65">2</tspan><tspan dy="-1.65">O</tspan></text>
<rect x="126" y="263.4" width="14.6" height="6.3" fill="#e2edf8" stroke="#6aa0d8" stroke-width="0.8"/>
<text x="0" y="0" font-size="6.6" text-anchor="start" fill="#000" transform="translate(142.6 269.1) scale(1 1.13)">4-HB H<tspan font-size="4.62" dy="1.65">2</tspan><tspan dy="-1.65">O</tspan></text>
<text x="0" y="0" font-size="6.6" text-anchor="start" fill="#000" transform="translate(34 277.7) scale(1 1.13)">DirectionalMeso</text>
<path d="M260.6 299.8 274.6 299.5 287.6 298.1 291.1 297.9 294.6 298.1 306.1 299.4 315.6 299.8 435.6 299.9 260.6 299.9Z" stroke="none" stroke-width="0" fill="rgba(150,150,150,0.35)"/>
<path d="M260.6 299.8 274.6 299.5 287.6 298.1 291.1 297.9 294.6 298.1 306.1 299.4 315.6 299.8 435.6 299.9" stroke="#8a8a8a" stroke-width="0.8" fill="none"/>
<path d="M260.6 299 273.6 298.6 282.6 298 289.6 297 295.6 295.6 300.6 293.8 305.6 291.2 309.1 288.9 317.6 282.5 320.6 280.5 323.6 279.3 326.1 278.9 327.6 279 329.1 279.4 332.1 280.8 335.1 282.8 343.6 289.2 349.6 292.8 352.6 294.2 355.6 295.3 362.1 297 371.1 298.1 384.1 298.8 404.6 299.3 435.6 299.6 435.6 299.9 260.6 299.9Z" stroke="none" stroke-width="0" fill="rgba(240,140,140,0.26)"/>
<path d="M260.6 299 273.6 298.6 282.6 298 289.6 297 295.6 295.6 300.6 293.8 305.6 291.2 309.1 288.9 317.6 282.5 320.6 280.5 323.6 279.3 326.1 278.9 327.6 279 329.1 279.4 332.1 280.8 335.1 282.8 343.6 289.2 349.6 292.8 352.6 294.2 355.6 295.3 362.1 297 371.1 298.1 384.1 298.8 404.6 299.3 435.6 299.6" stroke="#e3807f" stroke-width="0.9" fill="none"/>
<path d="M260.6 299.5 287.6 299.3 306.1 298.9 318.1 298.3 327.1 297.3 333.6 296.1 339.6 294.5 346.1 292 356.6 287 360.1 285.5 363.6 284.5 367.1 284.1 370.1 284.4 373.6 285.3 377.1 286.8 385.6 290.9 390.6 293 395.6 294.8 401.1 296.3 407.6 297.4 414.6 298.2 423.6 298.7 435.6 299.1 435.6 299.9 260.6 299.9Z" stroke="none" stroke-width="0" fill="rgba(140,180,225,0.26)"/>
<path d="M260.6 299.5 287.6 299.3 306.1 298.9 318.1 298.3 327.1 297.3 333.6 296.1 339.6 294.5 346.1 292 356.6 287 360.1 285.5 363.6 284.5 367.1 284.1 370.1 284.4 373.6 285.3 377.1 286.8 385.6 290.9 390.6 293 395.6 294.8 401.1 296.3 407.6 297.4 414.6 298.2 423.6 298.7 435.6 299.1" stroke="#4d8fcf" stroke-width="1" fill="none"/>
<path d="M260.8 298.4 262.8 298.3 263.1 298.2 264.1 295 264.3 295.5 265.1 297.8 265.3 298.2 265.6 298.2 266.3 300.3 266.6 300.1 267.1 298.6 267.3 298.1 267.8 298.1 268.1 297.9 269.1 295.3 269.3 295.6 270.1 297.5 270.3 297.9 270.6 297.9 271.3 299.9 271.6 299.7 272.1 298.2 272.3 297.7 272.8 297.7 273.1 297.5 274.1 294.7 274.3 295 275.1 297 275.3 297.4 275.6 297.4 276.3 299.3 276.6 299.2 277.1 297.6 277.3 297.1 277.8 297 278.1 296.9 279.1 294.2 279.3 294.5 280.1 296.1 280.3 296.4 282.8 295.6 283.1 295.5 284.1 292.9 284.3 293.2 285.1 294.6 285.3 294.8 287.6 293.9 288.1 293.5 289.1 291.3 289.3 291.4 290.1 292.4 290.3 292.5 292.8 291.2 293.1 290.9 294.1 288.3 294.3 288.5 295.1 289.6 295.3 289.7 300.6 286.6" stroke="#9c9c9c" stroke-width="0.6" fill="none"/>
<path d="M260.6 298.4 269.6 297.9 275.6 297.3 278.6 296.8 284.1 295.2 287.1 294.1 290.6 292.4 303.6 284.8 309.1 282.1 320.6 277.3 325.1 275.6 330.1 274.3 334.6 273.9 340.1 274.3 346.6 275.5 362.6 280 367.6 281.7 371.1 282.6 375.6 284.4 385.1 289.3 397.6 294.4 400.6 295.3 407.1 296.6 414.1 297.4 423.1 298.1 435.6 298.6" stroke="#303030" stroke-width="1.05" fill="none"/>
<line x1="260.6" y1="299.9" x2="435.6" y2="299.9" stroke="#5b9bd5" stroke-width="1.25"/>
<text x="0" y="0" font-size="7.3" text-anchor="end" fill="#000" transform="translate(433.6 296) scale(1 1.13)">-1.1 V</text>
<path d="M260.6 326.3 274.6 326 287.6 324.6 291.1 324.4 294.6 324.6 306.1 325.9 315.6 326.3 435.6 326.4 260.6 326.4Z" stroke="none" stroke-width="0" fill="rgba(150,150,150,0.35)"/>
<path d="M260.6 326.3 274.6 326 287.6 324.6 291.1 324.4 294.6 324.6 306.1 325.9 315.6 326.3 435.6 326.4" stroke="#8a8a8a" stroke-width="0.8" fill="none"/>
<path d="M260.6 325.6 273.6 325.2 282.6 324.6 289.6 323.7 295.6 322.4 300.6 320.7 305.6 318.2 309.1 316.1 317.6 310.1 320.6 308.2 323.6 307 326.1 306.7 329.1 307.2 332.1 308.5 335.1 310.4 343.6 316.4 349.6 319.8 355.6 322.1 362.1 323.6 371.1 324.7 384.1 325.4 404.6 325.8 435.6 326.1 435.6 326.4 260.6 326.4Z" stroke="none" stroke-width="0" fill="rgba(240,140,140,0.26)"/>
<path d="M260.6 325.6 273.6 325.2 282.6 324.6 289.6 323.7 295.6 322.4 300.6 320.7 305.6 318.2 309.1 316.1 317.6 310.1 320.6 308.2 323.6 307 326.1 306.7 329.1 307.2 332.1 308.5 335.1 310.4 343.6 316.4 349.6 319.8 355.6 322.1 362.1 323.6 371.1 324.7 384.1 325.4 404.6 325.8 435.6 326.1" stroke="#e3807f" stroke-width="0.9" fill="none"/>
<path d="M260.6 326.1 306.1 325.5 318.1 325 327.1 324.2 333.6 323.1 339.6 321.7 346.1 319.5 360.1 313.9 363.6 313 367.1 312.7 370.1 312.9 373.6 313.8 377.1 315 385.6 318.6 390.6 320.4 395.6 322 401.1 323.2 407.6 324.2 414.6 324.9 423.6 325.4 435.6 325.7 435.6 326.4 260.6 326.4Z" stroke="none" stroke-width="0" fill="rgba(140,180,225,0.26)"/>
<path d="M260.6 326.1 306.1 325.5 318.1 325 327.1 324.2 333.6 323.1 339.6 321.7 346.1 319.5 360.1 313.9 363.6 313 367.1 312.7 370.1 312.9 373.6 313.8 377.1 315 385.6 318.6 390.6 320.4 395.6 322 401.1 323.2 407.6 324.2 414.6 324.9 423.6 325.4 435.6 325.7" stroke="#4d8fcf" stroke-width="1" fill="none"/>
<path d="M260.8 325 262.8 324.9 263.1 324.8 264.1 322.4 264.3 322.8 265.1 324.5 265.3 324.8 265.6 324.8 266.3 326.9 266.6 326.7 267.1 325.2 267.3 324.7 267.8 324.7 268.1 324.6 269.1 322.1 269.3 322.5 270.1 324.2 270.3 324.5 270.6 324.5 271.3 326.5 271.6 326.4 272.1 324.8 272.3 324.4 272.8 324.3 273.1 324.2 274.1 321.7 274.3 322 275.1 323.7 275.3 324 275.6 324 276.3 326 276.6 325.8 277.1 324.2 277.3 323.8 277.8 323.7 278.1 323.5 279.1 320.9 279.3 321.2 280.1 322.8 280.3 323.1 282.8 322.5 283.1 322.3 284.1 320.1 284.3 320.3 285.1 321.5 285.3 321.7 287.8 320.7 288.1 320.5 289.1 317.9 289.3 318.1 290.1 319.4 290.3 319.6 292.8 318.3 293.1 318.1 294.1 315.5 294.3 315.7 295.1 316.8 295.3 317 300.6 314.1" stroke="#9c9c9c" stroke-width="0.6" fill="none"/>
<path d="M260.6 325 269.1 324.6 275.1 324.1 279.1 323.4 284.1 322.1 287.1 321 290.6 319.4 303.6 312.4 309.1 309.9 320.6 305.4 325.1 303.9 330.1 302.7 334.6 302.3 339.6 302.6 345.6 303.6 351.6 305 364.1 308.4 370.1 310.5 384.6 316.4 400.1 322.2 406.6 323.4 414.1 324.2 423.1 324.8 435.6 325.2" stroke="#303030" stroke-width="1.05" fill="none"/>
<line x1="260.6" y1="326.4" x2="435.6" y2="326.4" stroke="#5b9bd5" stroke-width="1.25"/>
<text x="0" y="0" font-size="7.3" text-anchor="end" fill="#000" transform="translate(433.6 322.5) scale(1 1.13)">-1.0 V</text>
<path d="M260.6 348 274.6 347.7 287.6 346.5 291.1 346.3 294.6 346.5 306.1 347.7 315.6 348 435.6 348.1 260.6 348.1Z" stroke="none" stroke-width="0" fill="rgba(150,150,150,0.35)"/>
<path d="M260.6 348 274.6 347.7 287.6 346.5 291.1 346.3 294.6 346.5 306.1 347.7 315.6 348 435.6 348.1" stroke="#8a8a8a" stroke-width="0.8" fill="none"/>
<path d="M260.6 347.4 273.6 347.1 282.6 346.6 289.6 345.9 295.6 344.8 300.6 343.4 305.1 341.6 308.6 339.9 317.1 335.2 320.1 333.7 323.1 332.8 325.6 332.5 328.6 332.9 331.6 333.9 343.1 340.2 349.1 342.8 355.1 344.7 361.6 345.9 370.6 346.8 383.6 347.3 404.6 347.7 435.6 347.9 435.6 348.1 260.6 348.1Z" stroke="none" stroke-width="0" fill="rgba(240,140,140,0.26)"/>
<path d="M260.6 347.4 273.6 347.1 282.6 346.6 289.6 345.9 295.6 344.8 300.6 343.4 305.1 341.6 308.6 339.9 317.1 335.2 320.1 333.7 323.1 332.8 325.6 332.5 328.6 332.9 331.6 333.9 343.1 340.2 349.1 342.8 355.1 344.7 361.6 345.9 370.6 346.8 383.6 347.3 404.6 347.7 435.6 347.9" stroke="#e3807f" stroke-width="0.9" fill="none"/>
<path d="M260.6 347.9 305.6 347.4 317.6 347 326.6 346.3 333.1 345.5 339.1 344.4 345.6 342.6 359.6 338.2 363.1 337.5 366.6 337.2 369.6 337.4 373.1 338.1 390.1 343.4 395.6 344.7 401.1 345.7 407.6 346.4 414.6 346.9 435.6 347.5 435.6 348.1 260.6 348.1Z" stroke="none" stroke-width="0" fill="rgba(140,180,225,0.26)"/>
<path d="M260.6 347.9 305.6 347.4 317.6 347 326.6 346.3 333.1 345.5 339.1 344.4 345.6 342.6 359.6 338.2 363.1 337.5 366.6 337.2 369.6 337.4 373.1 338.1 390.1 343.4 395.6 344.7 401.1 345.7 407.6 346.4 414.6 346.9 435.6 347.5" stroke="#4d8fcf" stroke-width="1" fill="none"/>
<path d="M260.8 346.9 262.8 346.9 263.1 346.7 264.1 344.2 264.3 344.6 265.1 346.4 265.3 346.8 265.6 346.8 266.3 348.8 266.6 348.7 267.1 347.2 267.3 346.7 267.8 346.7 268.1 346.5 269.1 343.8 269.3 344.2 270.1 346.2 270.3 346.5 270.6 346.5 271.3 348.6 271.6 348.4 272.1 346.9 272.3 346.4 272.8 346.4 273.1 346.2 274.1 344.1 274.3 344.4 275.1 345.8 275.3 346.1 275.6 346.1 276.3 348.1 276.6 347.9 277.1 346.4 277.3 345.9 277.8 345.8 278.1 345.6 279.1 343.3 279.3 343.5 280.1 345 280.3 345.3 282.8 344.7 283.1 344.5 284.1 342.5 284.3 342.7 285.1 343.8 285.3 344 287.8 343.2 288.1 343 289.1 340.4 289.3 340.7 290.1 342 290.3 342.3 292.8 341.2 293.1 341 294.1 338.8 294.3 339 295.1 340 295.3 340.1 300.6 337.7" stroke="#9c9c9c" stroke-width="0.6" fill="none"/>
<path d="M260.6 346.9 269.6 346.6 275.6 346.1 278.1 345.7 284.1 344.3 287.6 343.3 291.6 341.7 307.6 334.5 319.6 330.2 323.1 329.2 326.6 328.4 330.1 328 333.6 327.8 338.6 328.1 344.6 328.9 351.6 330.4 363.1 333.3 369.1 335 384.6 340.1 400.1 344.8 406.6 345.7 414.1 346.3 435.6 347.1" stroke="#303030" stroke-width="1.05" fill="none"/>
<line x1="260.6" y1="348.1" x2="435.6" y2="348.1" stroke="#5b9bd5" stroke-width="1.25"/>
<text x="0" y="0" font-size="7.3" text-anchor="end" fill="#000" transform="translate(433.6 344.7) scale(1 1.13)">-0.9 V</text>
<path d="M260.6 367 274.6 366.8 287.6 365.6 291.1 365.5 294.6 365.6 306.1 366.7 315.6 367 435.6 367.1 260.6 367.1Z" stroke="none" stroke-width="0" fill="rgba(150,150,150,0.35)"/>
<path d="M260.6 367 274.6 366.8 287.6 365.6 291.1 365.5 294.6 365.6 306.1 366.7 315.6 367 435.6 367.1" stroke="#8a8a8a" stroke-width="0.8" fill="none"/>
<path d="M260.6 366.4 272.1 366.1 280.6 365.7 287.1 365 293.1 364 298.1 362.7 302.6 361.1 317.6 354.3 320.6 353.4 323.6 353.1 326.6 353.4 330.1 354.5 342.1 360.1 348.1 362.4 354.1 364 360.6 365.1 369.6 365.9 382.6 366.3 435.6 366.9 435.6 367.1 260.6 367.1Z" stroke="none" stroke-width="0" fill="rgba(240,140,140,0.26)"/>
<path d="M260.6 366.4 272.1 366.1 280.6 365.7 287.1 365 293.1 364 298.1 362.7 302.6 361.1 317.6 354.3 320.6 353.4 323.6 353.1 326.6 353.4 330.1 354.5 342.1 360.1 348.1 362.4 354.1 364 360.6 365.1 369.6 365.9 382.6 366.3 435.6 366.9" stroke="#e3807f" stroke-width="0.9" fill="none"/>
<path d="M260.6 366.9 305.6 366.5 317.1 366.2 326.1 365.7 332.6 365 338.6 364.1 345.1 362.7 359.1 359.1 362.6 358.5 366.1 358.3 369.1 358.5 372.6 359 389.6 363.3 395.1 364.3 400.6 365.1 407.1 365.8 414.1 366.2 435.6 366.7 435.6 367.1 260.6 367.1Z" stroke="none" stroke-width="0" fill="rgba(140,180,225,0.26)"/>
<path d="M260.6 366.9 305.6 366.5 317.1 366.2 326.1 365.7 332.6 365 338.6 364.1 345.1 362.7 359.1 359.1 362.6 358.5 366.1 358.3 369.1 358.5 372.6 359 389.6 363.3 395.1 364.3 400.6 365.1 407.1 365.8 414.1 366.2 435.6 366.7" stroke="#4d8fcf" stroke-width="1" fill="none"/>
<path d="M260.8 366 262.8 365.9 263.1 365.7 264.1 362.6 264.3 363.1 265.1 365.4 265.3 365.8 265.6 365.8 266.3 367.9 266.6 367.7 267.1 366.2 267.3 365.7 267.8 365.7 268.1 365.6 269.1 362.7 269.3 363.1 270.1 365.2 270.3 365.6 270.6 365.6 271.3 367.6 271.6 367.4 272.1 365.9 272.3 365.4 272.8 365.4 273.1 365.2 274.1 362.5 274.3 362.8 275.1 364.8 275.3 365.2 275.6 365.1 276.3 367.1 276.6 367 277.1 365.4 277.3 364.9 277.8 364.8 278.1 364.7 279.1 362.5 279.3 362.8 280.1 364.2 280.3 364.5 281.1 364.3 282.8 364 283.1 363.8 284.1 361.8 284.3 362 285.1 363.2 285.3 363.5 287.8 362.9 288.1 362.7 289.1 360.5 289.3 360.8 290.1 362 290.3 362.2 292.8 361.4 293.1 361.2 294.1 359.3 294.3 359.4 295.1 360.4 295.3 360.5 300.6 358.6" stroke="#9c9c9c" stroke-width="0.6" fill="none"/>
<path d="M260.6 366 268.6 365.7 274.6 365.2 279.6 364.6 284.6 363.6 289.1 362.6 292.1 361.6 308.6 355.5 319.6 351.8 324.1 350.9 331.1 350.5 335.6 350.7 339.6 351 351.1 353 367.1 356.7 372.1 357.6 384.6 361.1 394.1 363.4 398.1 364.1 404.6 364.9 412.6 365.5 435.6 366.2" stroke="#303030" stroke-width="1.05" fill="none"/>
<line x1="260.6" y1="367.1" x2="435.6" y2="367.1" stroke="#5b9bd5" stroke-width="1.25"/>
<text x="0" y="0" font-size="7.3" text-anchor="end" fill="#000" transform="translate(433.6 363.5) scale(1 1.13)">-0.8 V</text>
<path d="M260.6 382 274.6 381.8 291.1 380.6 294.6 380.7 306.1 381.7 315.6 382 435.6 382.1 260.6 382.1Z" stroke="none" stroke-width="0" fill="rgba(150,150,150,0.35)"/>
<path d="M260.6 382 274.6 381.8 291.1 380.6 294.6 380.7 306.1 381.7 315.6 382 435.6 382.1" stroke="#8a8a8a" stroke-width="0.8" fill="none"/>
<path d="M260.6 381.4 278.1 380.6 284.6 379.9 290.1 379 295.1 377.9 299.6 376.5 315.6 370.4 319.1 369.6 322.1 369.4 325.1 369.7 328.6 370.6 341.6 375.7 348.1 377.8 354.1 379.1 361.1 380.2 370.6 380.9 383.6 381.4 435.6 381.9 435.6 382.1 260.6 382.1Z" stroke="none" stroke-width="0" fill="rgba(240,140,140,0.26)"/>
<path d="M260.6 381.4 278.1 380.6 284.6 379.9 290.1 379 295.1 377.9 299.6 376.5 315.6 370.4 319.1 369.6 322.1 369.4 325.1 369.7 328.6 370.6 341.6 375.7 348.1 377.8 354.1 379.1 361.1 380.2 370.6 380.9 383.6 381.4 435.6 381.9" stroke="#e3807f" stroke-width="0.9" fill="none"/>
<path d="M260.6 381.9 305.1 381.6 316.6 381.4 325.6 381 332.1 380.4 338.1 379.7 344.6 378.6 358.6 375.7 362.1 375.3 365.6 375.1 368.6 375.2 372.1 375.6 389.1 379.1 400.1 380.5 413.6 381.4 435.6 381.8 435.6 382.1 260.6 382.1Z" stroke="none" stroke-width="0" fill="rgba(140,180,225,0.26)"/>
<path d="M260.6 381.9 305.1 381.6 316.6 381.4 325.6 381 332.1 380.4 338.1 379.7 344.6 378.6 358.6 375.7 362.1 375.3 365.6 375.1 368.6 375.2 372.1 375.6 389.1 379.1 400.1 380.5 413.6 381.4 435.6 381.8" stroke="#4d8fcf" stroke-width="1" fill="none"/>
<path d="M260.8 380.9 262.8 380.9 263.1 380.7 264.1 377.8 264.3 378.2 265.1 380.3 265.3 380.8 265.6 380.8 266.3 382.8 266.6 382.7 267.1 381.1 267.3 380.7 267.8 380.7 268.1 380.5 269.1 378 269.3 378.3 270.1 380.1 270.3 380.5 270.6 380.5 271.3 382.5 271.6 382.4 272.1 380.8 272.3 380.3 272.8 380.3 273.1 380.2 274.1 377.6 274.3 378 275.1 379.7 275.3 380 275.6 380 276.3 382 276.6 381.8 277.1 380.3 277.3 379.8 277.8 379.7 278.1 379.5 279.1 376.8 279.3 377.2 280.1 379 280.3 379.3 282.8 378.8 283.1 378.6 284.1 376.3 284.3 376.6 285.1 378 285.3 378.2 287.8 377.6 288.1 377.5 289.1 375.5 289.3 375.7 290.1 376.8 290.3 377 292.8 376.5 293.1 376.4 294.1 374.6 294.3 374.8 295.1 375.8 295.3 376 300.6 374.8" stroke="#9c9c9c" stroke-width="0.6" fill="none"/>
<path d="M260.6 380.9 273.1 380.3 281.6 379 300.6 374.8 305.1 373.4 316.1 369.3 319.6 368.4 322.6 368.2 339.6 369.4 351.1 371.2 361.1 373.2 365.6 373.4 369.1 373.8 373.6 374.7 388.1 378 398.6 379.7 405.1 380.3 413.1 380.8 435.6 381.3" stroke="#303030" stroke-width="1.05" fill="none"/>
<line x1="260.6" y1="382.1" x2="435.6" y2="382.1" stroke="#5b9bd5" stroke-width="1.25"/>
<text x="0" y="0" font-size="7.3" text-anchor="end" fill="#000" transform="translate(433.6 380) scale(1 1.13)">-0.7 V</text>
<path d="M260.6 396.4 274.6 396.2 291.1 395.1 306.1 396.2 315.6 396.4 435.6 396.5 260.6 396.5Z" stroke="none" stroke-width="0" fill="rgba(150,150,150,0.35)"/>
<path d="M260.6 396.4 274.6 396.2 291.1 395.1 306.1 396.2 315.6 396.4 435.6 396.5" stroke="#8a8a8a" stroke-width="0.8" fill="none"/>
<path d="M260.6 395.9 278.1 395.2 284.6 394.7 290.1 394 295.1 393 299.6 391.9 315.6 386.7 319.1 386.1 322.1 385.9 325.1 386.1 328.6 386.9 341.6 391.1 348.1 392.9 354.1 394 361.1 394.9 370.6 395.5 383.6 395.9 435.6 396.3 435.6 396.5 260.6 396.5Z" stroke="none" stroke-width="0" fill="rgba(240,140,140,0.26)"/>
<path d="M260.6 395.9 278.1 395.2 284.6 394.7 290.1 394 295.1 393 299.6 391.9 315.6 386.7 319.1 386.1 322.1 385.9 325.1 386.1 328.6 386.9 341.6 391.1 348.1 392.9 354.1 394 361.1 394.9 370.6 395.5 383.6 395.9 435.6 396.3" stroke="#e3807f" stroke-width="0.9" fill="none"/>
<path d="M260.6 396.4 305.1 396.1 325.6 395.5 338.1 394.5 344.6 393.5 358.6 391.1 362.1 390.7 365.6 390.6 372.1 391.1 389.1 393.9 400.1 395.2 413.6 395.9 435.6 396.2 435.6 396.5 260.6 396.5Z" stroke="none" stroke-width="0" fill="rgba(140,180,225,0.26)"/>
<path d="M260.6 396.4 305.1 396.1 325.6 395.5 338.1 394.5 344.6 393.5 358.6 391.1 362.1 390.7 365.6 390.6 372.1 391.1 389.1 393.9 400.1 395.2 413.6 395.9 435.6 396.2" stroke="#4d8fcf" stroke-width="1" fill="none"/>
<path d="M260.8 395.5 262.8 395.4 263.1 395.3 264.1 392.5 264.3 392.9 265.1 394.9 265.3 395.3 265.6 395.3 266.3 397.4 266.6 397.2 267.1 395.7 267.3 395.3 267.8 395.2 268.1 395.1 269.1 392.5 269.3 392.8 270.1 394.7 270.3 395.1 270.6 395.1 271.3 397.2 271.6 397 272.1 395.5 272.3 395 272.8 394.9 273.1 394.8 274.1 392.2 274.3 392.6 275.1 394.4 275.3 394.7 275.6 394.7 276.3 396.7 276.6 396.5 277.1 395 277.3 394.5 277.8 394.4 278.1 394.3 279.1 392 279.3 392.2 280.1 393.8 280.3 394.1 282.8 393.6 283.1 393.5 284.1 391.1 284.3 391.3 285.1 392.8 285.3 393.1 287.8 392.6 288.1 392.4 289.1 390.4 289.3 390.6 290.1 391.8 290.3 392.1 292.8 391.6 293.1 391.5 294.1 389.5 294.3 389.7 295.1 391 295.3 391.2 300.6 390.3" stroke="#9c9c9c" stroke-width="0.6" fill="none"/>
<path d="M260.6 395.5 272.6 395 281.1 393.9 290.6 392 301.1 390.2 305.6 389 316.1 385.7 319.6 385.1 322.6 384.9 338.6 385.8 351.1 387.5 360.1 389 364.6 389.1 369.1 389.5 373.6 390.2 388.1 393 398.6 394.4 413.1 395.4 435.6 395.8" stroke="#303030" stroke-width="1.05" fill="none"/>
<line x1="260.6" y1="396.5" x2="435.6" y2="396.5" stroke="#5b9bd5" stroke-width="1.25"/>
<text x="0" y="0" font-size="7.3" text-anchor="end" fill="#000" transform="translate(433.6 394.4) scale(1 1.13)">-0.6 V</text>
<rect x="260.6" y="260.4" width="175" height="140.9" fill="none" stroke="#444" stroke-width="0.8"/>
<line x1="260.6" y1="401.3" x2="260.6" y2="404.1" stroke="#444" stroke-width="0.7"/>
<text x="0" y="0" font-size="7.9" text-anchor="middle" fill="#000" transform="translate(260.6 411.6) scale(1 1.13)">3700</text>
<line x1="273.1" y1="401.3" x2="273.1" y2="403.1" stroke="#444" stroke-width="0.7"/>
<line x1="285.6" y1="401.3" x2="285.6" y2="404.1" stroke="#444" stroke-width="0.7"/>
<text x="0" y="0" font-size="7.9" text-anchor="middle" fill="#000" transform="translate(285.6 411.6) scale(1 1.13)">3600</text>
<line x1="298.1" y1="401.3" x2="298.1" y2="403.1" stroke="#444" stroke-width="0.7"/>
<line x1="310.6" y1="401.3" x2="310.6" y2="404.1" stroke="#444" stroke-width="0.7"/>
<text x="0" y="0" font-size="7.9" text-anchor="middle" fill="#000" transform="translate(310.6 411.6) scale(1 1.13)">3500</text>
<line x1="323.1" y1="401.3" x2="323.1" y2="403.1" stroke="#444" stroke-width="0.7"/>
<line x1="335.6" y1="401.3" x2="335.6" y2="404.1" stroke="#444" stroke-width="0.7"/>
<text x="0" y="0" font-size="7.9" text-anchor="middle" fill="#000" transform="translate(335.6 411.6) scale(1 1.13)">3400</text>
<line x1="348.1" y1="401.3" x2="348.1" y2="403.1" stroke="#444" stroke-width="0.7"/>
<line x1="360.6" y1="401.3" x2="360.6" y2="404.1" stroke="#444" stroke-width="0.7"/>
<text x="0" y="0" font-size="7.9" text-anchor="middle" fill="#000" transform="translate(360.6 411.6) scale(1 1.13)">3300</text>
<line x1="373.1" y1="401.3" x2="373.1" y2="403.1" stroke="#444" stroke-width="0.7"/>
<line x1="385.6" y1="401.3" x2="385.6" y2="404.1" stroke="#444" stroke-width="0.7"/>
<text x="0" y="0" font-size="7.9" text-anchor="middle" fill="#000" transform="translate(385.6 411.6) scale(1 1.13)">3200</text>
<line x1="398.1" y1="401.3" x2="398.1" y2="403.1" stroke="#444" stroke-width="0.7"/>
<line x1="410.6" y1="401.3" x2="410.6" y2="404.1" stroke="#444" stroke-width="0.7"/>
<text x="0" y="0" font-size="7.9" text-anchor="middle" fill="#000" transform="translate(410.6 411.6) scale(1 1.13)">3100</text>
<line x1="423.1" y1="401.3" x2="423.1" y2="403.1" stroke="#444" stroke-width="0.7"/>
<line x1="435.6" y1="401.3" x2="435.6" y2="404.1" stroke="#444" stroke-width="0.7"/>
<text x="0" y="0" font-size="7.9" text-anchor="middle" fill="#000" transform="translate(435.6 411.6) scale(1 1.13)">3000</text>
<text x="0" y="0" font-size="8.8" text-anchor="middle" fill="#000" transform="translate(348.1 425.8) scale(1 1.13)">Wavenumber (cm<tspan font-size="6.16" dy="-3.52">-1</tspan><tspan dy="3.52">)</tspan></text>
<text x="0" y="0" font-size="8" text-anchor="middle" fill="#000" transform="translate(254.6 330.8) scale(1 1.05) rotate(-90)">Intensity (a.u.)</text>
<rect x="261.4" y="262.4" width="14.6" height="7.2" fill="#dcdcdc" stroke="#777" stroke-width="0.8"/>
<text x="0" y="0" font-size="6.6" text-anchor="start" fill="#000" transform="translate(278.2 269) scale(1 1.13)">free H<tspan font-size="4.62" dy="1.65">2</tspan><tspan dy="-1.65">O</tspan></text>
<rect x="306" y="262.4" width="14.6" height="7.2" fill="#fbe1e1" stroke="#e58a8a" stroke-width="0.8"/>
<text x="0" y="0" font-size="6.6" text-anchor="start" fill="#000" transform="translate(322.6 269) scale(1 1.13)">2-HB H<tspan font-size="4.62" dy="1.65">2</tspan><tspan dy="-1.65">O</tspan></text>
<rect x="355" y="262.4" width="14.6" height="7.2" fill="#e2edf8" stroke="#6aa0d8" stroke-width="0.8"/>
<text x="0" y="0" font-size="6.6" text-anchor="start" fill="#000" transform="translate(371.6 269) scale(1 1.13)">4-HB H<tspan font-size="4.62" dy="1.65">2</tspan><tspan dy="-1.65">O</tspan></text>
<text x="0" y="0" font-size="6.6" text-anchor="start" fill="#000" transform="translate(262 277.6) scale(1 1.13)">IsotropicMeso</text>
<path d="M477.6 292.9 491.7 292.7 504.8 291.5 508.3 291.4 511.8 291.5 523.4 292.6 533 292.9 653.8 293 477.6 293Z" stroke="none" stroke-width="0" fill="rgba(150,150,150,0.35)"/>
<path d="M477.6 292.9 491.7 292.7 504.8 291.5 508.3 291.4 511.8 291.5 523.4 292.6 533 292.9 653.8 293" stroke="#8a8a8a" stroke-width="0.8" fill="none"/>
<path d="M477.6 292.2 488.2 291.8 496.2 291.2 502.8 290.5 508.3 289.4 513.3 288.1 518.4 286.3 534 279.2 537.5 278.2 540.5 277.9 544.1 278.3 547.6 279.4 560.7 285.4 567.2 287.9 573.3 289.5 580.3 290.7 589.4 291.6 602.5 292.1 623.1 292.5 653.8 292.7 653.8 293 477.6 293Z" stroke="none" stroke-width="0" fill="rgba(240,140,140,0.26)"/>
<path d="M477.6 292.2 488.2 291.8 496.2 291.2 502.8 290.5 508.3 289.4 513.3 288.1 518.4 286.3 534 279.2 537.5 278.2 540.5 277.9 544.1 278.3 547.6 279.4 560.7 285.4 567.2 287.9 573.3 289.5 580.3 290.7 589.4 291.6 602.5 292.1 623.1 292.5 653.8 292.7" stroke="#e3807f" stroke-width="0.9" fill="none"/>
<path d="M477.6 292.5 502.3 292.2 518.9 291.7 530.5 291 540 289.9 546.6 288.7 553.1 287 560.7 284.2 575.8 277.8 580.3 276.5 584.3 276.1 588.4 276.5 592.4 277.6 595.9 278.9 606 283.4 611 285.4 616.5 287.3 622.1 288.7 628.1 289.9 635.2 290.8 643.2 291.4 653.8 291.9 653.8 293 477.6 293Z" stroke="none" stroke-width="0" fill="rgba(140,180,225,0.26)"/>
<path d="M477.6 292.5 502.3 292.2 518.9 291.7 530.5 291 540 289.9 546.6 288.7 553.1 287 560.7 284.2 575.8 277.8 580.3 276.5 584.3 276.1 588.4 276.5 592.4 277.6 595.9 278.9 606 283.4 611 285.4 616.5 287.3 622.1 288.7 628.1 289.9 635.2 290.8 643.2 291.4 653.8 291.9" stroke="#4d8fcf" stroke-width="1" fill="none"/>
<path d="M477.8 291.4 480.1 291.2 481.1 290.4 481.3 290.5 482.1 291.1 482.3 291.2 482.6 291.2 483.3 291.8 483.6 291.8 484.3 291.1 485.1 291 486.1 289.9 486.3 290.1 487.1 290.7 487.3 290.8 487.6 290.8 488.3 291.5 488.6 291.4 489.3 290.7 490.1 290.6 491.1 289.7 492.1 290.2 492.3 290.3 492.6 290.3 493.3 290.9 493.6 290.8 494.3 290 495.1 289.9 496.1 288.8 496.3 288.9 497.1 289.4 497.3 289.5 497.8 289.4 500.1 288.8 501.1 287.9 502.3 288.3 504.8 287.6 505.1 287.5 506.1 286.6 507.3 286.9 510.1 286.2 511.1 285.3 512.3 285.7 515.3 285 517.5 284.3" stroke="#9c9c9c" stroke-width="0.6" fill="none"/>
<path d="M477.6 291.4 490.2 290.6 494.7 290 499.2 289.1 517.4 284.4 525.9 280.8 534.5 276.4 538 275.1 541.5 274.4 544.1 274.3 550.1 273.7 554.1 273.5 579.8 274.1 582.8 274 586.3 274.4 589.4 275.1 592.4 276.1 615 286 621.1 287.8 627.6 289.1 634.7 290.1 643.2 290.9 653.8 291.4" stroke="#303030" stroke-width="1.05" fill="none"/>
<line x1="477.6" y1="293" x2="653.8" y2="293" stroke="#5b9bd5" stroke-width="1.25"/>
<text x="0" y="0" font-size="7.3" text-anchor="end" fill="#000" transform="translate(651.8 289.2) scale(1 1.13)">-1.1 V</text>
<path d="M477.6 316.4 491.7 316.2 504.8 315 508.3 314.9 511.8 315 523.4 316.1 533 316.4 653.8 316.5 477.6 316.5Z" stroke="none" stroke-width="0" fill="rgba(150,150,150,0.35)"/>
<path d="M477.6 316.4 491.7 316.2 504.8 315 508.3 314.9 511.8 315 523.4 316.1 533 316.4 653.8 316.5" stroke="#8a8a8a" stroke-width="0.8" fill="none"/>
<path d="M477.6 315.7 488.2 315.3 496.2 314.8 502.8 314.1 508.3 313.1 513.3 311.8 518.4 310.1 534 303.4 537.5 302.5 540.5 302.2 544.1 302.6 547.6 303.6 560.7 309.3 567.2 311.7 573.3 313.2 580.3 314.4 589.4 315.2 602.5 315.7 653.8 316.2 653.8 316.5 477.6 316.5Z" stroke="none" stroke-width="0" fill="rgba(240,140,140,0.26)"/>
<path d="M477.6 315.7 488.2 315.3 496.2 314.8 502.8 314.1 508.3 313.1 513.3 311.8 518.4 310.1 534 303.4 537.5 302.5 540.5 302.2 544.1 302.6 547.6 303.6 560.7 309.3 567.2 311.7 573.3 313.2 580.3 314.4 589.4 315.2 602.5 315.7 653.8 316.2" stroke="#e3807f" stroke-width="0.9" fill="none"/>
<path d="M477.6 316 502.3 315.8 518.9 315.4 530.5 314.7 540 313.8 546.6 312.7 553.1 311.1 560.7 308.7 575.8 302.9 580.3 301.8 584.3 301.4 588.4 301.8 592.4 302.7 611 309.7 616.5 311.4 622.1 312.7 628.1 313.7 635.2 314.5 643.2 315.1 653.8 315.5 653.8 316.5 477.6 316.5Z" stroke="none" stroke-width="0" fill="rgba(140,180,225,0.26)"/>
<path d="M477.6 316 502.3 315.8 518.9 315.4 530.5 314.7 540 313.8 546.6 312.7 553.1 311.1 560.7 308.7 575.8 302.9 580.3 301.8 584.3 301.4 588.4 301.8 592.4 302.7 611 309.7 616.5 311.4 622.1 312.7 628.1 313.7 635.2 314.5 643.2 315.1 653.8 315.5" stroke="#4d8fcf" stroke-width="1" fill="none"/>
<path d="M477.8 315 480.1 314.8 481.1 313.9 481.3 314 482.1 314.7 482.3 314.8 482.6 314.8 483.3 315.4 483.6 315.4 484.3 314.7 485.1 314.6 486.1 313.7 487.1 314.4 487.3 314.5 487.6 314.5 488.3 315.1 488.6 315 489.3 314.3 490.1 314.2 491.1 313.4 492.1 313.9 492.3 314 492.6 313.9 493.3 314.5 493.6 314.5 494.3 313.7 495.1 313.5 496.1 312.7 497.3 313.2 499.1 312.8 500.1 312.5 501.1 311.5 502.3 312 505.1 311.3 506.1 310.4 507.3 310.7 510.1 310 511.1 309.3 512.3 309.6 514.8 309 517.5 307.9" stroke="#9c9c9c" stroke-width="0.6" fill="none"/>
<path d="M477.6 315 490.2 314.2 494.7 313.6 499.2 312.7 514.9 309 523.9 305.3 528.9 303.5 535 300.7 538 299.7 545.1 298.3 553.1 297.8 574.3 298.6 586.3 299.7 589.4 300.4 592.9 301.5 613.5 309.7 621.1 311.8 627.6 313 634.7 313.9 643.2 314.5 653.8 315" stroke="#303030" stroke-width="1.05" fill="none"/>
<line x1="477.6" y1="316.5" x2="653.8" y2="316.5" stroke="#5b9bd5" stroke-width="1.25"/>
<text x="0" y="0" font-size="7.3" text-anchor="end" fill="#000" transform="translate(651.8 313.6) scale(1 1.13)">-1.0 V</text>
<path d="M477.6 339.9 491.7 339.7 508.3 338.5 511.8 338.6 523.4 339.6 533 339.9 653.8 340 477.6 340Z" stroke="none" stroke-width="0" fill="rgba(150,150,150,0.35)"/>
<path d="M477.6 339.9 491.7 339.7 508.3 338.5 511.8 338.6 523.4 339.6 533 339.9 653.8 340" stroke="#8a8a8a" stroke-width="0.8" fill="none"/>
<path d="M477.6 339.2 488.2 338.8 496.2 338.3 502.8 337.6 508.3 336.6 513.3 335.3 518.4 333.6 534 326.9 537.5 326 540.5 325.7 544.1 326.1 547.6 327.1 560.7 332.8 567.2 335.2 573.3 336.7 580.3 337.9 589.4 338.7 602.5 339.2 653.8 339.7 653.8 340 477.6 340Z" stroke="none" stroke-width="0" fill="rgba(240,140,140,0.26)"/>
<path d="M477.6 339.2 488.2 338.8 496.2 338.3 502.8 337.6 508.3 336.6 513.3 335.3 518.4 333.6 534 326.9 537.5 326 540.5 325.7 544.1 326.1 547.6 327.1 560.7 332.8 567.2 335.2 573.3 336.7 580.3 337.9 589.4 338.7 602.5 339.2 653.8 339.7" stroke="#e3807f" stroke-width="0.9" fill="none"/>
<path d="M477.6 339.6 518.9 339 530.5 338.4 539.5 337.6 546.1 336.6 552.6 335.2 560.2 333 575.3 327.8 579.8 326.8 583.8 326.5 587.9 326.8 591.9 327.7 610.5 333.9 616 335.4 621.6 336.6 628.1 337.6 635.2 338.3 653.8 339.1 653.8 340 477.6 340Z" stroke="none" stroke-width="0" fill="rgba(140,180,225,0.26)"/>
<path d="M477.6 339.6 518.9 339 530.5 338.4 539.5 337.6 546.1 336.6 552.6 335.2 560.2 333 575.3 327.8 579.8 326.8 583.8 326.5 587.9 326.8 591.9 327.7 610.5 333.9 616 335.4 621.6 336.6 628.1 337.6 635.2 338.3 653.8 339.1" stroke="#4d8fcf" stroke-width="1" fill="none"/>
<path d="M477.8 338.5 480.1 338.4 481.1 337.3 481.3 337.5 482.1 338.2 482.3 338.3 482.6 338.3 483.3 339 483.6 338.9 484.3 338.2 485.1 338.1 486.1 337.3 487.1 337.9 487.3 338 487.6 338 488.3 338.7 488.6 338.6 489.3 337.9 490.1 337.8 491.1 336.9 492.1 337.5 492.3 337.6 492.6 337.5 493.3 338.1 493.6 338 494.3 337.3 495.1 337.1 496.1 336.3 497.3 336.8 499.8 336.2 500.1 336.2 501.1 335.2 502.3 335.7 505.1 334.9 506.1 334 507.3 334.4 510.1 333.7 511.1 332.9 512.3 333.3 513.3 333 517.5 331.4" stroke="#9c9c9c" stroke-width="0.6" fill="none"/>
<path d="M477.6 338.5 490.7 337.7 495.2 337.1 499.8 336.3 513.8 332.9 523.9 328.8 529.5 326.9 534 324.8 537.5 323.5 540 323 545.6 322.2 552.6 321.8 571.2 322.9 582.3 324 588.4 325.3 593.4 326.7 614 334.1 620.6 335.7 627.1 336.8 634.7 337.6 643.2 338.2 653.8 338.6" stroke="#303030" stroke-width="1.05" fill="none"/>
<line x1="477.6" y1="340" x2="653.8" y2="340" stroke="#5b9bd5" stroke-width="1.25"/>
<text x="0" y="0" font-size="7.3" text-anchor="end" fill="#000" transform="translate(651.8 336.5) scale(1 1.13)">-0.9 V</text>
<path d="M477.6 361.1 491.7 360.9 508.3 359.7 511.8 359.8 523.4 360.8 533 361.1 653.8 361.2 477.6 361.2Z" stroke="none" stroke-width="0" fill="rgba(150,150,150,0.35)"/>
<path d="M477.6 361.1 491.7 360.9 508.3 359.7 511.8 359.8 523.4 360.8 533 361.1 653.8 361.2" stroke="#8a8a8a" stroke-width="0.8" fill="none"/>
<path d="M477.6 360.4 488.2 360.1 496.2 359.6 502.8 358.9 508.3 357.9 513.3 356.6 518.4 355 534 348.4 537.5 347.5 540.5 347.2 544.1 347.6 547.6 348.6 560.7 354.2 567.2 356.5 573.3 358 580.3 359.1 589.4 359.9 602.5 360.4 653.8 360.9 653.8 361.2 477.6 361.2Z" stroke="none" stroke-width="0" fill="rgba(240,140,140,0.26)"/>
<path d="M477.6 360.4 488.2 360.1 496.2 359.6 502.8 358.9 508.3 357.9 513.3 356.6 518.4 355 534 348.4 537.5 347.5 540.5 347.2 544.1 347.6 547.6 348.6 560.7 354.2 567.2 356.5 573.3 358 580.3 359.1 589.4 359.9 602.5 360.4 653.8 360.9" stroke="#e3807f" stroke-width="0.9" fill="none"/>
<path d="M477.6 360.8 518.4 360.3 530 359.8 539 359 545.6 358.1 552.1 356.8 559.7 354.9 574.8 350.2 579.3 349.3 583.3 349 587.3 349.3 591.4 350.1 610 355.7 615.5 357.1 621.1 358.1 627.6 359 634.7 359.6 653.8 360.4 653.8 361.2 477.6 361.2Z" stroke="none" stroke-width="0" fill="rgba(140,180,225,0.26)"/>
<path d="M477.6 360.8 518.4 360.3 530 359.8 539 359 545.6 358.1 552.1 356.8 559.7 354.9 574.8 350.2 579.3 349.3 583.3 349 587.3 349.3 591.4 350.1 610 355.7 615.5 357.1 621.1 358.1 627.6 359 634.7 359.6 653.8 360.4" stroke="#4d8fcf" stroke-width="1" fill="none"/>
<path d="M477.8 359.8 480.1 359.6 481.1 358.8 481.3 358.9 482.1 359.5 482.3 359.6 482.6 359.6 483.3 360.2 483.6 360.2 484.3 359.5 485.1 359.4 486.1 358.5 487.1 359.2 487.3 359.3 487.6 359.3 488.3 359.9 488.6 359.9 489.3 359.1 490.1 359 491.1 358.2 492.1 358.7 492.3 358.8 492.6 358.8 493.3 359.4 493.6 359.3 494.3 358.6 495.1 358.4 496.1 357.5 497.3 358.1 499.8 357.5 500.1 357.5 501.1 356.6 502.3 357 505.1 356.2 506.1 355.4 507.3 355.7 509.8 355.2 510.1 355.1 511.1 354.2 512.3 354.6 512.8 354.5 517.5 352.7" stroke="#9c9c9c" stroke-width="0.6" fill="none"/>
<path d="M477.6 359.8 490.2 359.1 494.7 358.5 499.2 357.7 513.3 354.3 523.4 350.5 529.5 348.4 534 346.4 537.5 345.2 541 344.5 547.6 343.9 551.6 343.8 558.7 344.2 573.8 345.6 580.8 346.4 586.8 347.5 592.4 349 611.5 355.3 617 356.6 623.1 357.7 629.1 358.5 636.2 359.2 653.8 359.9" stroke="#303030" stroke-width="1.05" fill="none"/>
<line x1="477.6" y1="361.2" x2="653.8" y2="361.2" stroke="#5b9bd5" stroke-width="1.25"/>
<text x="0" y="0" font-size="7.3" text-anchor="end" fill="#000" transform="translate(651.8 358.2) scale(1 1.13)">-0.8 V</text>
<path d="M477.6 379.6 491.7 379.4 508.3 378.3 523.4 379.4 533 379.6 653.8 379.7 477.6 379.7Z" stroke="none" stroke-width="0" fill="rgba(150,150,150,0.35)"/>
<path d="M477.6 379.6 491.7 379.4 508.3 378.3 523.4 379.4 533 379.6 653.8 379.7" stroke="#8a8a8a" stroke-width="0.8" fill="none"/>
<path d="M477.6 378.9 487.7 378.6 495.7 378.1 502.3 377.4 507.8 376.5 512.8 375.3 517.9 373.7 533.5 367.4 537 366.5 540 366.2 543.5 366.6 547.1 367.5 560.2 372.9 566.7 375.2 572.7 376.6 579.8 377.7 589.4 378.5 602.5 378.9 653.8 379.5 653.8 379.7 477.6 379.7Z" stroke="none" stroke-width="0" fill="rgba(240,140,140,0.26)"/>
<path d="M477.6 378.9 487.7 378.6 495.7 378.1 502.3 377.4 507.8 376.5 512.8 375.3 517.9 373.7 533.5 367.4 537 366.5 540 366.2 543.5 366.6 547.1 367.5 560.2 372.9 566.7 375.2 572.7 376.6 579.8 377.7 589.4 378.5 602.5 378.9 653.8 379.5" stroke="#e3807f" stroke-width="0.9" fill="none"/>
<path d="M477.6 379.4 518.4 378.9 530 378.4 539 377.8 545.6 377 551.6 376 559.2 374.3 574.3 370.3 578.8 369.5 582.8 369.3 586.8 369.5 590.9 370.2 609.5 375 615 376.2 620.6 377.1 627.1 377.8 634.2 378.4 653.8 379 653.8 379.7 477.6 379.7Z" stroke="none" stroke-width="0" fill="rgba(140,180,225,0.26)"/>
<path d="M477.6 379.4 518.4 378.9 530 378.4 539 377.8 545.6 377 551.6 376 559.2 374.3 574.3 370.3 578.8 369.5 582.8 369.3 586.8 369.5 590.9 370.2 609.5 375 615 376.2 620.6 377.1 627.1 377.8 634.2 378.4 653.8 379" stroke="#4d8fcf" stroke-width="1" fill="none"/>
<path d="M477.8 378.3 480.1 378.2 481.1 377.1 481.3 377.3 482.1 378 482.3 378.2 482.6 378.2 483.3 378.8 483.6 378.8 484.3 378.1 485.1 378 486.1 377.2 487.1 377.8 487.3 377.9 487.6 377.9 488.3 378.5 488.6 378.5 489.3 377.7 490.1 377.6 491.1 376.9 492.1 377.4 492.3 377.4 492.6 377.4 493.3 378 493.6 377.9 494.3 377.2 495.1 377 496.1 376.2 497.3 376.7 499.8 376.2 500.1 376.1 501.1 375.1 502.3 375.6 505.1 374.9 506.1 374 507.3 374.4 509.8 373.9 510.1 373.8 511.1 373.1 512.3 373.3 517.5 371.3" stroke="#9c9c9c" stroke-width="0.6" fill="none"/>
<path d="M477.6 378.4 490.2 377.7 494.7 377.1 499.2 376.3 511.8 373.4 523.9 369 529.5 367.3 534 365.4 537 364.5 545.1 363.3 550.6 363 557.1 363.3 569.7 364.7 582.8 366.6 592.9 368.9 612.5 374.9 620.6 376.4 627.1 377.2 634.2 377.8 653.8 378.6" stroke="#303030" stroke-width="1.05" fill="none"/>
<line x1="477.6" y1="379.7" x2="653.8" y2="379.7" stroke="#5b9bd5" stroke-width="1.25"/>
<text x="0" y="0" font-size="7.3" text-anchor="end" fill="#000" transform="translate(651.8 376.8) scale(1 1.13)">-0.7 V</text>
<path d="M477.6 397.3 491.7 397.1 508.3 396.1 523.4 397.1 533 397.3 653.8 397.4 477.6 397.4Z" stroke="none" stroke-width="0" fill="rgba(150,150,150,0.35)"/>
<path d="M477.6 397.3 491.7 397.1 508.3 396.1 523.4 397.1 533 397.3 653.8 397.4" stroke="#8a8a8a" stroke-width="0.8" fill="none"/>
<path d="M477.6 396.7 495.7 395.9 502.3 395.2 507.8 394.3 512.8 393.2 517.9 391.6 533.5 385.5 537 384.7 540 384.4 543.5 384.7 547.1 385.7 560.2 390.9 566.7 393 572.7 394.4 579.8 395.5 589.4 396.2 602.5 396.7 653.8 397.2 653.8 397.4 477.6 397.4Z" stroke="none" stroke-width="0" fill="rgba(240,140,140,0.26)"/>
<path d="M477.6 396.7 495.7 395.9 502.3 395.2 507.8 394.3 512.8 393.2 517.9 391.6 533.5 385.5 537 384.7 540 384.4 543.5 384.7 547.1 385.7 560.2 390.9 566.7 393 572.7 394.4 579.8 395.5 589.4 396.2 602.5 396.7 653.8 397.2" stroke="#e3807f" stroke-width="0.9" fill="none"/>
<path d="M477.6 397.1 517.9 396.7 529.5 396.4 538.5 395.8 545.1 395.2 551.1 394.4 558.7 393 573.8 389.8 578.3 389.2 582.3 389 586.3 389.2 590.4 389.7 609 393.6 620.6 395.3 634.2 396.3 653.8 396.9 653.8 397.4 477.6 397.4Z" stroke="none" stroke-width="0" fill="rgba(140,180,225,0.26)"/>
<path d="M477.6 397.1 517.9 396.7 529.5 396.4 538.5 395.8 545.1 395.2 551.1 394.4 558.7 393 573.8 389.8 578.3 389.2 582.3 389 586.3 389.2 590.4 389.7 609 393.6 620.6 395.3 634.2 396.3 653.8 396.9" stroke="#4d8fcf" stroke-width="1" fill="none"/>
<path d="M477.8 396.1 480.1 396 481.1 395.1 481.3 395.2 482.1 395.8 482.3 396 482.6 396 483.3 396.6 483.6 396.6 484.3 395.9 485.1 395.8 486.1 395 487.1 395.6 487.3 395.7 487.6 395.7 488.3 396.3 488.6 396.3 489.3 395.6 490.1 395.5 491.1 394.6 491.3 394.7 492.1 395.2 492.3 395.3 492.6 395.3 493.3 395.9 493.6 395.8 494.3 395 495.1 394.9 496.1 394 497.3 394.6 499.8 394.1 500.1 394 501.1 393 502.3 393.6 505.1 392.9 506.1 392.1 507.3 392.4 509.8 391.9 510.1 391.8 511.1 391 512.3 391.4 517.5 389.6" stroke="#9c9c9c" stroke-width="0.6" fill="none"/>
<path d="M477.6 396.1 490.2 395.5 498.7 394.3 512.3 391.4 526.9 386.7 533 384.2 537 382.9 540.5 382.4 544.6 382.6 550.1 382.3 554.1 382.5 559.7 383 572.7 384.6 581.8 386 591.4 388 611.5 393.3 618.1 394.3 625.1 395.1 632.7 395.7 653.8 396.4" stroke="#303030" stroke-width="1.05" fill="none"/>
<line x1="477.6" y1="397.4" x2="653.8" y2="397.4" stroke="#5b9bd5" stroke-width="1.25"/>
<text x="0" y="0" font-size="7.3" text-anchor="end" fill="#000" transform="translate(651.8 394.9) scale(1 1.13)">-0.6 V</text>
<rect x="477.6" y="259" width="176.2" height="141.2" fill="none" stroke="#444" stroke-width="0.8"/>
<line x1="477.6" y1="400.2" x2="477.6" y2="403" stroke="#444" stroke-width="0.7"/>
<text x="0" y="0" font-size="7.9" text-anchor="middle" fill="#000" transform="translate(477.6 411.6) scale(1 1.13)">3700</text>
<line x1="490.19" y1="400.2" x2="490.19" y2="402" stroke="#444" stroke-width="0.7"/>
<line x1="502.77" y1="400.2" x2="502.77" y2="403" stroke="#444" stroke-width="0.7"/>
<text x="0" y="0" font-size="7.9" text-anchor="middle" fill="#000" transform="translate(502.77 411.6) scale(1 1.13)">3600</text>
<line x1="515.36" y1="400.2" x2="515.36" y2="402" stroke="#444" stroke-width="0.7"/>
<line x1="527.94" y1="400.2" x2="527.94" y2="403" stroke="#444" stroke-width="0.7"/>
<text x="0" y="0" font-size="7.9" text-anchor="middle" fill="#000" transform="translate(527.94 411.6) scale(1 1.13)">3500</text>
<line x1="540.53" y1="400.2" x2="540.53" y2="402" stroke="#444" stroke-width="0.7"/>
<line x1="553.11" y1="400.2" x2="553.11" y2="403" stroke="#444" stroke-width="0.7"/>
<text x="0" y="0" font-size="7.9" text-anchor="middle" fill="#000" transform="translate(553.11 411.6) scale(1 1.13)">3400</text>
<line x1="565.7" y1="400.2" x2="565.7" y2="402" stroke="#444" stroke-width="0.7"/>
<line x1="578.29" y1="400.2" x2="578.29" y2="403" stroke="#444" stroke-width="0.7"/>
<text x="0" y="0" font-size="7.9" text-anchor="middle" fill="#000" transform="translate(578.29 411.6) scale(1 1.13)">3300</text>
<line x1="590.87" y1="400.2" x2="590.87" y2="402" stroke="#444" stroke-width="0.7"/>
<line x1="603.46" y1="400.2" x2="603.46" y2="403" stroke="#444" stroke-width="0.7"/>
<text x="0" y="0" font-size="7.9" text-anchor="middle" fill="#000" transform="translate(603.46 411.6) scale(1 1.13)">3200</text>
<line x1="616.04" y1="400.2" x2="616.04" y2="402" stroke="#444" stroke-width="0.7"/>
<line x1="628.63" y1="400.2" x2="628.63" y2="403" stroke="#444" stroke-width="0.7"/>
<text x="0" y="0" font-size="7.9" text-anchor="middle" fill="#000" transform="translate(628.63 411.6) scale(1 1.13)">3100</text>
<line x1="641.21" y1="400.2" x2="641.21" y2="402" stroke="#444" stroke-width="0.7"/>
<line x1="653.8" y1="400.2" x2="653.8" y2="403" stroke="#444" stroke-width="0.7"/>
<text x="0" y="0" font-size="7.9" text-anchor="middle" fill="#000" transform="translate(653.8 411.6) scale(1 1.13)">3000</text>
<text x="0" y="0" font-size="8.8" text-anchor="middle" fill="#000" transform="translate(565.7 425.8) scale(1 1.13)">Wavenumber (cm<tspan font-size="6.16" dy="-3.52">-1</tspan><tspan dy="3.52">)</tspan></text>
<text x="0" y="0" font-size="8" text-anchor="middle" fill="#000" transform="translate(472.6 330.8) scale(1 1.05) rotate(-90)">Intensity (a.u.)</text>
<rect x="479" y="261.4" width="14.6" height="7" fill="#dcdcdc" stroke="#777" stroke-width="0.8"/>
<text x="0" y="0" font-size="6.6" text-anchor="start" fill="#000" transform="translate(495.8 267.8) scale(1 1.13)">free H<tspan font-size="4.62" dy="1.65">2</tspan><tspan dy="-1.65">O</tspan></text>
<rect x="523.6" y="261.4" width="14.6" height="7" fill="#fbe1e1" stroke="#e58a8a" stroke-width="0.8"/>
<text x="0" y="0" font-size="6.6" text-anchor="start" fill="#000" transform="translate(540.2 267.8) scale(1 1.13)">2-HB H<tspan font-size="4.62" dy="1.65">2</tspan><tspan dy="-1.65">O</tspan></text>
<rect x="571.6" y="261.4" width="14.6" height="7" fill="#e2edf8" stroke="#6aa0d8" stroke-width="0.8"/>
<text x="0" y="0" font-size="6.6" text-anchor="start" fill="#000" transform="translate(588.2 267.8) scale(1 1.13)">4-HB H<tspan font-size="4.62" dy="1.65">2</tspan><tspan dy="-1.65">O</tspan></text>
<text x="0" y="0" font-size="6.6" text-anchor="start" fill="#000" transform="translate(479 276.4) scale(1 1.13)">IsotropicNano</text>
<rect x="48" y="570.42" width="15.6" height="10.98" fill="#b4b4b4" stroke="#6a6a6a" stroke-width="0.6"/>
<rect x="48" y="570.42" width="15.6" height="10.98" fill="url(#hR)" stroke="#6a6a6a" stroke-width="0.6"/>
<rect x="48" y="503.56" width="15.6" height="66.86" fill="#f6c4c4" stroke="#6a6a6a" stroke-width="0.6"/>
<rect x="48" y="503.56" width="15.6" height="66.86" fill="url(#hR)" stroke="#6a6a6a" stroke-width="0.6"/>
<rect x="48" y="459.4" width="15.6" height="44.16" fill="#c9def0" stroke="#6a6a6a" stroke-width="0.6"/>
<rect x="48" y="459.4" width="15.6" height="44.16" fill="url(#hR)" stroke="#6a6a6a" stroke-width="0.6"/>
<rect x="66.5" y="579.94" width="15.6" height="1.46" fill="#b4b4b4" stroke="#6a6a6a" stroke-width="0.6"/>
<rect x="66.5" y="579.94" width="15.6" height="1.46" fill="url(#hL)" stroke="#6a6a6a" stroke-width="0.6"/>
<rect x="66.5" y="502.1" width="15.6" height="77.84" fill="#f6c4c4" stroke="#6a6a6a" stroke-width="0.6"/>
<rect x="66.5" y="502.1" width="15.6" height="77.84" fill="url(#hL)" stroke="#6a6a6a" stroke-width="0.6"/>
<rect x="66.5" y="459.4" width="15.6" height="42.7" fill="#c9def0" stroke="#6a6a6a" stroke-width="0.6"/>
<rect x="66.5" y="459.4" width="15.6" height="42.7" fill="url(#hL)" stroke="#6a6a6a" stroke-width="0.6"/>
<rect x="85" y="578.96" width="15.6" height="2.44" fill="#b4b4b4" stroke="#6a6a6a" stroke-width="0.6"/>
<rect x="85" y="518.57" width="15.6" height="60.39" fill="#f6c4c4" stroke="#6a6a6a" stroke-width="0.6"/>
<rect x="85" y="459.4" width="15.6" height="59.17" fill="#c9def0" stroke="#6a6a6a" stroke-width="0.6"/>
<rect x="140.6" y="570.54" width="15.6" height="10.86" fill="#b4b4b4" stroke="#6a6a6a" stroke-width="0.6"/>
<rect x="140.6" y="570.54" width="15.6" height="10.86" fill="url(#hR)" stroke="#6a6a6a" stroke-width="0.6"/>
<rect x="140.6" y="512.35" width="15.6" height="58.19" fill="#f6c4c4" stroke="#6a6a6a" stroke-width="0.6"/>
<rect x="140.6" y="512.35" width="15.6" height="58.19" fill="url(#hR)" stroke="#6a6a6a" stroke-width="0.6"/>
<rect x="140.6" y="459.4" width="15.6" height="52.95" fill="#c9def0" stroke="#6a6a6a" stroke-width="0.6"/>
<rect x="140.6" y="459.4" width="15.6" height="52.95" fill="url(#hR)" stroke="#6a6a6a" stroke-width="0.6"/>
<rect x="159.4" y="577.01" width="15.6" height="4.39" fill="#b4b4b4" stroke="#6a6a6a" stroke-width="0.6"/>
<rect x="159.4" y="577.01" width="15.6" height="4.39" fill="url(#hL)" stroke="#6a6a6a" stroke-width="0.6"/>
<rect x="159.4" y="514.42" width="15.6" height="62.59" fill="#f6c4c4" stroke="#6a6a6a" stroke-width="0.6"/>
<rect x="159.4" y="514.42" width="15.6" height="62.59" fill="url(#hL)" stroke="#6a6a6a" stroke-width="0.6"/>
<rect x="159.4" y="459.4" width="15.6" height="55.02" fill="#c9def0" stroke="#6a6a6a" stroke-width="0.6"/>
<rect x="159.4" y="459.4" width="15.6" height="55.02" fill="url(#hL)" stroke="#6a6a6a" stroke-width="0.6"/>
<rect x="178" y="579.2" width="15.6" height="2.2" fill="#b4b4b4" stroke="#6a6a6a" stroke-width="0.6"/>
<rect x="178" y="527.35" width="15.6" height="51.85" fill="#f6c4c4" stroke="#6a6a6a" stroke-width="0.6"/>
<rect x="178" y="459.4" width="15.6" height="67.95" fill="#c9def0" stroke="#6a6a6a" stroke-width="0.6"/>
<rect x="32.6" y="441" width="176.4" height="140.4" fill="none" stroke="#444" stroke-width="0.8"/>
<line x1="32.6" y1="581.4" x2="29.6" y2="581.4" stroke="#444" stroke-width="0.7"/>
<text x="0" y="0" font-size="7.8" text-anchor="end" fill="#000" transform="translate(28.6 584.2) scale(1 1.13)">0</text>
<line x1="32.6" y1="569.2" x2="30.8" y2="569.2" stroke="#444" stroke-width="0.7"/>
<line x1="32.6" y1="557" x2="29.6" y2="557" stroke="#444" stroke-width="0.7"/>
<text x="0" y="0" font-size="7.8" text-anchor="end" fill="#000" transform="translate(28.6 559.8) scale(1 1.13)">20</text>
<line x1="32.6" y1="544.8" x2="30.8" y2="544.8" stroke="#444" stroke-width="0.7"/>
<line x1="32.6" y1="532.6" x2="29.6" y2="532.6" stroke="#444" stroke-width="0.7"/>
<text x="0" y="0" font-size="7.8" text-anchor="end" fill="#000" transform="translate(28.6 535.4) scale(1 1.13)">40</text>
<line x1="32.6" y1="520.4" x2="30.8" y2="520.4" stroke="#444" stroke-width="0.7"/>
<line x1="32.6" y1="508.2" x2="29.6" y2="508.2" stroke="#444" stroke-width="0.7"/>
<text x="0" y="0" font-size="7.8" text-anchor="end" fill="#000" transform="translate(28.6 511) scale(1 1.13)">60</text>
<line x1="32.6" y1="496" x2="30.8" y2="496" stroke="#444" stroke-width="0.7"/>
<line x1="32.6" y1="483.8" x2="29.6" y2="483.8" stroke="#444" stroke-width="0.7"/>
<text x="0" y="0" font-size="7.8" text-anchor="end" fill="#000" transform="translate(28.6 486.6) scale(1 1.13)">80</text>
<line x1="32.6" y1="471.6" x2="30.8" y2="471.6" stroke="#444" stroke-width="0.7"/>
<line x1="32.6" y1="459.4" x2="29.6" y2="459.4" stroke="#444" stroke-width="0.7"/>
<text x="0" y="0" font-size="7.8" text-anchor="end" fill="#000" transform="translate(28.6 462.2) scale(1 1.13)">100</text>
<line x1="32.6" y1="447.2" x2="30.8" y2="447.2" stroke="#444" stroke-width="0.7"/>
<text x="0" y="0" font-size="8.19" text-anchor="middle" fill="#000" transform="translate(13.4 511.5) scale(1 1.05) rotate(-90)">Normalized peak area (%)</text>
<text x="0" y="0" font-size="7.14" text-anchor="end" fill="#000" transform="translate(64.2 586) scale(1 1.05) rotate(-45)">DirectionalMeso</text>
<text x="0" y="0" font-size="7.14" text-anchor="end" fill="#000" transform="translate(82.7 586) scale(1 1.05) rotate(-45)">IsotropicMeso</text>
<text x="0" y="0" font-size="7.14" text-anchor="end" fill="#000" transform="translate(101.2 586) scale(1 1.05) rotate(-45)">IsotropicNano</text>
<text x="0" y="0" font-size="7.14" text-anchor="end" fill="#000" transform="translate(156.8 586) scale(1 1.05) rotate(-45)">DirectionalMeso</text>
<text x="0" y="0" font-size="7.14" text-anchor="end" fill="#000" transform="translate(175.6 586) scale(1 1.05) rotate(-45)">IsotropicMeso</text>
<text x="0" y="0" font-size="7.14" text-anchor="end" fill="#000" transform="translate(194.2 586) scale(1 1.05) rotate(-45)">IsotropicNano</text>
<text x="0" y="0" font-size="7.9" text-anchor="middle" fill="#000" transform="translate(74.2 457.6) scale(1 1.13)">-0.7 V</text>
<text x="0" y="0" font-size="7.9" text-anchor="middle" fill="#000" transform="translate(166.7 458) scale(1 1.13)">-1.1 V</text>
<rect x="34.4" y="442.6" width="16" height="6.8" fill="#b4b4b4" stroke="#8c8c8c" stroke-width="0.6"/>
<text x="0" y="0" font-size="7" text-anchor="start" fill="#000" transform="translate(52.4 449) scale(1 1.13)">free H<tspan font-size="4.9" dy="1.75">2</tspan><tspan dy="-1.75">O</tspan></text>
<rect x="81.6" y="442.6" width="16" height="6.8" fill="#f6c4c4" stroke="#8c8c8c" stroke-width="0.6"/>
<text x="0" y="0" font-size="7" text-anchor="start" fill="#000" transform="translate(99.4 449) scale(1 1.13)">2-HB H<tspan font-size="4.9" dy="1.75">2</tspan><tspan dy="-1.75">O</tspan></text>
<rect x="132.4" y="442.6" width="16" height="6.8" fill="#c9def0" stroke="#8c8c8c" stroke-width="0.6"/>
<text x="0" y="0" font-size="7" text-anchor="start" fill="#000" transform="translate(150.4 449) scale(1 1.13)">4-HB H<tspan font-size="4.9" dy="1.75">2</tspan><tspan dy="-1.75">O</tspan></text>
<path d="M263.2 581.4 266.4 569.6 270.1 558.5 274.2 548.4 278.5 539.8 282.6 533 284.6 530 288.7 524.7 294.8 518.1 298.8 514.3 302.9 511 307 508 311 505.4 319.1 500.8 329.3 496.2 339.5 492.4 351.6 488.8 365.8 485.3 380.1 482.6 396.3 480" stroke="#6f6f6f" stroke-width="0.9" fill="none"/>
<path d="M263.2 581.4 266 567 269.2 554 272.8 542.4 276.5 533.3 280.6 525.3 282.6 521.9 286.7 516 288.7 513.4 292.8 508.9 298.8 503.4 302.9 500.3 307 497.6 315.1 493.1 319.1 491.2 325.2 488.7 335.4 485.3 347.6 482.1 361.8 479.1 378 476.5 396.3 474.2" stroke="#e26764" stroke-width="0.9" fill="none"/>
<path d="M263.2 581.4 265.5 562.6 267.8 548.7 270.5 536.1 272.4 529.4 274.2 523.8 276.5 517.8 278.5 513.4 282.6 506.1 284.6 503.1 288.7 498.1 290.7 495.9 294.8 492.2 298.8 489.2 302.9 486.5 307 484.3 311 482.4 315.1 480.7 321.2 478.5 331.3 475.6 343.5 472.9 359.8 470.3 376 468.4 396.3 466.6" stroke="#4a90d5" stroke-width="0.9" fill="none"/>
<rect x="266.87" y="565.83" width="3.3" height="3.3" fill="#6f6f6f" stroke="none" stroke-width="0.8"/>
<rect x="272.2" y="554.23" width="3.3" height="3.3" fill="#6f6f6f" stroke="none" stroke-width="0.8"/>
<rect x="274.86" y="547.85" width="3.3" height="3.3" fill="#6f6f6f" stroke="none" stroke-width="0.8"/>
<rect x="277.52" y="539.15" width="3.3" height="3.3" fill="#6f6f6f" stroke="none" stroke-width="0.8"/>
<rect x="282.85" y="523.49" width="3.3" height="3.3" fill="#6f6f6f" stroke="none" stroke-width="0.8"/>
<rect x="288.17" y="515.08" width="3.3" height="3.3" fill="#6f6f6f" stroke="none" stroke-width="0.8"/>
<rect x="314.79" y="498.55" width="3.3" height="3.3" fill="#6f6f6f" stroke="none" stroke-width="0.8"/>
<rect x="341.41" y="490.14" width="3.3" height="3.3" fill="#6f6f6f" stroke="none" stroke-width="0.8"/>
<rect x="368.03" y="483.18" width="3.3" height="3.3" fill="#6f6f6f" stroke="none" stroke-width="0.8"/>
<rect x="394.65" y="483.47" width="3.3" height="3.3" fill="#6f6f6f" stroke="none" stroke-width="0.8"/>
<circle cx="268.52" cy="563.42" r="1.95" fill="#e0534f"/>
<circle cx="273.85" cy="548.34" r="1.95" fill="#e0534f"/>
<circle cx="276.51" cy="537.32" r="1.95" fill="#e0534f"/>
<circle cx="279.17" cy="525.14" r="1.95" fill="#e0534f"/>
<circle cx="284.5" cy="514.41" r="1.95" fill="#e0534f"/>
<circle cx="289.82" cy="502.23" r="1.95" fill="#e0534f"/>
<circle cx="316.44" cy="492.66" r="1.95" fill="#e0534f"/>
<circle cx="343.06" cy="485.99" r="1.95" fill="#e0534f"/>
<circle cx="369.68" cy="479.03" r="1.95" fill="#e0534f"/>
<circle cx="396.3" cy="477" r="1.95" fill="#e0534f"/>
<path d="M268.52 556.12 L270.72 559.94 L266.32 559.94 Z" fill="#3f80c8"/>
<path d="M273.85 534.37 L276.05 538.19 L271.65 538.19 Z" fill="#3f80c8"/>
<path d="M276.51 521.03 L278.71 524.85 L274.31 524.85 Z" fill="#3f80c8"/>
<path d="M279.17 502.47 L281.37 506.29 L276.97 506.29 Z" fill="#3f80c8"/>
<path d="M284.5 493.19 L286.7 497.01 L282.3 497.01 Z" fill="#3f80c8"/>
<path d="M289.82 485.94 L292.02 489.76 L287.62 489.76 Z" fill="#3f80c8"/>
<path d="M316.44 474.34 L318.64 478.16 L314.24 478.16 Z" fill="#3f80c8"/>
<path d="M343.06 472.02 L345.26 475.84 L340.86 475.84 Z" fill="#3f80c8"/>
<path d="M369.68 470.28 L371.88 474.1 L367.48 474.1 Z" fill="#3f80c8"/>
<path d="M396.3 470.57 L398.5 474.39 L394.1 474.39 Z" fill="#3f80c8"/>
<rect x="263.2" y="442.2" width="173" height="139.2" fill="none" stroke="#444" stroke-width="0.8"/>
<line x1="263.2" y1="581.4" x2="260.2" y2="581.4" stroke="#444" stroke-width="0.7"/>
<text x="0" y="0" font-size="7.8" text-anchor="end" fill="#000" transform="translate(259.2 584.2) scale(1 1.13)">0</text>
<line x1="263.2" y1="569.8" x2="261.4" y2="569.8" stroke="#444" stroke-width="0.7"/>
<line x1="263.2" y1="558.2" x2="260.2" y2="558.2" stroke="#444" stroke-width="0.7"/>
<text x="0" y="0" font-size="7.8" text-anchor="end" fill="#000" transform="translate(259.2 561) scale(1 1.13)">40</text>
<line x1="263.2" y1="546.6" x2="261.4" y2="546.6" stroke="#444" stroke-width="0.7"/>
<line x1="263.2" y1="535" x2="260.2" y2="535" stroke="#444" stroke-width="0.7"/>
<text x="0" y="0" font-size="7.8" text-anchor="end" fill="#000" transform="translate(259.2 537.8) scale(1 1.13)">80</text>
<line x1="263.2" y1="523.4" x2="261.4" y2="523.4" stroke="#444" stroke-width="0.7"/>
<line x1="263.2" y1="511.8" x2="260.2" y2="511.8" stroke="#444" stroke-width="0.7"/>
<text x="0" y="0" font-size="7.8" text-anchor="end" fill="#000" transform="translate(259.2 514.6) scale(1 1.13)">120</text>
<line x1="263.2" y1="500.2" x2="261.4" y2="500.2" stroke="#444" stroke-width="0.7"/>
<line x1="263.2" y1="488.6" x2="260.2" y2="488.6" stroke="#444" stroke-width="0.7"/>
<text x="0" y="0" font-size="7.8" text-anchor="end" fill="#000" transform="translate(259.2 491.4) scale(1 1.13)">160</text>
<line x1="263.2" y1="477" x2="261.4" y2="477" stroke="#444" stroke-width="0.7"/>
<line x1="263.2" y1="465.4" x2="260.2" y2="465.4" stroke="#444" stroke-width="0.7"/>
<text x="0" y="0" font-size="7.8" text-anchor="end" fill="#000" transform="translate(259.2 468.2) scale(1 1.13)">200</text>
<line x1="263.2" y1="453.8" x2="261.4" y2="453.8" stroke="#444" stroke-width="0.7"/>
<line x1="263.2" y1="442.2" x2="260.2" y2="442.2" stroke="#444" stroke-width="0.7"/>
<text x="0" y="0" font-size="7.8" text-anchor="end" fill="#000" transform="translate(259.2 445) scale(1 1.13)">240</text>
<line x1="263.2" y1="581.4" x2="263.2" y2="584.4" stroke="#444" stroke-width="0.7"/>
<text x="0" y="0" font-size="7.8" text-anchor="middle" fill="#000" transform="translate(263.2 591.6) scale(1 1.13)">0.0</text>
<line x1="276.51" y1="581.4" x2="276.51" y2="583.2" stroke="#444" stroke-width="0.7"/>
<line x1="289.82" y1="581.4" x2="289.82" y2="584.4" stroke="#444" stroke-width="0.7"/>
<text x="0" y="0" font-size="7.8" text-anchor="middle" fill="#000" transform="translate(289.82 591.6) scale(1 1.13)">0.2</text>
<line x1="303.13" y1="581.4" x2="303.13" y2="583.2" stroke="#444" stroke-width="0.7"/>
<line x1="316.44" y1="581.4" x2="316.44" y2="584.4" stroke="#444" stroke-width="0.7"/>
<text x="0" y="0" font-size="7.8" text-anchor="middle" fill="#000" transform="translate(316.44 591.6) scale(1 1.13)">0.4</text>
<line x1="329.75" y1="581.4" x2="329.75" y2="583.2" stroke="#444" stroke-width="0.7"/>
<line x1="343.06" y1="581.4" x2="343.06" y2="584.4" stroke="#444" stroke-width="0.7"/>
<text x="0" y="0" font-size="7.8" text-anchor="middle" fill="#000" transform="translate(343.06 591.6) scale(1 1.13)">0.6</text>
<line x1="356.37" y1="581.4" x2="356.37" y2="583.2" stroke="#444" stroke-width="0.7"/>
<line x1="369.68" y1="581.4" x2="369.68" y2="584.4" stroke="#444" stroke-width="0.7"/>
<text x="0" y="0" font-size="7.8" text-anchor="middle" fill="#000" transform="translate(369.68 591.6) scale(1 1.13)">0.8</text>
<line x1="382.99" y1="581.4" x2="382.99" y2="583.2" stroke="#444" stroke-width="0.7"/>
<line x1="396.3" y1="581.4" x2="396.3" y2="584.4" stroke="#444" stroke-width="0.7"/>
<text x="0" y="0" font-size="7.8" text-anchor="middle" fill="#000" transform="translate(396.3 591.6) scale(1 1.13)">1.0</text>
<line x1="409.61" y1="581.4" x2="409.61" y2="583.2" stroke="#444" stroke-width="0.7"/>
<line x1="422.92" y1="581.4" x2="422.92" y2="584.4" stroke="#444" stroke-width="0.7"/>
<text x="0" y="0" font-size="7.8" text-anchor="middle" fill="#000" transform="translate(422.92 591.6) scale(1 1.13)">1.2</text>
<line x1="436.23" y1="581.4" x2="436.23" y2="583.2" stroke="#444" stroke-width="0.7"/>
<text x="0" y="0" font-size="8.6" text-anchor="middle" fill="#000" transform="translate(350.4 602.6) scale(1 1.13)">Partial pressure of CO<tspan font-size="6.02" dy="2.15">2</tspan><tspan dy="-2.15"> (atm)</tspan></text>
<text x="0" y="0" font-size="8.19" text-anchor="middle" fill="#000" transform="translate(241.6 514) scale(1 1.05) rotate(-90)">j<tspan font-size="6.02" dy="2.15">CO</tspan><tspan dy="-2.15"> (mA cm<tspan font-size="6.02" dy="-3.44">-2</tspan><tspan dy="3.44">)</tspan></tspan></text>
<rect x="270.35" y="445.95" width="3.3" height="3.3" fill="#6f6f6f" stroke="none" stroke-width="0.8"/>
<circle cx="272" cy="456" r="1.95" fill="#e0534f"/>
<path d="M272 463.03 L274.2 466.85 L269.8 466.85 Z" fill="#3f80c8"/>
<text x="0" y="0" font-size="7.5" text-anchor="start" fill="#000" transform="translate(282.6 450.4) scale(1 1.13)">DirectionalMeso</text>
<text x="0" y="0" font-size="7.5" text-anchor="start" fill="#000" transform="translate(282.6 459) scale(1 1.13)">IsotropicMeso</text>
<text x="0" y="0" font-size="7.5" text-anchor="start" fill="#000" transform="translate(282.6 468.2) scale(1 1.13)">IsotropicNano</text>
<text x="0" y="0" font-size="7.2" text-anchor="start" fill="#000" transform="translate(369.4 465.4) scale(1 1.13)">10.16 atm<tspan font-size="5.04" dy="-2.88">-1</tspan><tspan dy="2.88"></tspan></text>
<text x="0" y="0" font-size="7.2" text-anchor="start" fill="#000" transform="translate(401.6 474.6) scale(1 1.13)">6.32 atm<tspan font-size="5.04" dy="-2.88">-1</tspan><tspan dy="2.88"></tspan></text>
<text x="0" y="0" font-size="7.2" text-anchor="start" fill="#000" transform="translate(368.6 495) scale(1 1.13)">4.35 atm<tspan font-size="5.04" dy="-2.88">-1</tspan><tspan dy="2.88"></tspan></text>
<text x="0" y="0" font-size="7.3" text-anchor="start" fill="#000" transform="translate(362.6 567) scale(1 1.13)">gas CO<tspan font-size="5.11" dy="1.82">2</tspan><tspan dy="-1.82">RR </tspan><tspan fill="#c4c4c4">(flow cell)</tspan></text>
<text x="0" y="0" font-size="7.3" text-anchor="start" fill="#000" transform="translate(362.6 578.2) scale(1 1.13)">200 mA cm<tspan font-size="5.11" dy="-2.92">-2</tspan><tspan dy="2.92"></tspan></text>
<path d="M491.6 564.6 554.7 491.4" stroke="#6f6f6f" stroke-width="0.9" fill="none"/>
<path d="M491.6 549.1 554.7 480.6" stroke="#e26764" stroke-width="0.9" fill="none"/>
<path d="M491.6 536.1 541.4 473.9" stroke="#4a90d5" stroke-width="0.9" fill="none"/>
<path d="M563.8 483.8 636.1 462.3" stroke="#6f6f6f" stroke-width="0.9" fill="none"/>
<path d="M563.8 473 636.1 458.7" stroke="#e26764" stroke-width="0.9" fill="none"/>
<path d="M563.8 463.8 636.1 456.3" stroke="#4a90d5" stroke-width="0.9" fill="none"/>
<rect x="491.96" y="561.16" width="3.3" height="3.3" fill="#6f6f6f" stroke="none" stroke-width="0.8"/>
<rect x="521.47" y="528.05" width="3.3" height="3.3" fill="#6f6f6f" stroke="none" stroke-width="0.8"/>
<rect x="531.65" y="516.44" width="3.3" height="3.3" fill="#6f6f6f" stroke="none" stroke-width="0.8"/>
<rect x="539.79" y="503.89" width="3.3" height="3.3" fill="#6f6f6f" stroke="none" stroke-width="0.8"/>
<rect x="553.02" y="487.98" width="3.3" height="3.3" fill="#6f6f6f" stroke="none" stroke-width="0.8"/>
<rect x="562.18" y="481.01" width="3.3" height="3.3" fill="#6f6f6f" stroke="none" stroke-width="0.8"/>
<rect x="592.7" y="469.74" width="3.3" height="3.3" fill="#6f6f6f" stroke="none" stroke-width="0.8"/>
<rect x="611.02" y="464.39" width="3.3" height="3.3" fill="#6f6f6f" stroke="none" stroke-width="0.8"/>
<rect x="623.23" y="460.68" width="3.3" height="3.3" fill="#6f6f6f" stroke="none" stroke-width="0.8"/>
<rect x="633.41" y="461.02" width="3.3" height="3.3" fill="#6f6f6f" stroke="none" stroke-width="0.8"/>
<circle cx="493.61" cy="547.71" r="1.95" fill="#e0534f"/>
<circle cx="523.12" cy="516.34" r="1.95" fill="#e0534f"/>
<circle cx="533.3" cy="502.4" r="1.95" fill="#e0534f"/>
<circle cx="541.44" cy="489.63" r="1.95" fill="#e0534f"/>
<circle cx="554.67" cy="480.91" r="1.95" fill="#e0534f"/>
<circle cx="563.83" cy="472.55" r="1.95" fill="#e0534f"/>
<circle cx="594.35" cy="466.39" r="1.95" fill="#e0534f"/>
<circle cx="612.67" cy="462.67" r="1.95" fill="#e0534f"/>
<circle cx="624.88" cy="460" r="1.95" fill="#e0534f"/>
<circle cx="635.06" cy="458.26" r="1.95" fill="#e0534f"/>
<path d="M493.61 531.98 L495.81 535.81 L491.41 535.81 Z" fill="#3f80c8"/>
<path d="M523.12 499.45 L525.32 503.28 L520.92 503.28 Z" fill="#3f80c8"/>
<path d="M533.3 485.16 L535.5 488.99 L531.1 488.99 Z" fill="#3f80c8"/>
<path d="M541.44 468.32 L543.64 472.14 L539.24 472.14 Z" fill="#3f80c8"/>
<path d="M554.67 465.64 L556.87 469.47 L552.47 469.47 Z" fill="#3f80c8"/>
<path d="M563.83 461.69 L566.03 465.52 L561.63 465.52 Z" fill="#3f80c8"/>
<path d="M594.35 455.65 L596.55 459.48 L592.15 459.48 Z" fill="#3f80c8"/>
<path d="M612.67 454.49 L614.87 458.32 L610.47 458.32 Z" fill="#3f80c8"/>
<path d="M624.88 453.8 L627.08 457.62 L622.68 457.62 Z" fill="#3f80c8"/>
<path d="M635.06 453.33 L637.26 457.16 L632.86 457.16 Z" fill="#3f80c8"/>
<rect x="481.4" y="442" width="173" height="139.4" fill="none" stroke="#444" stroke-width="0.8"/>
<line x1="481.4" y1="581.4" x2="478.4" y2="581.4" stroke="#444" stroke-width="0.7"/>
<text x="0" y="0" font-size="7.8" text-anchor="end" fill="#000" transform="translate(477.4 584.2) scale(1 1.13)">2.2</text>
<line x1="481.4" y1="569.78" x2="479.6" y2="569.78" stroke="#444" stroke-width="0.7"/>
<line x1="481.4" y1="558.17" x2="478.4" y2="558.17" stroke="#444" stroke-width="0.7"/>
<text x="0" y="0" font-size="7.8" text-anchor="end" fill="#000" transform="translate(477.4 560.97) scale(1 1.13)">2.4</text>
<line x1="481.4" y1="546.55" x2="479.6" y2="546.55" stroke="#444" stroke-width="0.7"/>
<line x1="481.4" y1="534.93" x2="478.4" y2="534.93" stroke="#444" stroke-width="0.7"/>
<text x="0" y="0" font-size="7.8" text-anchor="end" fill="#000" transform="translate(477.4 537.73) scale(1 1.13)">2.6</text>
<line x1="481.4" y1="523.31" x2="479.6" y2="523.31" stroke="#444" stroke-width="0.7"/>
<line x1="481.4" y1="511.7" x2="478.4" y2="511.7" stroke="#444" stroke-width="0.7"/>
<text x="0" y="0" font-size="7.8" text-anchor="end" fill="#000" transform="translate(477.4 514.5) scale(1 1.13)">2.8</text>
<line x1="481.4" y1="500.08" x2="479.6" y2="500.08" stroke="#444" stroke-width="0.7"/>
<line x1="481.4" y1="488.46" x2="478.4" y2="488.46" stroke="#444" stroke-width="0.7"/>
<text x="0" y="0" font-size="7.8" text-anchor="end" fill="#000" transform="translate(477.4 491.26) scale(1 1.13)">3.0</text>
<line x1="481.4" y1="476.85" x2="479.6" y2="476.85" stroke="#444" stroke-width="0.7"/>
<line x1="481.4" y1="465.23" x2="478.4" y2="465.23" stroke="#444" stroke-width="0.7"/>
<text x="0" y="0" font-size="7.8" text-anchor="end" fill="#000" transform="translate(477.4 468.03) scale(1 1.13)">3.2</text>
<line x1="481.4" y1="453.61" x2="479.6" y2="453.61" stroke="#444" stroke-width="0.7"/>
<line x1="481.4" y1="442" x2="478.4" y2="442" stroke="#444" stroke-width="0.7"/>
<text x="0" y="0" font-size="7.8" text-anchor="end" fill="#000" transform="translate(477.4 444.8) scale(1 1.13)">3.4</text>
<line x1="481.4" y1="581.4" x2="481.4" y2="583.2" stroke="#444" stroke-width="0.7"/>
<line x1="491.58" y1="581.4" x2="491.58" y2="584.4" stroke="#444" stroke-width="0.7"/>
<text x="0" y="0" font-size="7.8" text-anchor="middle" fill="#000" transform="translate(491.58 591.6) scale(1 1.13)">&#8722;2.8</text>
<line x1="501.75" y1="581.4" x2="501.75" y2="583.2" stroke="#444" stroke-width="0.7"/>
<line x1="511.93" y1="581.4" x2="511.93" y2="584.4" stroke="#444" stroke-width="0.7"/>
<text x="0" y="0" font-size="7.8" text-anchor="middle" fill="#000" transform="translate(511.93 591.6) scale(1 1.13)">&#8722;2.6</text>
<line x1="522.1" y1="581.4" x2="522.1" y2="583.2" stroke="#444" stroke-width="0.7"/>
<line x1="532.28" y1="581.4" x2="532.28" y2="584.4" stroke="#444" stroke-width="0.7"/>
<text x="0" y="0" font-size="7.8" text-anchor="middle" fill="#000" transform="translate(532.28 591.6) scale(1 1.13)">&#8722;2.4</text>
<line x1="542.46" y1="581.4" x2="542.46" y2="583.2" stroke="#444" stroke-width="0.7"/>
<line x1="552.63" y1="581.4" x2="552.63" y2="584.4" stroke="#444" stroke-width="0.7"/>
<text x="0" y="0" font-size="7.8" text-anchor="middle" fill="#000" transform="translate(552.63 591.6) scale(1 1.13)">&#8722;2.2</text>
<line x1="562.81" y1="581.4" x2="562.81" y2="583.2" stroke="#444" stroke-width="0.7"/>
<line x1="572.98" y1="581.4" x2="572.98" y2="584.4" stroke="#444" stroke-width="0.7"/>
<text x="0" y="0" font-size="7.8" text-anchor="middle" fill="#000" transform="translate(572.98 591.6) scale(1 1.13)">&#8722;2.0</text>
<line x1="583.16" y1="581.4" x2="583.16" y2="583.2" stroke="#444" stroke-width="0.7"/>
<line x1="593.34" y1="581.4" x2="593.34" y2="584.4" stroke="#444" stroke-width="0.7"/>
<text x="0" y="0" font-size="7.8" text-anchor="middle" fill="#000" transform="translate(593.34 591.6) scale(1 1.13)">&#8722;1.8</text>
<line x1="603.51" y1="581.4" x2="603.51" y2="583.2" stroke="#444" stroke-width="0.7"/>
<line x1="613.69" y1="581.4" x2="613.69" y2="584.4" stroke="#444" stroke-width="0.7"/>
<text x="0" y="0" font-size="7.8" text-anchor="middle" fill="#000" transform="translate(613.69 591.6) scale(1 1.13)">&#8722;1.6</text>
<line x1="623.86" y1="581.4" x2="623.86" y2="583.2" stroke="#444" stroke-width="0.7"/>
<line x1="634.04" y1="581.4" x2="634.04" y2="584.4" stroke="#444" stroke-width="0.7"/>
<text x="0" y="0" font-size="7.8" text-anchor="middle" fill="#000" transform="translate(634.04 591.6) scale(1 1.13)">&#8722;1.4</text>
<line x1="644.22" y1="581.4" x2="644.22" y2="583.2" stroke="#444" stroke-width="0.7"/>
<line x1="654.39" y1="581.4" x2="654.39" y2="584.4" stroke="#444" stroke-width="0.7"/>
<text x="0" y="0" font-size="7.8" text-anchor="middle" fill="#000" transform="translate(654.39 591.6) scale(1 1.13)">&#8722;1.2</text>
<text x="0" y="0" font-size="8.6" text-anchor="middle" fill="#000" transform="translate(566.8 603) scale(1 1.13)">log c<tspan font-size="6.2" dy="2.2">CO</tspan><tspan font-size="4.4" dy="1.2">2</tspan><tspan dy="-3.4">/M</tspan></text>
<text x="0" y="0" font-size="8.19" text-anchor="middle" fill="#000" transform="translate(460.4 511.6) scale(1 1.05) rotate(-90)">log (j<tspan font-size="6.02" dy="2.15">CO</tspan><tspan dy="-2.15">/A m<tspan font-size="6.02" dy="-3.44">-2</tspan><tspan dy="3.44">)</tspan></tspan></text>
<rect x="588.35" y="555.95" width="3.3" height="3.3" fill="#6f6f6f" stroke="none" stroke-width="0.8"/>
<circle cx="590" cy="566" r="1.95" fill="#e0534f"/>
<path d="M590 573.03 L592.2 576.85 L587.8 576.85 Z" fill="#3f80c8"/>
<text x="0" y="0" font-size="7.5" text-anchor="start" fill="#000" transform="translate(599.6 560.4) scale(1 1.13)">DirectionalMeso</text>
<text x="0" y="0" font-size="7.5" text-anchor="start" fill="#000" transform="translate(599.6 569) scale(1 1.13)">IsotropicMeso</text>
<text x="0" y="0" font-size="7.5" text-anchor="start" fill="#000" transform="translate(599.6 578.2) scale(1 1.13)">IsotropicNano</text>
<text x="0" y="0" font-size="7.6" text-anchor="start" fill="#000" transform="translate(482.8 545) scale(1 1.13)">0.95</text>
<text x="0" y="0" font-size="7.6" text-anchor="start" fill="#000" transform="translate(509.8 499) scale(1 1.13)">1.09</text>
<text x="0" y="0" font-size="7.6" text-anchor="start" fill="#000" transform="translate(530.8 531) scale(1 1.13)">1.01</text>
<text x="0" y="0" font-size="7.6" text-anchor="start" fill="#000" transform="translate(582.7 458) scale(1 1.13)">0.09</text>
<text x="0" y="0" font-size="7.6" text-anchor="start" fill="#000" transform="translate(609 477.4) scale(1 1.13)">0.26</text>
<text x="0" y="0" font-size="7.6" text-anchor="start" fill="#000" transform="translate(637.7 462.4) scale(1 1.13)">0.17</text>
<text transform="translate(484.4 459.6) scale(0.52 1)" font-size="19.5" style="font-family:'Liberation Serif',serif" stroke="#000" stroke-width="0.12">(</text>
<text transform="translate(523.8 459.6) scale(0.52 1)" font-size="19.5" style="font-family:'Liberation Serif',serif" stroke="#000" stroke-width="0.12">)</text>
<text x="0" y="0" font-size="7.4" text-anchor="start" fill="#000" transform="translate(490.3 451.4) scale(1 1.13)" style="font-family:'Liberation Serif',serif" stroke="#000" stroke-width="0.12">&#8706;log (<tspan font-style="italic">j</tspan><tspan font-size="5.6" dy="1.3">CO</tspan><tspan dy="-1.3">)</tspan></text>
<line x1="488.6" y1="453.4" x2="523.8" y2="453.4" stroke="#222" stroke-width="0.55"/>
<text x="0" y="0" font-size="7.4" text-anchor="start" fill="#000" transform="translate(488.4 461) scale(1 1.13)" style="font-family:'Liberation Serif',serif" stroke="#000" stroke-width="0.12">&#8706;log (<tspan font-style="italic">c</tspan><tspan font-size="5.6" dy="1.3">CO</tspan><tspan font-size="3.9" dy="1.0">2</tspan><tspan dy="-2.3">)</tspan></text>
<text x="0" y="0" font-size="5.2" text-anchor="start" fill="#333" transform="translate(527.6 464.8) scale(1 1.13)" style="font-family:'Liberation Serif',serif;font-style:italic;letter-spacing:0.7px">T,P,E</text></svg>
</body></html>
